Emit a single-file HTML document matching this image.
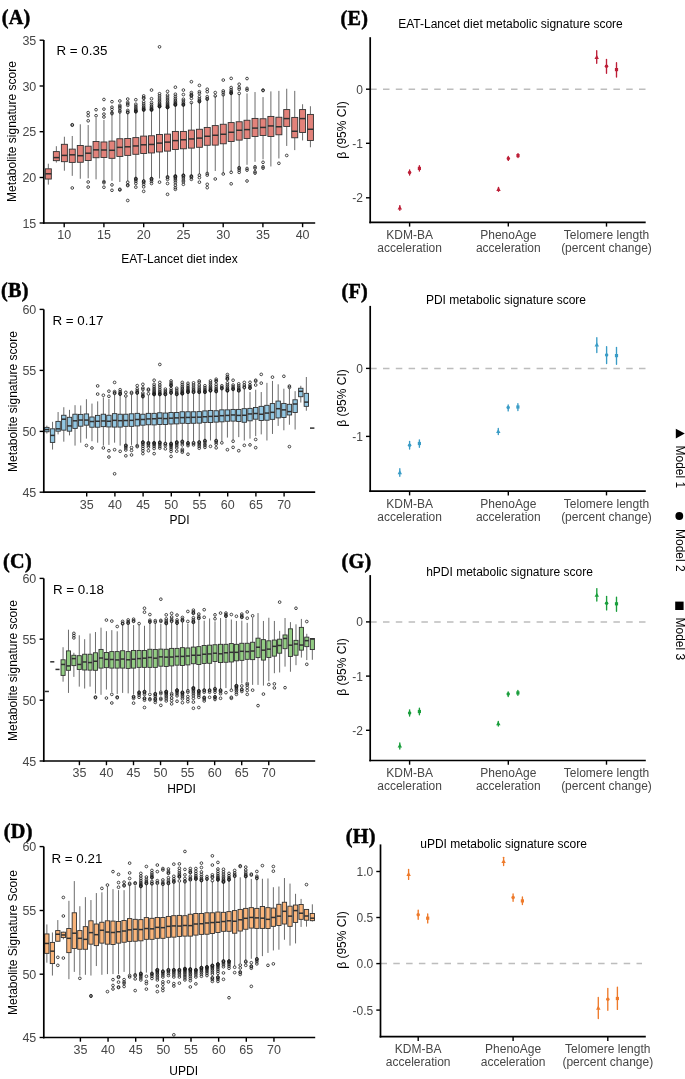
<!DOCTYPE html>
<html><head><meta charset="utf-8"><title>Figure</title>
<style>html,body{margin:0;padding:0;background:#fff}svg{display:block}</style></head>
<body>
<svg width="685" height="1079" viewBox="0 0 685 1079">
<rect width="685" height="1079" fill="#fff"/>
<text x="1.70" y="24.10" font-size="20.2" text-anchor="start" fill="#000" font-family="Liberation Serif, Times New Roman, serif" font-weight="bold" stroke="#000" stroke-width="0.5" stroke-linejoin="round" letter-spacing="0.3">(A)</text>
<g fill="none" stroke="#2b2b2b" stroke-width="0.55">
</g>
<g fill="none" stroke="#1c1c1c" stroke-width="0.8">
<line x1="48.32" y1="163.72" x2="48.32" y2="168.83" stroke="#6c6c6c" stroke-width="1.0" />
<line x1="48.32" y1="179.05" x2="48.32" y2="184.60" stroke="#6c6c6c" stroke-width="1.0" />
<line x1="56.35" y1="146.20" x2="56.35" y2="151.61" stroke="#6c6c6c" stroke-width="1.0" />
<line x1="56.35" y1="160.66" x2="56.35" y2="162.55" stroke="#6c6c6c" stroke-width="1.0" />
<line x1="64.38" y1="136.72" x2="64.38" y2="144.31" stroke="#6c6c6c" stroke-width="1.0" />
<line x1="64.38" y1="161.68" x2="64.38" y2="170.73" stroke="#6c6c6c" stroke-width="1.0" />
<line x1="72.26" y1="135.99" x2="72.26" y2="149.12" stroke="#6c6c6c" stroke-width="1.0" />
<line x1="72.26" y1="162.41" x2="72.26" y2="175.84" stroke="#6c6c6c" stroke-width="1.0" />
<line x1="80.29" y1="124.31" x2="80.29" y2="145.47" stroke="#6c6c6c" stroke-width="1.0" />
<line x1="80.29" y1="162.26" x2="80.29" y2="178.76" stroke="#6c6c6c" stroke-width="1.0" />
<line x1="88.18" y1="125.04" x2="88.18" y2="146.20" stroke="#6c6c6c" stroke-width="1.0" />
<line x1="88.18" y1="160.51" x2="88.18" y2="178.32" stroke="#6c6c6c" stroke-width="1.0" />
<line x1="96.06" y1="117.74" x2="96.06" y2="141.53" stroke="#6c6c6c" stroke-width="1.0" />
<line x1="96.06" y1="157.74" x2="96.06" y2="179.34" stroke="#6c6c6c" stroke-width="1.0" />
<line x1="103.94" y1="119.93" x2="103.94" y2="141.97" stroke="#6c6c6c" stroke-width="1.0" />
<line x1="103.94" y1="157.45" x2="103.94" y2="179.78" stroke="#6c6c6c" stroke-width="1.0" />
<line x1="111.97" y1="114.09" x2="111.97" y2="141.09" stroke="#6c6c6c" stroke-width="1.0" />
<line x1="111.97" y1="158.32" x2="111.97" y2="180.80" stroke="#6c6c6c" stroke-width="1.0" />
<line x1="119.85" y1="111.90" x2="119.85" y2="138.76" stroke="#6c6c6c" stroke-width="1.0" />
<line x1="119.85" y1="156.42" x2="119.85" y2="181.97" stroke="#6c6c6c" stroke-width="1.0" />
<line x1="127.74" y1="113.36" x2="127.74" y2="138.47" stroke="#6c6c6c" stroke-width="1.0" />
<line x1="127.74" y1="155.40" x2="127.74" y2="181.24" stroke="#6c6c6c" stroke-width="1.0" />
<line x1="135.84" y1="110.08" x2="135.84" y2="137.61" stroke="#6c6c6c" stroke-width="1.0" />
<line x1="135.84" y1="154.29" x2="135.84" y2="178.48" stroke="#6c6c6c" stroke-width="1.0" />
<line x1="143.68" y1="108.41" x2="143.68" y2="136.11" stroke="#6c6c6c" stroke-width="1.0" />
<line x1="143.68" y1="153.46" x2="143.68" y2="180.15" stroke="#6c6c6c" stroke-width="1.0" />
<line x1="151.52" y1="108.41" x2="151.52" y2="135.77" stroke="#6c6c6c" stroke-width="1.0" />
<line x1="151.52" y1="152.96" x2="151.52" y2="178.48" stroke="#6c6c6c" stroke-width="1.0" />
<line x1="159.53" y1="105.91" x2="159.53" y2="134.44" stroke="#6c6c6c" stroke-width="1.0" />
<line x1="159.53" y1="151.96" x2="159.53" y2="178.48" stroke="#6c6c6c" stroke-width="1.0" />
<line x1="167.54" y1="106.74" x2="167.54" y2="134.10" stroke="#6c6c6c" stroke-width="1.0" />
<line x1="167.54" y1="151.12" x2="167.54" y2="176.81" stroke="#6c6c6c" stroke-width="1.0" />
<line x1="175.38" y1="104.24" x2="175.38" y2="131.43" stroke="#6c6c6c" stroke-width="1.0" />
<line x1="175.38" y1="149.45" x2="175.38" y2="175.98" stroke="#6c6c6c" stroke-width="1.0" />
<line x1="183.39" y1="103.41" x2="183.39" y2="131.43" stroke="#6c6c6c" stroke-width="1.0" />
<line x1="183.39" y1="148.79" x2="183.39" y2="175.15" stroke="#6c6c6c" stroke-width="1.0" />
<line x1="191.39" y1="102.57" x2="191.39" y2="130.10" stroke="#6c6c6c" stroke-width="1.0" />
<line x1="191.39" y1="148.12" x2="191.39" y2="175.98" stroke="#6c6c6c" stroke-width="1.0" />
<line x1="199.40" y1="100.90" x2="199.40" y2="129.27" stroke="#6c6c6c" stroke-width="1.0" />
<line x1="199.40" y1="147.28" x2="199.40" y2="174.31" stroke="#6c6c6c" stroke-width="1.0" />
<line x1="207.24" y1="99.24" x2="207.24" y2="127.43" stroke="#6c6c6c" stroke-width="1.0" />
<line x1="207.24" y1="145.28" x2="207.24" y2="173.48" stroke="#6c6c6c" stroke-width="1.0" />
<line x1="215.25" y1="95.90" x2="215.25" y2="125.60" stroke="#6c6c6c" stroke-width="1.0" />
<line x1="215.25" y1="145.12" x2="215.25" y2="170.97" stroke="#6c6c6c" stroke-width="1.0" />
<line x1="223.26" y1="94.23" x2="223.26" y2="124.26" stroke="#6c6c6c" stroke-width="1.0" />
<line x1="223.26" y1="143.78" x2="223.26" y2="173.48" stroke="#6c6c6c" stroke-width="1.0" />
<line x1="231.17" y1="91.73" x2="231.17" y2="122.59" stroke="#6c6c6c" stroke-width="1.0" />
<line x1="231.17" y1="141.44" x2="231.17" y2="171.81" stroke="#6c6c6c" stroke-width="1.0" />
<line x1="239.18" y1="94.23" x2="239.18" y2="121.76" stroke="#6c6c6c" stroke-width="1.0" />
<line x1="239.18" y1="140.11" x2="239.18" y2="167.64" stroke="#6c6c6c" stroke-width="1.0" />
<line x1="247.02" y1="93.40" x2="247.02" y2="120.26" stroke="#6c6c6c" stroke-width="1.0" />
<line x1="247.02" y1="138.44" x2="247.02" y2="164.80" stroke="#6c6c6c" stroke-width="1.0" />
<line x1="255.03" y1="92.06" x2="255.03" y2="118.42" stroke="#6c6c6c" stroke-width="1.0" />
<line x1="255.03" y1="136.44" x2="255.03" y2="161.80" stroke="#6c6c6c" stroke-width="1.0" />
<line x1="263.04" y1="97.07" x2="263.04" y2="118.76" stroke="#6c6c6c" stroke-width="1.0" />
<line x1="263.04" y1="135.44" x2="263.04" y2="159.30" stroke="#6c6c6c" stroke-width="1.0" />
<line x1="270.88" y1="91.39" x2="270.88" y2="116.42" stroke="#6c6c6c" stroke-width="1.0" />
<line x1="270.88" y1="136.44" x2="270.88" y2="166.47" stroke="#6c6c6c" stroke-width="1.0" />
<line x1="278.89" y1="90.89" x2="278.89" y2="117.25" stroke="#6c6c6c" stroke-width="1.0" />
<line x1="278.89" y1="134.77" x2="278.89" y2="158.46" stroke="#6c6c6c" stroke-width="1.0" />
<line x1="286.73" y1="88.73" x2="286.73" y2="109.58" stroke="#6c6c6c" stroke-width="1.0" />
<line x1="286.73" y1="126.43" x2="286.73" y2="145.95" stroke="#6c6c6c" stroke-width="1.0" />
<line x1="294.74" y1="90.89" x2="294.74" y2="117.42" stroke="#6c6c6c" stroke-width="1.0" />
<line x1="294.74" y1="137.77" x2="294.74" y2="150.12" stroke="#6c6c6c" stroke-width="1.0" />
<line x1="302.58" y1="104.24" x2="302.58" y2="109.58" stroke="#6c6c6c" stroke-width="1.0" />
<line x1="302.58" y1="132.44" x2="302.58" y2="140.44" stroke="#6c6c6c" stroke-width="1.0" />
<line x1="310.42" y1="106.24" x2="310.42" y2="114.42" stroke="#6c6c6c" stroke-width="1.0" />
<line x1="310.42" y1="140.44" x2="310.42" y2="147.28" stroke="#6c6c6c" stroke-width="1.0" />
<circle cx="72.26" cy="124.74" r="1.35"/>
<circle cx="72.26" cy="125.18" r="1.35"/>
<circle cx="72.26" cy="187.96" r="1.35"/>
<circle cx="88.18" cy="112.63" r="1.35"/>
<circle cx="88.18" cy="115.69" r="1.35"/>
<circle cx="88.18" cy="120.80" r="1.35"/>
<circle cx="88.18" cy="181.97" r="1.35"/>
<circle cx="88.18" cy="187.08" r="1.35"/>
<circle cx="96.06" cy="109.71" r="1.35"/>
<circle cx="96.06" cy="115.69" r="1.35"/>
<circle cx="103.94" cy="99.49" r="1.35"/>
<circle cx="103.94" cy="109.12" r="1.35"/>
<circle cx="103.94" cy="114.09" r="1.35"/>
<circle cx="103.94" cy="117.01" r="1.35"/>
<circle cx="103.94" cy="181.53" r="1.35"/>
<circle cx="103.94" cy="182.70" r="1.35"/>
<circle cx="103.94" cy="187.23" r="1.35"/>
<circle cx="111.97" cy="101.68" r="1.35"/>
<circle cx="111.97" cy="107.23" r="1.35"/>
<circle cx="111.97" cy="109.42" r="1.35"/>
<circle cx="111.97" cy="113.65" r="1.35"/>
<circle cx="111.97" cy="112.63" r="1.35"/>
<circle cx="111.97" cy="184.89" r="1.35"/>
<circle cx="111.97" cy="190.29" r="1.35"/>
<circle cx="119.85" cy="100.95" r="1.35"/>
<circle cx="119.85" cy="105.33" r="1.35"/>
<circle cx="119.85" cy="108.25" r="1.35"/>
<circle cx="119.85" cy="106.79" r="1.35"/>
<circle cx="119.85" cy="111.90" r="1.35"/>
<circle cx="119.85" cy="110.44" r="1.35"/>
<circle cx="119.85" cy="189.27" r="1.35"/>
<circle cx="119.85" cy="190.00" r="1.35"/>
<circle cx="127.74" cy="99.05" r="1.35"/>
<circle cx="127.74" cy="102.41" r="1.35"/>
<circle cx="127.74" cy="105.33" r="1.35"/>
<circle cx="127.74" cy="103.87" r="1.35"/>
<circle cx="127.74" cy="112.63" r="1.35"/>
<circle cx="127.74" cy="112.04" r="1.35"/>
<circle cx="127.74" cy="110.44" r="1.35"/>
<circle cx="127.74" cy="182.26" r="1.35"/>
<circle cx="127.74" cy="184.89" r="1.35"/>
<circle cx="127.74" cy="185.62" r="1.35"/>
<circle cx="127.74" cy="200.51" r="1.35"/>
<circle cx="135.84" cy="99.74" r="1.35"/>
<circle cx="135.84" cy="111.75" r="1.35"/>
<circle cx="135.84" cy="111.56" r="1.35"/>
<circle cx="135.84" cy="111.05" r="1.35"/>
<circle cx="135.84" cy="110.25" r="1.35"/>
<circle cx="135.84" cy="109.16" r="1.35"/>
<circle cx="135.84" cy="107.79" r="1.35"/>
<circle cx="135.84" cy="106.15" r="1.35"/>
<circle cx="135.84" cy="104.24" r="1.35"/>
<circle cx="135.84" cy="178.48" r="1.35"/>
<circle cx="135.84" cy="178.84" r="1.35"/>
<circle cx="135.84" cy="179.82" r="1.35"/>
<circle cx="135.84" cy="181.38" r="1.35"/>
<circle cx="135.84" cy="183.49" r="1.35"/>
<circle cx="135.84" cy="187.16" r="1.35"/>
<circle cx="143.68" cy="98.40" r="1.35"/>
<circle cx="143.68" cy="97.73" r="1.35"/>
<circle cx="143.68" cy="95.90" r="1.35"/>
<circle cx="143.68" cy="110.08" r="1.35"/>
<circle cx="143.68" cy="109.87" r="1.35"/>
<circle cx="143.68" cy="109.31" r="1.35"/>
<circle cx="143.68" cy="108.41" r="1.35"/>
<circle cx="143.68" cy="107.20" r="1.35"/>
<circle cx="143.68" cy="105.68" r="1.35"/>
<circle cx="143.68" cy="103.86" r="1.35"/>
<circle cx="143.68" cy="101.74" r="1.35"/>
<circle cx="143.68" cy="180.98" r="1.35"/>
<circle cx="143.68" cy="181.40" r="1.35"/>
<circle cx="143.68" cy="182.53" r="1.35"/>
<circle cx="143.68" cy="184.32" r="1.35"/>
<circle cx="143.68" cy="186.82" r="1.35"/>
<circle cx="143.68" cy="191.33" r="1.35"/>
<circle cx="151.52" cy="90.06" r="1.35"/>
<circle cx="151.52" cy="98.74" r="1.35"/>
<circle cx="151.52" cy="110.08" r="1.35"/>
<circle cx="151.52" cy="109.89" r="1.35"/>
<circle cx="151.52" cy="109.39" r="1.35"/>
<circle cx="151.52" cy="108.58" r="1.35"/>
<circle cx="151.52" cy="107.49" r="1.35"/>
<circle cx="151.52" cy="106.12" r="1.35"/>
<circle cx="151.52" cy="104.48" r="1.35"/>
<circle cx="151.52" cy="102.57" r="1.35"/>
<circle cx="151.52" cy="178.48" r="1.35"/>
<circle cx="151.52" cy="178.84" r="1.35"/>
<circle cx="151.52" cy="179.82" r="1.35"/>
<circle cx="151.52" cy="181.38" r="1.35"/>
<circle cx="151.52" cy="183.49" r="1.35"/>
<circle cx="159.53" cy="46.85" r="1.35"/>
<circle cx="159.53" cy="93.73" r="1.35"/>
<circle cx="159.53" cy="106.74" r="1.35"/>
<circle cx="159.53" cy="106.58" r="1.35"/>
<circle cx="159.53" cy="106.12" r="1.35"/>
<circle cx="159.53" cy="105.40" r="1.35"/>
<circle cx="159.53" cy="104.42" r="1.35"/>
<circle cx="159.53" cy="103.19" r="1.35"/>
<circle cx="159.53" cy="101.72" r="1.35"/>
<circle cx="159.53" cy="100.02" r="1.35"/>
<circle cx="159.53" cy="98.07" r="1.35"/>
<circle cx="159.53" cy="95.90" r="1.35"/>
<circle cx="159.53" cy="182.15" r="1.35"/>
<circle cx="167.54" cy="91.39" r="1.35"/>
<circle cx="167.54" cy="107.58" r="1.35"/>
<circle cx="167.54" cy="107.45" r="1.35"/>
<circle cx="167.54" cy="107.09" r="1.35"/>
<circle cx="167.54" cy="106.52" r="1.35"/>
<circle cx="167.54" cy="105.75" r="1.35"/>
<circle cx="167.54" cy="104.78" r="1.35"/>
<circle cx="167.54" cy="103.62" r="1.35"/>
<circle cx="167.54" cy="102.28" r="1.35"/>
<circle cx="167.54" cy="100.75" r="1.35"/>
<circle cx="167.54" cy="99.03" r="1.35"/>
<circle cx="167.54" cy="97.14" r="1.35"/>
<circle cx="167.54" cy="95.07" r="1.35"/>
<circle cx="167.54" cy="176.81" r="1.35"/>
<circle cx="167.54" cy="177.48" r="1.35"/>
<circle cx="167.54" cy="179.32" r="1.35"/>
<circle cx="167.54" cy="183.49" r="1.35"/>
<circle cx="167.54" cy="194.33" r="1.35"/>
<circle cx="175.38" cy="87.22" r="1.35"/>
<circle cx="175.38" cy="105.08" r="1.35"/>
<circle cx="175.38" cy="104.91" r="1.35"/>
<circle cx="175.38" cy="104.45" r="1.35"/>
<circle cx="175.38" cy="103.73" r="1.35"/>
<circle cx="175.38" cy="102.75" r="1.35"/>
<circle cx="175.38" cy="101.53" r="1.35"/>
<circle cx="175.38" cy="100.06" r="1.35"/>
<circle cx="175.38" cy="98.35" r="1.35"/>
<circle cx="175.38" cy="96.41" r="1.35"/>
<circle cx="175.38" cy="94.23" r="1.35"/>
<circle cx="175.38" cy="175.98" r="1.35"/>
<circle cx="175.38" cy="176.20" r="1.35"/>
<circle cx="175.38" cy="176.81" r="1.35"/>
<circle cx="175.38" cy="177.77" r="1.35"/>
<circle cx="175.38" cy="179.07" r="1.35"/>
<circle cx="175.38" cy="180.70" r="1.35"/>
<circle cx="175.38" cy="182.65" r="1.35"/>
<circle cx="175.38" cy="185.16" r="1.35"/>
<circle cx="175.38" cy="187.66" r="1.35"/>
<circle cx="175.38" cy="189.33" r="1.35"/>
<circle cx="183.39" cy="90.06" r="1.35"/>
<circle cx="183.39" cy="94.56" r="1.35"/>
<circle cx="183.39" cy="99.24" r="1.35"/>
<circle cx="183.39" cy="105.08" r="1.35"/>
<circle cx="183.39" cy="104.78" r="1.35"/>
<circle cx="183.39" cy="103.96" r="1.35"/>
<circle cx="183.39" cy="102.66" r="1.35"/>
<circle cx="183.39" cy="100.90" r="1.35"/>
<circle cx="183.39" cy="175.15" r="1.35"/>
<circle cx="183.39" cy="175.50" r="1.35"/>
<circle cx="183.39" cy="176.49" r="1.35"/>
<circle cx="183.39" cy="178.04" r="1.35"/>
<circle cx="183.39" cy="180.15" r="1.35"/>
<circle cx="183.39" cy="181.82" r="1.35"/>
<circle cx="183.39" cy="184.32" r="1.35"/>
<circle cx="191.39" cy="81.72" r="1.35"/>
<circle cx="191.39" cy="95.90" r="1.35"/>
<circle cx="191.39" cy="95.49" r="1.35"/>
<circle cx="191.39" cy="94.35" r="1.35"/>
<circle cx="191.39" cy="92.56" r="1.35"/>
<circle cx="191.39" cy="98.40" r="1.35"/>
<circle cx="191.39" cy="102.57" r="1.35"/>
<circle cx="191.39" cy="175.98" r="1.35"/>
<circle cx="191.39" cy="176.39" r="1.35"/>
<circle cx="191.39" cy="177.52" r="1.35"/>
<circle cx="191.39" cy="179.32" r="1.35"/>
<circle cx="199.40" cy="85.39" r="1.35"/>
<circle cx="199.40" cy="93.40" r="1.35"/>
<circle cx="199.40" cy="91.73" r="1.35"/>
<circle cx="199.40" cy="101.74" r="1.35"/>
<circle cx="199.40" cy="101.38" r="1.35"/>
<circle cx="199.40" cy="100.40" r="1.35"/>
<circle cx="199.40" cy="98.84" r="1.35"/>
<circle cx="199.40" cy="96.73" r="1.35"/>
<circle cx="199.40" cy="175.15" r="1.35"/>
<circle cx="199.40" cy="177.65" r="1.35"/>
<circle cx="199.40" cy="182.15" r="1.35"/>
<circle cx="207.24" cy="89.23" r="1.35"/>
<circle cx="207.24" cy="91.73" r="1.35"/>
<circle cx="207.24" cy="99.24" r="1.35"/>
<circle cx="207.24" cy="98.57" r="1.35"/>
<circle cx="207.24" cy="96.73" r="1.35"/>
<circle cx="207.24" cy="173.48" r="1.35"/>
<circle cx="207.24" cy="175.15" r="1.35"/>
<circle cx="207.24" cy="184.32" r="1.35"/>
<circle cx="207.24" cy="187.66" r="1.35"/>
<circle cx="215.25" cy="92.56" r="1.35"/>
<circle cx="215.25" cy="95.90" r="1.35"/>
<circle cx="215.25" cy="178.98" r="1.35"/>
<circle cx="223.26" cy="80.05" r="1.35"/>
<circle cx="223.26" cy="92.56" r="1.35"/>
<circle cx="223.26" cy="90.89" r="1.35"/>
<circle cx="223.26" cy="94.73" r="1.35"/>
<circle cx="223.26" cy="173.98" r="1.35"/>
<circle cx="231.17" cy="78.38" r="1.35"/>
<circle cx="231.17" cy="93.40" r="1.35"/>
<circle cx="231.17" cy="93.12" r="1.35"/>
<circle cx="231.17" cy="92.37" r="1.35"/>
<circle cx="231.17" cy="91.18" r="1.35"/>
<circle cx="231.17" cy="89.58" r="1.35"/>
<circle cx="231.17" cy="87.56" r="1.35"/>
<circle cx="231.17" cy="172.31" r="1.35"/>
<circle cx="231.17" cy="183.82" r="1.35"/>
<circle cx="239.18" cy="84.22" r="1.35"/>
<circle cx="239.18" cy="89.23" r="1.35"/>
<circle cx="239.18" cy="87.56" r="1.35"/>
<circle cx="239.18" cy="93.40" r="1.35"/>
<circle cx="239.18" cy="167.64" r="1.35"/>
<circle cx="239.18" cy="168.31" r="1.35"/>
<circle cx="239.18" cy="170.14" r="1.35"/>
<circle cx="239.18" cy="172.31" r="1.35"/>
<circle cx="247.02" cy="78.55" r="1.35"/>
<circle cx="247.02" cy="90.06" r="1.35"/>
<circle cx="247.02" cy="88.39" r="1.35"/>
<circle cx="247.02" cy="168.47" r="1.35"/>
<circle cx="247.02" cy="170.14" r="1.35"/>
<circle cx="247.02" cy="180.98" r="1.35"/>
<circle cx="255.03" cy="166.80" r="1.35"/>
<circle cx="255.03" cy="168.14" r="1.35"/>
<circle cx="255.03" cy="171.81" r="1.35"/>
<circle cx="255.03" cy="173.14" r="1.35"/>
<circle cx="263.04" cy="90.56" r="1.35"/>
<circle cx="263.04" cy="90.06" r="1.35"/>
<circle cx="263.04" cy="162.30" r="1.35"/>
<circle cx="263.04" cy="166.80" r="1.35"/>
<circle cx="263.04" cy="168.14" r="1.35"/>
<circle cx="278.89" cy="163.30" r="1.35"/>
<circle cx="286.73" cy="155.46" r="1.35"/>
<rect x="45.32" y="168.83" width="6.00" height="10.22" fill="#e2827a" stroke="#303030" stroke-width="0.9"/>
<line x1="45.32" y1="173.80" x2="51.32" y2="173.80" stroke="#303030" stroke-width="1.5" />
<rect x="53.35" y="151.61" width="6.00" height="9.05" fill="#e2827a" stroke="#303030" stroke-width="0.9"/>
<line x1="53.35" y1="157.59" x2="59.35" y2="157.59" stroke="#303030" stroke-width="1.5" />
<rect x="61.38" y="144.31" width="6.00" height="17.37" fill="#e2827a" stroke="#303030" stroke-width="0.9"/>
<line x1="61.38" y1="155.40" x2="67.38" y2="155.40" stroke="#303030" stroke-width="1.5" />
<rect x="69.26" y="149.12" width="6.00" height="13.28" fill="#e2827a" stroke="#303030" stroke-width="0.9"/>
<line x1="69.26" y1="154.82" x2="75.26" y2="154.82" stroke="#303030" stroke-width="1.5" />
<rect x="77.29" y="145.47" width="6.00" height="16.79" fill="#e2827a" stroke="#303030" stroke-width="0.9"/>
<line x1="77.29" y1="155.69" x2="83.29" y2="155.69" stroke="#303030" stroke-width="1.5" />
<rect x="85.18" y="146.20" width="6.00" height="14.31" fill="#e2827a" stroke="#303030" stroke-width="0.9"/>
<line x1="85.18" y1="153.21" x2="91.18" y2="153.21" stroke="#303030" stroke-width="1.5" />
<rect x="93.06" y="141.53" width="6.00" height="16.20" fill="#e2827a" stroke="#303030" stroke-width="0.9"/>
<line x1="93.06" y1="149.85" x2="99.06" y2="149.85" stroke="#303030" stroke-width="1.5" />
<rect x="100.94" y="141.97" width="6.00" height="15.47" fill="#e2827a" stroke="#303030" stroke-width="0.9"/>
<line x1="100.94" y1="150.00" x2="106.94" y2="150.00" stroke="#303030" stroke-width="1.5" />
<rect x="108.97" y="141.09" width="6.00" height="17.23" fill="#e2827a" stroke="#303030" stroke-width="0.9"/>
<line x1="108.97" y1="150.29" x2="114.97" y2="150.29" stroke="#303030" stroke-width="1.5" />
<rect x="116.85" y="138.76" width="6.00" height="17.66" fill="#e2827a" stroke="#303030" stroke-width="0.9"/>
<line x1="116.85" y1="147.37" x2="122.85" y2="147.37" stroke="#303030" stroke-width="1.5" />
<rect x="124.74" y="138.47" width="6.00" height="16.93" fill="#e2827a" stroke="#303030" stroke-width="0.9"/>
<line x1="124.74" y1="146.79" x2="130.74" y2="146.79" stroke="#303030" stroke-width="1.5" />
<rect x="132.84" y="137.61" width="6.00" height="16.68" fill="#e2827a" stroke="#303030" stroke-width="0.9"/>
<line x1="132.84" y1="145.95" x2="138.84" y2="145.95" stroke="#303030" stroke-width="1.5" />
<rect x="140.68" y="136.11" width="6.00" height="17.35" fill="#e2827a" stroke="#303030" stroke-width="0.9"/>
<line x1="140.68" y1="144.78" x2="146.68" y2="144.78" stroke="#303030" stroke-width="1.5" />
<rect x="148.52" y="135.77" width="6.00" height="17.18" fill="#e2827a" stroke="#303030" stroke-width="0.9"/>
<line x1="148.52" y1="144.45" x2="154.52" y2="144.45" stroke="#303030" stroke-width="1.5" />
<rect x="156.53" y="134.44" width="6.00" height="17.52" fill="#e2827a" stroke="#303030" stroke-width="0.9"/>
<line x1="156.53" y1="143.11" x2="162.53" y2="143.11" stroke="#303030" stroke-width="1.5" />
<rect x="164.54" y="134.10" width="6.00" height="17.02" fill="#e2827a" stroke="#303030" stroke-width="0.9"/>
<line x1="164.54" y1="142.11" x2="170.54" y2="142.11" stroke="#303030" stroke-width="1.5" />
<rect x="172.38" y="131.43" width="6.00" height="18.02" fill="#e2827a" stroke="#303030" stroke-width="0.9"/>
<line x1="172.38" y1="140.61" x2="178.38" y2="140.61" stroke="#303030" stroke-width="1.5" />
<rect x="180.39" y="131.43" width="6.00" height="17.35" fill="#e2827a" stroke="#303030" stroke-width="0.9"/>
<line x1="180.39" y1="139.78" x2="186.39" y2="139.78" stroke="#303030" stroke-width="1.5" />
<rect x="188.39" y="130.10" width="6.00" height="18.02" fill="#e2827a" stroke="#303030" stroke-width="0.9"/>
<line x1="188.39" y1="138.94" x2="194.39" y2="138.94" stroke="#303030" stroke-width="1.5" />
<rect x="196.40" y="129.27" width="6.00" height="18.02" fill="#e2827a" stroke="#303030" stroke-width="0.9"/>
<line x1="196.40" y1="138.11" x2="202.40" y2="138.11" stroke="#303030" stroke-width="1.5" />
<rect x="204.24" y="127.43" width="6.00" height="17.85" fill="#e2827a" stroke="#303030" stroke-width="0.9"/>
<line x1="204.24" y1="136.27" x2="210.24" y2="136.27" stroke="#303030" stroke-width="1.5" />
<rect x="212.25" y="125.60" width="6.00" height="19.52" fill="#e2827a" stroke="#303030" stroke-width="0.9"/>
<line x1="212.25" y1="135.27" x2="218.25" y2="135.27" stroke="#303030" stroke-width="1.5" />
<rect x="220.26" y="124.26" width="6.00" height="19.52" fill="#e2827a" stroke="#303030" stroke-width="0.9"/>
<line x1="220.26" y1="134.27" x2="226.26" y2="134.27" stroke="#303030" stroke-width="1.5" />
<rect x="228.17" y="122.59" width="6.00" height="18.85" fill="#e2827a" stroke="#303030" stroke-width="0.9"/>
<line x1="228.17" y1="132.27" x2="234.17" y2="132.27" stroke="#303030" stroke-width="1.5" />
<rect x="236.18" y="121.76" width="6.00" height="18.35" fill="#e2827a" stroke="#303030" stroke-width="0.9"/>
<line x1="236.18" y1="130.27" x2="242.18" y2="130.27" stroke="#303030" stroke-width="1.5" />
<rect x="244.02" y="120.26" width="6.00" height="18.18" fill="#e2827a" stroke="#303030" stroke-width="0.9"/>
<line x1="244.02" y1="129.60" x2="250.02" y2="129.60" stroke="#303030" stroke-width="1.5" />
<rect x="252.03" y="118.42" width="6.00" height="18.02" fill="#e2827a" stroke="#303030" stroke-width="0.9"/>
<line x1="252.03" y1="128.10" x2="258.03" y2="128.10" stroke="#303030" stroke-width="1.5" />
<rect x="260.04" y="118.76" width="6.00" height="16.68" fill="#e2827a" stroke="#303030" stroke-width="0.9"/>
<line x1="260.04" y1="127.43" x2="266.04" y2="127.43" stroke="#303030" stroke-width="1.5" />
<rect x="267.88" y="116.42" width="6.00" height="20.02" fill="#e2827a" stroke="#303030" stroke-width="0.9"/>
<line x1="267.88" y1="125.93" x2="273.88" y2="125.93" stroke="#303030" stroke-width="1.5" />
<rect x="275.89" y="117.25" width="6.00" height="17.52" fill="#e2827a" stroke="#303030" stroke-width="0.9"/>
<line x1="275.89" y1="126.76" x2="281.89" y2="126.76" stroke="#303030" stroke-width="1.5" />
<rect x="283.73" y="109.58" width="6.00" height="16.85" fill="#e2827a" stroke="#303030" stroke-width="0.9"/>
<line x1="283.73" y1="118.59" x2="289.73" y2="118.59" stroke="#303030" stroke-width="1.5" />
<rect x="291.74" y="117.42" width="6.00" height="20.35" fill="#e2827a" stroke="#303030" stroke-width="0.9"/>
<line x1="291.74" y1="131.27" x2="297.74" y2="131.27" stroke="#303030" stroke-width="1.5" />
<rect x="299.58" y="109.58" width="6.00" height="22.86" fill="#e2827a" stroke="#303030" stroke-width="0.9"/>
<line x1="299.58" y1="118.59" x2="305.58" y2="118.59" stroke="#303030" stroke-width="1.5" />
<rect x="307.42" y="114.42" width="6.00" height="26.03" fill="#e2827a" stroke="#303030" stroke-width="0.9"/>
<line x1="307.42" y1="129.27" x2="313.42" y2="129.27" stroke="#303030" stroke-width="1.5" />
</g>
<line x1="43.80" y1="40.00" x2="43.80" y2="223.85" stroke="#000" stroke-width="1.7" />
<line x1="42.95" y1="223.00" x2="315.20" y2="223.00" stroke="#000" stroke-width="1.7" />
<line x1="39.60" y1="40.20" x2="43.80" y2="40.20" stroke="#000" stroke-width="1.4" />
<text x="36.30" y="44.70" font-size="12.5" text-anchor="end" fill="#474747" font-family="Liberation Sans, Arial, sans-serif" >35</text>
<line x1="39.60" y1="86.00" x2="43.80" y2="86.00" stroke="#000" stroke-width="1.4" />
<text x="36.30" y="90.50" font-size="12.5" text-anchor="end" fill="#474747" font-family="Liberation Sans, Arial, sans-serif" >30</text>
<line x1="39.60" y1="131.70" x2="43.80" y2="131.70" stroke="#000" stroke-width="1.4" />
<text x="36.30" y="136.20" font-size="12.5" text-anchor="end" fill="#474747" font-family="Liberation Sans, Arial, sans-serif" >25</text>
<line x1="39.60" y1="177.50" x2="43.80" y2="177.50" stroke="#000" stroke-width="1.4" />
<text x="36.30" y="182.00" font-size="12.5" text-anchor="end" fill="#474747" font-family="Liberation Sans, Arial, sans-serif" >20</text>
<line x1="39.60" y1="223.00" x2="43.80" y2="223.00" stroke="#000" stroke-width="1.4" />
<text x="36.30" y="227.50" font-size="12.5" text-anchor="end" fill="#474747" font-family="Liberation Sans, Arial, sans-serif" >15</text>
<line x1="64.20" y1="223.00" x2="64.20" y2="227.20" stroke="#000" stroke-width="1.4" />
<text x="64.20" y="239.40" font-size="12.5" text-anchor="middle" fill="#474747" font-family="Liberation Sans, Arial, sans-serif" >10</text>
<line x1="103.90" y1="223.00" x2="103.90" y2="227.20" stroke="#000" stroke-width="1.4" />
<text x="103.90" y="239.40" font-size="12.5" text-anchor="middle" fill="#474747" font-family="Liberation Sans, Arial, sans-serif" >15</text>
<line x1="143.70" y1="223.00" x2="143.70" y2="227.20" stroke="#000" stroke-width="1.4" />
<text x="143.70" y="239.40" font-size="12.5" text-anchor="middle" fill="#474747" font-family="Liberation Sans, Arial, sans-serif" >20</text>
<line x1="183.40" y1="223.00" x2="183.40" y2="227.20" stroke="#000" stroke-width="1.4" />
<text x="183.40" y="239.40" font-size="12.5" text-anchor="middle" fill="#474747" font-family="Liberation Sans, Arial, sans-serif" >25</text>
<line x1="223.20" y1="223.00" x2="223.20" y2="227.20" stroke="#000" stroke-width="1.4" />
<text x="223.20" y="239.40" font-size="12.5" text-anchor="middle" fill="#474747" font-family="Liberation Sans, Arial, sans-serif" >30</text>
<line x1="262.90" y1="223.00" x2="262.90" y2="227.20" stroke="#000" stroke-width="1.4" />
<text x="262.90" y="239.40" font-size="12.5" text-anchor="middle" fill="#474747" font-family="Liberation Sans, Arial, sans-serif" >35</text>
<line x1="302.60" y1="223.00" x2="302.60" y2="227.20" stroke="#000" stroke-width="1.4" />
<text x="302.60" y="239.40" font-size="12.5" text-anchor="middle" fill="#474747" font-family="Liberation Sans, Arial, sans-serif" >40</text>
<text transform="translate(16.40,131.50) rotate(-90)" font-size="12" text-anchor="middle" fill="#000" font-family="Liberation Sans, Arial, sans-serif">Metabolite signature score</text>
<text x="179.50" y="263.00" font-size="12" text-anchor="middle" fill="#000" font-family="Liberation Sans, Arial, sans-serif" >EAT-Lancet diet index</text>
<text x="56.50" y="54.80" font-size="13.35" text-anchor="start" fill="#000" font-family="Liberation Sans, Arial, sans-serif" >R = 0.35</text>
<text x="340.40" y="25.30" font-size="20.2" text-anchor="start" fill="#000" font-family="Liberation Serif, Times New Roman, serif" font-weight="bold" stroke="#000" stroke-width="0.5" stroke-linejoin="round" letter-spacing="0.3">(E)</text>
<text x="510.50" y="28.30" font-size="12" text-anchor="middle" fill="#000" font-family="Liberation Sans, Arial, sans-serif" >EAT-Lancet diet metabolic signature score</text>
<line x1="370.20" y1="89.20" x2="645.70" y2="89.20" stroke="#bdbdbd" stroke-width="1.5" stroke-dasharray="6.5 6.3"/>
<line x1="399.80" y1="205.60" x2="399.80" y2="210.20" stroke="#bd1f38" stroke-width="1.35" stroke-linecap="round"/>
<path d="M399.80,205.38 L402.00,209.47 L397.60,209.47 Z" fill="#bd1f38"/>
<line x1="409.60" y1="169.90" x2="409.60" y2="175.10" stroke="#bd1f38" stroke-width="1.35" stroke-linecap="round"/>
<circle cx="409.60" cy="172.40" r="1.75" fill="#bd1f38"/>
<line x1="419.40" y1="165.70" x2="419.40" y2="171.10" stroke="#bd1f38" stroke-width="1.35" stroke-linecap="round"/>
<rect x="417.80" y="166.80" width="3.20" height="3.20" fill="#bd1f38"/>
<line x1="498.50" y1="187.40" x2="498.50" y2="191.20" stroke="#bd1f38" stroke-width="1.35" stroke-linecap="round"/>
<path d="M498.50,186.78 L500.70,190.88 L496.30,190.88 Z" fill="#bd1f38"/>
<line x1="508.30" y1="156.40" x2="508.30" y2="160.40" stroke="#bd1f38" stroke-width="1.35" stroke-linecap="round"/>
<circle cx="508.30" cy="158.40" r="1.75" fill="#bd1f38"/>
<line x1="518.00" y1="153.60" x2="518.00" y2="157.60" stroke="#bd1f38" stroke-width="1.35" stroke-linecap="round"/>
<rect x="516.40" y="154.00" width="3.20" height="3.20" fill="#bd1f38"/>
<line x1="596.70" y1="50.70" x2="596.70" y2="63.20" stroke="#bd1f38" stroke-width="1.35" stroke-linecap="round"/>
<path d="M596.70,54.78 L598.91,58.88 L594.50,58.88 Z" fill="#bd1f38"/>
<line x1="606.50" y1="59.40" x2="606.50" y2="73.20" stroke="#bd1f38" stroke-width="1.35" stroke-linecap="round"/>
<circle cx="606.50" cy="66.30" r="1.75" fill="#bd1f38"/>
<line x1="616.50" y1="62.70" x2="616.50" y2="77.00" stroke="#bd1f38" stroke-width="1.35" stroke-linecap="round"/>
<rect x="614.90" y="68.00" width="3.20" height="3.20" fill="#bd1f38"/>
<line x1="370.20" y1="37.20" x2="370.20" y2="223.25" stroke="#000" stroke-width="1.7" />
<line x1="369.35" y1="222.40" x2="645.70" y2="222.40" stroke="#000" stroke-width="1.7" />
<line x1="366.00" y1="89.20" x2="370.20" y2="89.20" stroke="#000" stroke-width="1.4" />
<text x="362.90" y="93.70" font-size="12" text-anchor="end" fill="#474747" font-family="Liberation Sans, Arial, sans-serif" >0</text>
<line x1="366.00" y1="143.30" x2="370.20" y2="143.30" stroke="#000" stroke-width="1.4" />
<text x="362.90" y="147.80" font-size="12" text-anchor="end" fill="#474747" font-family="Liberation Sans, Arial, sans-serif" >-1</text>
<line x1="366.00" y1="197.80" x2="370.20" y2="197.80" stroke="#000" stroke-width="1.4" />
<text x="362.90" y="202.30" font-size="12" text-anchor="end" fill="#474747" font-family="Liberation Sans, Arial, sans-serif" >-2</text>
<line x1="409.60" y1="222.40" x2="409.60" y2="226.60" stroke="#000" stroke-width="1.4" />
<text x="409.60" y="238.90" font-size="12" text-anchor="middle" fill="#474747" font-family="Liberation Sans, Arial, sans-serif" >KDM-BA</text>
<text x="409.60" y="251.90" font-size="12" text-anchor="middle" fill="#474747" font-family="Liberation Sans, Arial, sans-serif" >acceleration</text>
<line x1="508.30" y1="222.40" x2="508.30" y2="226.60" stroke="#000" stroke-width="1.4" />
<text x="508.30" y="238.90" font-size="12" text-anchor="middle" fill="#474747" font-family="Liberation Sans, Arial, sans-serif" >PhenoAge</text>
<text x="508.30" y="251.90" font-size="12" text-anchor="middle" fill="#474747" font-family="Liberation Sans, Arial, sans-serif" >acceleration</text>
<line x1="606.50" y1="222.40" x2="606.50" y2="226.60" stroke="#000" stroke-width="1.4" />
<text x="606.50" y="238.90" font-size="12" text-anchor="middle" fill="#474747" font-family="Liberation Sans, Arial, sans-serif" >Telomere length</text>
<text x="606.50" y="251.90" font-size="12" text-anchor="middle" fill="#474747" font-family="Liberation Sans, Arial, sans-serif" >(percent change)</text>
<text transform="translate(346.40,130.00) rotate(-90)" font-size="12" text-anchor="middle" fill="#000" font-family="Liberation Sans, Arial, sans-serif">β (95% CI)</text>
<text x="0.90" y="297.20" font-size="20.2" text-anchor="start" fill="#000" font-family="Liberation Serif, Times New Roman, serif" font-weight="bold" stroke="#000" stroke-width="0.5" stroke-linejoin="round" letter-spacing="0.3">(B)</text>
<g fill="none" stroke="#2b2b2b" stroke-width="0.55">
</g>
<g fill="none" stroke="#1c1c1c" stroke-width="0.8">
<line x1="46.86" y1="425.62" x2="46.86" y2="427.37" stroke="#6c6c6c" stroke-width="1.0" />
<line x1="46.86" y1="431.75" x2="46.86" y2="433.50" stroke="#6c6c6c" stroke-width="1.0" />
<line x1="52.55" y1="421.82" x2="52.55" y2="428.83" stroke="#6c6c6c" stroke-width="1.0" />
<line x1="52.55" y1="442.41" x2="52.55" y2="449.56" stroke="#6c6c6c" stroke-width="1.0" />
<line x1="58.10" y1="412.04" x2="58.10" y2="421.39" stroke="#6c6c6c" stroke-width="1.0" />
<line x1="58.10" y1="431.17" x2="58.10" y2="434.38" stroke="#6c6c6c" stroke-width="1.0" />
<line x1="63.80" y1="407.23" x2="63.80" y2="415.26" stroke="#6c6c6c" stroke-width="1.0" />
<line x1="63.80" y1="430.15" x2="63.80" y2="441.68" stroke="#6c6c6c" stroke-width="1.0" />
<line x1="69.49" y1="409.85" x2="69.49" y2="417.30" stroke="#6c6c6c" stroke-width="1.0" />
<line x1="69.49" y1="431.17" x2="69.49" y2="435.40" stroke="#6c6c6c" stroke-width="1.0" />
<line x1="75.04" y1="405.18" x2="75.04" y2="414.23" stroke="#6c6c6c" stroke-width="1.0" />
<line x1="75.04" y1="428.39" x2="75.04" y2="445.62" stroke="#6c6c6c" stroke-width="1.0" />
<line x1="80.73" y1="405.47" x2="80.73" y2="414.38" stroke="#6c6c6c" stroke-width="1.0" />
<line x1="80.73" y1="426.20" x2="80.73" y2="442.70" stroke="#6c6c6c" stroke-width="1.0" />
<line x1="86.42" y1="399.20" x2="86.42" y2="413.94" stroke="#6c6c6c" stroke-width="1.0" />
<line x1="86.42" y1="425.18" x2="86.42" y2="438.61" stroke="#6c6c6c" stroke-width="1.0" />
<line x1="91.97" y1="403.58" x2="91.97" y2="417.01" stroke="#6c6c6c" stroke-width="1.0" />
<line x1="91.97" y1="427.23" x2="91.97" y2="441.24" stroke="#6c6c6c" stroke-width="1.0" />
<line x1="97.66" y1="401.39" x2="97.66" y2="415.40" stroke="#6c6c6c" stroke-width="1.0" />
<line x1="97.66" y1="427.23" x2="97.66" y2="442.70" stroke="#6c6c6c" stroke-width="1.0" />
<line x1="103.36" y1="397.45" x2="103.36" y2="414.23" stroke="#6c6c6c" stroke-width="1.0" />
<line x1="103.36" y1="426.64" x2="103.36" y2="445.62" stroke="#6c6c6c" stroke-width="1.0" />
<line x1="108.91" y1="398.91" x2="108.91" y2="415.26" stroke="#6c6c6c" stroke-width="1.0" />
<line x1="108.91" y1="426.93" x2="108.91" y2="444.89" stroke="#6c6c6c" stroke-width="1.0" />
<line x1="114.60" y1="394.53" x2="114.60" y2="413.65" stroke="#6c6c6c" stroke-width="1.0" />
<line x1="114.60" y1="427.08" x2="114.60" y2="442.70" stroke="#6c6c6c" stroke-width="1.0" />
<line x1="120.15" y1="394.53" x2="120.15" y2="414.23" stroke="#6c6c6c" stroke-width="1.0" />
<line x1="120.15" y1="427.08" x2="120.15" y2="445.62" stroke="#6c6c6c" stroke-width="1.0" />
<line x1="125.84" y1="397.45" x2="125.84" y2="414.23" stroke="#6c6c6c" stroke-width="1.0" />
<line x1="125.84" y1="426.35" x2="125.84" y2="443.43" stroke="#6c6c6c" stroke-width="1.0" />
<line x1="131.53" y1="394.53" x2="131.53" y2="413.80" stroke="#6c6c6c" stroke-width="1.0" />
<line x1="131.53" y1="426.35" x2="131.53" y2="444.89" stroke="#6c6c6c" stroke-width="1.0" />
<line x1="137.23" y1="393.80" x2="137.23" y2="413.36" stroke="#6c6c6c" stroke-width="1.0" />
<line x1="137.23" y1="425.91" x2="137.23" y2="444.16" stroke="#6c6c6c" stroke-width="1.0" />
<line x1="142.88" y1="393.80" x2="142.88" y2="414.23" stroke="#6c6c6c" stroke-width="1.0" />
<line x1="142.88" y1="425.18" x2="142.88" y2="441.97" stroke="#6c6c6c" stroke-width="1.0" />
<line x1="148.43" y1="395.26" x2="148.43" y2="413.36" stroke="#6c6c6c" stroke-width="1.0" />
<line x1="148.43" y1="424.74" x2="148.43" y2="442.70" stroke="#6c6c6c" stroke-width="1.0" />
<line x1="154.12" y1="393.80" x2="154.12" y2="413.36" stroke="#6c6c6c" stroke-width="1.0" />
<line x1="154.12" y1="424.89" x2="154.12" y2="442.70" stroke="#6c6c6c" stroke-width="1.0" />
<line x1="159.82" y1="393.07" x2="159.82" y2="412.77" stroke="#6c6c6c" stroke-width="1.0" />
<line x1="159.82" y1="424.45" x2="159.82" y2="442.26" stroke="#6c6c6c" stroke-width="1.0" />
<line x1="165.36" y1="394.53" x2="165.36" y2="413.07" stroke="#6c6c6c" stroke-width="1.0" />
<line x1="165.36" y1="424.45" x2="165.36" y2="442.70" stroke="#6c6c6c" stroke-width="1.0" />
<line x1="171.06" y1="393.80" x2="171.06" y2="412.48" stroke="#6c6c6c" stroke-width="1.0" />
<line x1="171.06" y1="424.01" x2="171.06" y2="442.70" stroke="#6c6c6c" stroke-width="1.0" />
<line x1="176.75" y1="394.53" x2="176.75" y2="412.48" stroke="#6c6c6c" stroke-width="1.0" />
<line x1="176.75" y1="423.87" x2="176.75" y2="441.97" stroke="#6c6c6c" stroke-width="1.0" />
<line x1="182.30" y1="393.07" x2="182.30" y2="411.75" stroke="#6c6c6c" stroke-width="1.0" />
<line x1="182.30" y1="423.28" x2="182.30" y2="441.24" stroke="#6c6c6c" stroke-width="1.0" />
<line x1="187.99" y1="392.34" x2="187.99" y2="411.75" stroke="#6c6c6c" stroke-width="1.0" />
<line x1="187.99" y1="423.43" x2="187.99" y2="441.97" stroke="#6c6c6c" stroke-width="1.0" />
<line x1="193.54" y1="393.07" x2="193.54" y2="411.75" stroke="#6c6c6c" stroke-width="1.0" />
<line x1="193.54" y1="423.28" x2="193.54" y2="441.97" stroke="#6c6c6c" stroke-width="1.0" />
<line x1="199.23" y1="392.34" x2="199.23" y2="411.61" stroke="#6c6c6c" stroke-width="1.0" />
<line x1="199.23" y1="423.14" x2="199.23" y2="441.24" stroke="#6c6c6c" stroke-width="1.0" />
<line x1="204.93" y1="392.34" x2="204.93" y2="410.88" stroke="#6c6c6c" stroke-width="1.0" />
<line x1="204.93" y1="422.41" x2="204.93" y2="440.51" stroke="#6c6c6c" stroke-width="1.0" />
<line x1="210.47" y1="391.61" x2="210.47" y2="410.44" stroke="#6c6c6c" stroke-width="1.0" />
<line x1="210.47" y1="422.55" x2="210.47" y2="440.51" stroke="#6c6c6c" stroke-width="1.0" />
<line x1="216.17" y1="391.61" x2="216.17" y2="410.73" stroke="#6c6c6c" stroke-width="1.0" />
<line x1="216.17" y1="422.12" x2="216.17" y2="439.78" stroke="#6c6c6c" stroke-width="1.0" />
<line x1="221.86" y1="389.42" x2="221.86" y2="409.85" stroke="#6c6c6c" stroke-width="1.0" />
<line x1="221.86" y1="421.82" x2="221.86" y2="441.24" stroke="#6c6c6c" stroke-width="1.0" />
<line x1="227.41" y1="390.88" x2="227.41" y2="409.85" stroke="#6c6c6c" stroke-width="1.0" />
<line x1="227.41" y1="421.24" x2="227.41" y2="437.59" stroke="#6c6c6c" stroke-width="1.0" />
<line x1="233.10" y1="390.15" x2="233.10" y2="409.42" stroke="#6c6c6c" stroke-width="1.0" />
<line x1="233.10" y1="421.09" x2="233.10" y2="439.78" stroke="#6c6c6c" stroke-width="1.0" />
<line x1="238.76" y1="392.34" x2="238.76" y2="409.42" stroke="#6c6c6c" stroke-width="1.0" />
<line x1="238.76" y1="421.53" x2="238.76" y2="437.15" stroke="#6c6c6c" stroke-width="1.0" />
<line x1="244.31" y1="388.69" x2="244.31" y2="408.69" stroke="#6c6c6c" stroke-width="1.0" />
<line x1="244.31" y1="422.26" x2="244.31" y2="440.51" stroke="#6c6c6c" stroke-width="1.0" />
<line x1="250.00" y1="392.04" x2="250.00" y2="408.39" stroke="#6c6c6c" stroke-width="1.0" />
<line x1="250.00" y1="420.80" x2="250.00" y2="438.61" stroke="#6c6c6c" stroke-width="1.0" />
<line x1="255.69" y1="389.71" x2="255.69" y2="407.52" stroke="#6c6c6c" stroke-width="1.0" />
<line x1="255.69" y1="419.20" x2="255.69" y2="436.13" stroke="#6c6c6c" stroke-width="1.0" />
<line x1="261.24" y1="392.04" x2="261.24" y2="406.35" stroke="#6c6c6c" stroke-width="1.0" />
<line x1="261.24" y1="420.51" x2="261.24" y2="434.38" stroke="#6c6c6c" stroke-width="1.0" />
<line x1="266.93" y1="382.85" x2="266.93" y2="405.33" stroke="#6c6c6c" stroke-width="1.0" />
<line x1="266.93" y1="420.22" x2="266.93" y2="440.51" stroke="#6c6c6c" stroke-width="1.0" />
<line x1="272.48" y1="380.95" x2="272.48" y2="403.58" stroke="#6c6c6c" stroke-width="1.0" />
<line x1="272.48" y1="419.34" x2="272.48" y2="433.94" stroke="#6c6c6c" stroke-width="1.0" />
<line x1="278.18" y1="384.31" x2="278.18" y2="401.09" stroke="#6c6c6c" stroke-width="1.0" />
<line x1="278.18" y1="417.88" x2="278.18" y2="425.91" stroke="#6c6c6c" stroke-width="1.0" />
<line x1="283.87" y1="388.69" x2="283.87" y2="403.43" stroke="#6c6c6c" stroke-width="1.0" />
<line x1="283.87" y1="417.45" x2="283.87" y2="430.29" stroke="#6c6c6c" stroke-width="1.0" />
<line x1="289.42" y1="388.69" x2="289.42" y2="404.31" stroke="#6c6c6c" stroke-width="1.0" />
<line x1="289.42" y1="414.96" x2="289.42" y2="424.74" stroke="#6c6c6c" stroke-width="1.0" />
<line x1="295.11" y1="391.17" x2="295.11" y2="399.78" stroke="#6c6c6c" stroke-width="1.0" />
<line x1="295.11" y1="412.48" x2="295.11" y2="429.56" stroke="#6c6c6c" stroke-width="1.0" />
<line x1="300.80" y1="385.77" x2="300.80" y2="388.25" stroke="#6c6c6c" stroke-width="1.0" />
<line x1="300.80" y1="396.72" x2="300.80" y2="402.55" stroke="#6c6c6c" stroke-width="1.0" />
<line x1="306.35" y1="377.01" x2="306.35" y2="393.36" stroke="#6c6c6c" stroke-width="1.0" />
<line x1="306.35" y1="406.35" x2="306.35" y2="410.73" stroke="#6c6c6c" stroke-width="1.0" />
<circle cx="86.42" cy="445.47" r="1.35"/>
<circle cx="91.97" cy="447.96" r="1.35"/>
<circle cx="97.66" cy="385.91" r="1.35"/>
<circle cx="97.66" cy="394.09" r="1.35"/>
<circle cx="103.36" cy="395.26" r="1.35"/>
<circle cx="103.36" cy="447.96" r="1.35"/>
<circle cx="108.91" cy="391.17" r="1.35"/>
<circle cx="108.91" cy="396.28" r="1.35"/>
<circle cx="108.91" cy="450.73" r="1.35"/>
<circle cx="108.91" cy="457.01" r="1.35"/>
<circle cx="114.60" cy="382.41" r="1.35"/>
<circle cx="114.60" cy="393.36" r="1.35"/>
<circle cx="114.60" cy="392.89" r="1.35"/>
<circle cx="114.60" cy="391.61" r="1.35"/>
<circle cx="114.60" cy="449.71" r="1.35"/>
<circle cx="114.60" cy="473.80" r="1.35"/>
<circle cx="120.15" cy="394.23" r="1.35"/>
<circle cx="120.15" cy="393.91" r="1.35"/>
<circle cx="120.15" cy="393.02" r="1.35"/>
<circle cx="120.15" cy="391.61" r="1.35"/>
<circle cx="120.15" cy="389.71" r="1.35"/>
<circle cx="120.15" cy="451.31" r="1.35"/>
<circle cx="125.84" cy="392.34" r="1.35"/>
<circle cx="125.84" cy="395.99" r="1.35"/>
<circle cx="125.84" cy="445.18" r="1.35"/>
<circle cx="125.84" cy="445.53" r="1.35"/>
<circle cx="125.84" cy="446.47" r="1.35"/>
<circle cx="125.84" cy="447.97" r="1.35"/>
<circle cx="125.84" cy="450.00" r="1.35"/>
<circle cx="125.84" cy="455.84" r="1.35"/>
<circle cx="131.53" cy="393.36" r="1.35"/>
<circle cx="131.53" cy="392.34" r="1.35"/>
<circle cx="131.53" cy="447.52" r="1.35"/>
<circle cx="131.53" cy="450.44" r="1.35"/>
<circle cx="131.53" cy="454.96" r="1.35"/>
<circle cx="137.23" cy="385.62" r="1.35"/>
<circle cx="137.23" cy="393.07" r="1.35"/>
<circle cx="137.23" cy="392.75" r="1.35"/>
<circle cx="137.23" cy="391.89" r="1.35"/>
<circle cx="137.23" cy="390.53" r="1.35"/>
<circle cx="137.23" cy="388.69" r="1.35"/>
<circle cx="137.23" cy="445.62" r="1.35"/>
<circle cx="137.23" cy="446.64" r="1.35"/>
<circle cx="142.88" cy="384.31" r="1.35"/>
<circle cx="142.88" cy="389.42" r="1.35"/>
<circle cx="142.88" cy="387.96" r="1.35"/>
<circle cx="142.88" cy="396.72" r="1.35"/>
<circle cx="142.88" cy="396.26" r="1.35"/>
<circle cx="142.88" cy="395.03" r="1.35"/>
<circle cx="142.88" cy="393.07" r="1.35"/>
<circle cx="142.88" cy="441.97" r="1.35"/>
<circle cx="142.88" cy="442.29" r="1.35"/>
<circle cx="142.88" cy="443.14" r="1.35"/>
<circle cx="142.88" cy="444.51" r="1.35"/>
<circle cx="142.88" cy="446.35" r="1.35"/>
<circle cx="142.88" cy="448.54" r="1.35"/>
<circle cx="142.88" cy="450.73" r="1.35"/>
<circle cx="142.88" cy="453.65" r="1.35"/>
<circle cx="148.43" cy="390.15" r="1.35"/>
<circle cx="148.43" cy="389.12" r="1.35"/>
<circle cx="148.43" cy="393.80" r="1.35"/>
<circle cx="148.43" cy="442.70" r="1.35"/>
<circle cx="148.43" cy="443.02" r="1.35"/>
<circle cx="148.43" cy="443.87" r="1.35"/>
<circle cx="148.43" cy="445.24" r="1.35"/>
<circle cx="148.43" cy="447.08" r="1.35"/>
<circle cx="148.43" cy="450.73" r="1.35"/>
<circle cx="154.12" cy="380.22" r="1.35"/>
<circle cx="154.12" cy="394.53" r="1.35"/>
<circle cx="154.12" cy="394.37" r="1.35"/>
<circle cx="154.12" cy="393.94" r="1.35"/>
<circle cx="154.12" cy="393.26" r="1.35"/>
<circle cx="154.12" cy="392.34" r="1.35"/>
<circle cx="154.12" cy="391.18" r="1.35"/>
<circle cx="154.12" cy="389.80" r="1.35"/>
<circle cx="154.12" cy="388.19" r="1.35"/>
<circle cx="154.12" cy="386.36" r="1.35"/>
<circle cx="154.12" cy="384.31" r="1.35"/>
<circle cx="154.12" cy="442.70" r="1.35"/>
<circle cx="154.12" cy="442.98" r="1.35"/>
<circle cx="154.12" cy="443.72" r="1.35"/>
<circle cx="154.12" cy="444.91" r="1.35"/>
<circle cx="154.12" cy="446.52" r="1.35"/>
<circle cx="154.12" cy="448.54" r="1.35"/>
<circle cx="154.12" cy="453.65" r="1.35"/>
<circle cx="159.82" cy="364.45" r="1.35"/>
<circle cx="159.82" cy="382.41" r="1.35"/>
<circle cx="159.82" cy="385.04" r="1.35"/>
<circle cx="159.82" cy="394.53" r="1.35"/>
<circle cx="159.82" cy="394.28" r="1.35"/>
<circle cx="159.82" cy="393.62" r="1.35"/>
<circle cx="159.82" cy="392.57" r="1.35"/>
<circle cx="159.82" cy="391.15" r="1.35"/>
<circle cx="159.82" cy="389.36" r="1.35"/>
<circle cx="159.82" cy="387.23" r="1.35"/>
<circle cx="159.82" cy="442.26" r="1.35"/>
<circle cx="159.82" cy="442.56" r="1.35"/>
<circle cx="159.82" cy="443.36" r="1.35"/>
<circle cx="159.82" cy="444.63" r="1.35"/>
<circle cx="159.82" cy="446.35" r="1.35"/>
<circle cx="159.82" cy="448.10" r="1.35"/>
<circle cx="165.36" cy="394.53" r="1.35"/>
<circle cx="165.36" cy="394.27" r="1.35"/>
<circle cx="165.36" cy="393.58" r="1.35"/>
<circle cx="165.36" cy="392.48" r="1.35"/>
<circle cx="165.36" cy="390.99" r="1.35"/>
<circle cx="165.36" cy="389.12" r="1.35"/>
<circle cx="165.36" cy="443.43" r="1.35"/>
<circle cx="165.36" cy="444.02" r="1.35"/>
<circle cx="165.36" cy="445.62" r="1.35"/>
<circle cx="165.36" cy="448.83" r="1.35"/>
<circle cx="171.06" cy="385.77" r="1.35"/>
<circle cx="171.06" cy="385.42" r="1.35"/>
<circle cx="171.06" cy="384.48" r="1.35"/>
<circle cx="171.06" cy="382.98" r="1.35"/>
<circle cx="171.06" cy="380.95" r="1.35"/>
<circle cx="171.06" cy="393.07" r="1.35"/>
<circle cx="171.06" cy="392.75" r="1.35"/>
<circle cx="171.06" cy="391.89" r="1.35"/>
<circle cx="171.06" cy="390.53" r="1.35"/>
<circle cx="171.06" cy="388.69" r="1.35"/>
<circle cx="171.06" cy="443.43" r="1.35"/>
<circle cx="171.06" cy="443.63" r="1.35"/>
<circle cx="171.06" cy="444.17" r="1.35"/>
<circle cx="171.06" cy="445.04" r="1.35"/>
<circle cx="171.06" cy="446.20" r="1.35"/>
<circle cx="171.06" cy="447.67" r="1.35"/>
<circle cx="171.06" cy="449.42" r="1.35"/>
<circle cx="171.06" cy="451.46" r="1.35"/>
<circle cx="171.06" cy="456.42" r="1.35"/>
<circle cx="176.75" cy="388.25" r="1.35"/>
<circle cx="176.75" cy="394.53" r="1.35"/>
<circle cx="176.75" cy="394.21" r="1.35"/>
<circle cx="176.75" cy="393.35" r="1.35"/>
<circle cx="176.75" cy="391.99" r="1.35"/>
<circle cx="176.75" cy="390.15" r="1.35"/>
<circle cx="176.75" cy="441.97" r="1.35"/>
<circle cx="176.75" cy="442.25" r="1.35"/>
<circle cx="176.75" cy="442.99" r="1.35"/>
<circle cx="176.75" cy="444.18" r="1.35"/>
<circle cx="176.75" cy="445.79" r="1.35"/>
<circle cx="176.75" cy="447.81" r="1.35"/>
<circle cx="176.75" cy="451.17" r="1.35"/>
<circle cx="182.30" cy="393.80" r="1.35"/>
<circle cx="182.30" cy="393.65" r="1.35"/>
<circle cx="182.30" cy="393.26" r="1.35"/>
<circle cx="182.30" cy="392.64" r="1.35"/>
<circle cx="182.30" cy="391.80" r="1.35"/>
<circle cx="182.30" cy="390.74" r="1.35"/>
<circle cx="182.30" cy="389.48" r="1.35"/>
<circle cx="182.30" cy="388.01" r="1.35"/>
<circle cx="182.30" cy="386.34" r="1.35"/>
<circle cx="182.30" cy="384.47" r="1.35"/>
<circle cx="182.30" cy="382.41" r="1.35"/>
<circle cx="182.30" cy="441.24" r="1.35"/>
<circle cx="182.30" cy="441.69" r="1.35"/>
<circle cx="182.30" cy="442.93" r="1.35"/>
<circle cx="182.30" cy="444.89" r="1.35"/>
<circle cx="182.30" cy="449.27" r="1.35"/>
<circle cx="182.30" cy="450.73" r="1.35"/>
<circle cx="182.30" cy="452.19" r="1.35"/>
<circle cx="187.99" cy="392.34" r="1.35"/>
<circle cx="187.99" cy="392.16" r="1.35"/>
<circle cx="187.99" cy="391.69" r="1.35"/>
<circle cx="187.99" cy="390.93" r="1.35"/>
<circle cx="187.99" cy="389.91" r="1.35"/>
<circle cx="187.99" cy="388.63" r="1.35"/>
<circle cx="187.99" cy="387.10" r="1.35"/>
<circle cx="187.99" cy="385.31" r="1.35"/>
<circle cx="187.99" cy="383.28" r="1.35"/>
<circle cx="187.99" cy="442.70" r="1.35"/>
<circle cx="187.99" cy="443.06" r="1.35"/>
<circle cx="187.99" cy="444.05" r="1.35"/>
<circle cx="187.99" cy="445.62" r="1.35"/>
<circle cx="187.99" cy="454.23" r="1.35"/>
<circle cx="193.54" cy="382.85" r="1.35"/>
<circle cx="193.54" cy="392.34" r="1.35"/>
<circle cx="193.54" cy="392.09" r="1.35"/>
<circle cx="193.54" cy="391.43" r="1.35"/>
<circle cx="193.54" cy="390.38" r="1.35"/>
<circle cx="193.54" cy="388.96" r="1.35"/>
<circle cx="193.54" cy="387.17" r="1.35"/>
<circle cx="193.54" cy="385.04" r="1.35"/>
<circle cx="193.54" cy="442.70" r="1.35"/>
<circle cx="193.54" cy="443.29" r="1.35"/>
<circle cx="193.54" cy="444.89" r="1.35"/>
<circle cx="199.23" cy="382.41" r="1.35"/>
<circle cx="199.23" cy="380.95" r="1.35"/>
<circle cx="199.23" cy="392.34" r="1.35"/>
<circle cx="199.23" cy="392.09" r="1.35"/>
<circle cx="199.23" cy="391.43" r="1.35"/>
<circle cx="199.23" cy="390.38" r="1.35"/>
<circle cx="199.23" cy="388.96" r="1.35"/>
<circle cx="199.23" cy="387.17" r="1.35"/>
<circle cx="199.23" cy="385.04" r="1.35"/>
<circle cx="199.23" cy="441.97" r="1.35"/>
<circle cx="199.23" cy="442.33" r="1.35"/>
<circle cx="199.23" cy="443.32" r="1.35"/>
<circle cx="199.23" cy="444.89" r="1.35"/>
<circle cx="199.23" cy="446.35" r="1.35"/>
<circle cx="199.23" cy="448.25" r="1.35"/>
<circle cx="204.93" cy="392.34" r="1.35"/>
<circle cx="204.93" cy="392.12" r="1.35"/>
<circle cx="204.93" cy="391.52" r="1.35"/>
<circle cx="204.93" cy="390.58" r="1.35"/>
<circle cx="204.93" cy="389.30" r="1.35"/>
<circle cx="204.93" cy="387.69" r="1.35"/>
<circle cx="204.93" cy="385.77" r="1.35"/>
<circle cx="204.93" cy="440.51" r="1.35"/>
<circle cx="204.93" cy="440.96" r="1.35"/>
<circle cx="204.93" cy="442.20" r="1.35"/>
<circle cx="204.93" cy="444.16" r="1.35"/>
<circle cx="204.93" cy="445.62" r="1.35"/>
<circle cx="204.93" cy="447.37" r="1.35"/>
<circle cx="210.47" cy="390.88" r="1.35"/>
<circle cx="210.47" cy="390.72" r="1.35"/>
<circle cx="210.47" cy="390.31" r="1.35"/>
<circle cx="210.47" cy="389.64" r="1.35"/>
<circle cx="210.47" cy="388.75" r="1.35"/>
<circle cx="210.47" cy="387.63" r="1.35"/>
<circle cx="210.47" cy="386.28" r="1.35"/>
<circle cx="210.47" cy="384.72" r="1.35"/>
<circle cx="210.47" cy="382.94" r="1.35"/>
<circle cx="210.47" cy="380.95" r="1.35"/>
<circle cx="210.47" cy="446.35" r="1.35"/>
<circle cx="216.17" cy="381.39" r="1.35"/>
<circle cx="216.17" cy="380.80" r="1.35"/>
<circle cx="216.17" cy="379.20" r="1.35"/>
<circle cx="216.17" cy="391.61" r="1.35"/>
<circle cx="216.17" cy="391.36" r="1.35"/>
<circle cx="216.17" cy="390.70" r="1.35"/>
<circle cx="216.17" cy="389.65" r="1.35"/>
<circle cx="216.17" cy="388.23" r="1.35"/>
<circle cx="216.17" cy="386.44" r="1.35"/>
<circle cx="216.17" cy="384.31" r="1.35"/>
<circle cx="216.17" cy="440.51" r="1.35"/>
<circle cx="216.17" cy="440.96" r="1.35"/>
<circle cx="216.17" cy="442.20" r="1.35"/>
<circle cx="216.17" cy="444.16" r="1.35"/>
<circle cx="216.17" cy="447.81" r="1.35"/>
<circle cx="221.86" cy="388.69" r="1.35"/>
<circle cx="221.86" cy="388.32" r="1.35"/>
<circle cx="221.86" cy="387.33" r="1.35"/>
<circle cx="221.86" cy="385.77" r="1.35"/>
<circle cx="221.86" cy="442.85" r="1.35"/>
<circle cx="227.41" cy="379.20" r="1.35"/>
<circle cx="227.41" cy="378.86" r="1.35"/>
<circle cx="227.41" cy="377.95" r="1.35"/>
<circle cx="227.41" cy="376.49" r="1.35"/>
<circle cx="227.41" cy="374.53" r="1.35"/>
<circle cx="227.41" cy="390.88" r="1.35"/>
<circle cx="227.41" cy="390.68" r="1.35"/>
<circle cx="227.41" cy="390.13" r="1.35"/>
<circle cx="227.41" cy="389.27" r="1.35"/>
<circle cx="227.41" cy="388.10" r="1.35"/>
<circle cx="227.41" cy="386.64" r="1.35"/>
<circle cx="227.41" cy="384.89" r="1.35"/>
<circle cx="227.41" cy="382.85" r="1.35"/>
<circle cx="227.41" cy="449.71" r="1.35"/>
<circle cx="233.10" cy="380.22" r="1.35"/>
<circle cx="233.10" cy="389.42" r="1.35"/>
<circle cx="233.10" cy="389.10" r="1.35"/>
<circle cx="233.10" cy="388.24" r="1.35"/>
<circle cx="233.10" cy="386.88" r="1.35"/>
<circle cx="233.10" cy="385.04" r="1.35"/>
<circle cx="233.10" cy="441.24" r="1.35"/>
<circle cx="233.10" cy="447.37" r="1.35"/>
<circle cx="238.76" cy="390.88" r="1.35"/>
<circle cx="238.76" cy="390.64" r="1.35"/>
<circle cx="238.76" cy="390.01" r="1.35"/>
<circle cx="238.76" cy="389.00" r="1.35"/>
<circle cx="238.76" cy="387.63" r="1.35"/>
<circle cx="238.76" cy="385.92" r="1.35"/>
<circle cx="238.76" cy="383.87" r="1.35"/>
<circle cx="238.76" cy="450.73" r="1.35"/>
<circle cx="244.31" cy="382.41" r="1.35"/>
<circle cx="244.31" cy="387.66" r="1.35"/>
<circle cx="244.31" cy="386.96" r="1.35"/>
<circle cx="244.31" cy="385.04" r="1.35"/>
<circle cx="244.31" cy="445.33" r="1.35"/>
<circle cx="250.00" cy="382.26" r="1.35"/>
<circle cx="250.00" cy="388.25" r="1.35"/>
<circle cx="250.00" cy="387.85" r="1.35"/>
<circle cx="250.00" cy="386.76" r="1.35"/>
<circle cx="250.00" cy="385.04" r="1.35"/>
<circle cx="250.00" cy="444.89" r="1.35"/>
<circle cx="255.69" cy="381.24" r="1.35"/>
<circle cx="255.69" cy="380.22" r="1.35"/>
<circle cx="255.69" cy="385.04" r="1.35"/>
<circle cx="255.69" cy="439.49" r="1.35"/>
<circle cx="255.69" cy="447.66" r="1.35"/>
<circle cx="261.24" cy="374.38" r="1.35"/>
<circle cx="261.24" cy="383.14" r="1.35"/>
<circle cx="272.48" cy="377.15" r="1.35"/>
<circle cx="283.87" cy="376.28" r="1.35"/>
<circle cx="289.42" cy="387.37" r="1.35"/>
<circle cx="289.42" cy="386.06" r="1.35"/>
<circle cx="289.42" cy="446.64" r="1.35"/>
<rect x="44.66" y="427.37" width="4.40" height="4.38" fill="#93c7e2" stroke="#303030" stroke-width="0.9"/>
<line x1="44.66" y1="429.56" x2="49.06" y2="429.56" stroke="#303030" stroke-width="1.5" />
<rect x="50.35" y="428.83" width="4.40" height="13.58" fill="#93c7e2" stroke="#303030" stroke-width="0.9"/>
<line x1="50.35" y1="435.40" x2="54.75" y2="435.40" stroke="#303030" stroke-width="1.5" />
<rect x="55.90" y="421.39" width="4.40" height="9.78" fill="#93c7e2" stroke="#303030" stroke-width="0.9"/>
<line x1="55.90" y1="428.83" x2="60.30" y2="428.83" stroke="#303030" stroke-width="1.5" />
<rect x="61.60" y="415.26" width="4.40" height="14.89" fill="#93c7e2" stroke="#303030" stroke-width="0.9"/>
<line x1="61.60" y1="419.20" x2="66.00" y2="419.20" stroke="#303030" stroke-width="1.5" />
<rect x="67.29" y="417.30" width="4.40" height="13.87" fill="#93c7e2" stroke="#303030" stroke-width="0.9"/>
<line x1="67.29" y1="425.91" x2="71.69" y2="425.91" stroke="#303030" stroke-width="1.5" />
<rect x="72.84" y="414.23" width="4.40" height="14.16" fill="#93c7e2" stroke="#303030" stroke-width="0.9"/>
<line x1="72.84" y1="420.80" x2="77.24" y2="420.80" stroke="#303030" stroke-width="1.5" />
<rect x="78.53" y="414.38" width="4.40" height="11.82" fill="#93c7e2" stroke="#303030" stroke-width="0.9"/>
<line x1="78.53" y1="420.07" x2="82.93" y2="420.07" stroke="#303030" stroke-width="1.5" />
<rect x="84.22" y="413.94" width="4.40" height="11.24" fill="#93c7e2" stroke="#303030" stroke-width="0.9"/>
<line x1="84.22" y1="420.07" x2="88.62" y2="420.07" stroke="#303030" stroke-width="1.5" />
<rect x="89.77" y="417.01" width="4.40" height="10.22" fill="#93c7e2" stroke="#303030" stroke-width="0.9"/>
<line x1="89.77" y1="421.53" x2="94.17" y2="421.53" stroke="#303030" stroke-width="1.5" />
<rect x="95.46" y="415.40" width="4.40" height="11.82" fill="#93c7e2" stroke="#303030" stroke-width="0.9"/>
<line x1="95.46" y1="421.24" x2="99.86" y2="421.24" stroke="#303030" stroke-width="1.5" />
<rect x="101.16" y="414.23" width="4.40" height="12.41" fill="#93c7e2" stroke="#303030" stroke-width="0.9"/>
<line x1="101.16" y1="420.95" x2="105.56" y2="420.95" stroke="#303030" stroke-width="1.5" />
<rect x="106.71" y="415.26" width="4.40" height="11.68" fill="#93c7e2" stroke="#303030" stroke-width="0.9"/>
<line x1="106.71" y1="421.24" x2="111.11" y2="421.24" stroke="#303030" stroke-width="1.5" />
<rect x="112.40" y="413.65" width="4.40" height="13.43" fill="#93c7e2" stroke="#303030" stroke-width="0.9"/>
<line x1="112.40" y1="420.36" x2="116.80" y2="420.36" stroke="#303030" stroke-width="1.5" />
<rect x="117.95" y="414.23" width="4.40" height="12.85" fill="#93c7e2" stroke="#303030" stroke-width="0.9"/>
<line x1="117.95" y1="420.66" x2="122.35" y2="420.66" stroke="#303030" stroke-width="1.5" />
<rect x="123.64" y="414.23" width="4.40" height="12.12" fill="#93c7e2" stroke="#303030" stroke-width="0.9"/>
<line x1="123.64" y1="420.51" x2="128.04" y2="420.51" stroke="#303030" stroke-width="1.5" />
<rect x="129.33" y="413.80" width="4.40" height="12.55" fill="#93c7e2" stroke="#303030" stroke-width="0.9"/>
<line x1="129.33" y1="420.36" x2="133.73" y2="420.36" stroke="#303030" stroke-width="1.5" />
<rect x="135.03" y="413.36" width="4.40" height="12.55" fill="#93c7e2" stroke="#303030" stroke-width="0.9"/>
<line x1="135.03" y1="419.49" x2="139.43" y2="419.49" stroke="#303030" stroke-width="1.5" />
<rect x="140.68" y="414.23" width="4.40" height="10.95" fill="#93c7e2" stroke="#303030" stroke-width="0.9"/>
<line x1="140.68" y1="419.49" x2="145.08" y2="419.49" stroke="#303030" stroke-width="1.5" />
<rect x="146.23" y="413.36" width="4.40" height="11.39" fill="#93c7e2" stroke="#303030" stroke-width="0.9"/>
<line x1="146.23" y1="418.91" x2="150.63" y2="418.91" stroke="#303030" stroke-width="1.5" />
<rect x="151.92" y="413.36" width="4.40" height="11.53" fill="#93c7e2" stroke="#303030" stroke-width="0.9"/>
<line x1="151.92" y1="418.76" x2="156.32" y2="418.76" stroke="#303030" stroke-width="1.5" />
<rect x="157.62" y="412.77" width="4.40" height="11.68" fill="#93c7e2" stroke="#303030" stroke-width="0.9"/>
<line x1="157.62" y1="418.32" x2="162.02" y2="418.32" stroke="#303030" stroke-width="1.5" />
<rect x="163.16" y="413.07" width="4.40" height="11.39" fill="#93c7e2" stroke="#303030" stroke-width="0.9"/>
<line x1="163.16" y1="418.61" x2="167.56" y2="418.61" stroke="#303030" stroke-width="1.5" />
<rect x="168.86" y="412.48" width="4.40" height="11.53" fill="#93c7e2" stroke="#303030" stroke-width="0.9"/>
<line x1="168.86" y1="418.18" x2="173.26" y2="418.18" stroke="#303030" stroke-width="1.5" />
<rect x="174.55" y="412.48" width="4.40" height="11.39" fill="#93c7e2" stroke="#303030" stroke-width="0.9"/>
<line x1="174.55" y1="417.88" x2="178.95" y2="417.88" stroke="#303030" stroke-width="1.5" />
<rect x="180.10" y="411.75" width="4.40" height="11.53" fill="#93c7e2" stroke="#303030" stroke-width="0.9"/>
<line x1="180.10" y1="417.59" x2="184.50" y2="417.59" stroke="#303030" stroke-width="1.5" />
<rect x="185.79" y="411.75" width="4.40" height="11.68" fill="#93c7e2" stroke="#303030" stroke-width="0.9"/>
<line x1="185.79" y1="417.45" x2="190.19" y2="417.45" stroke="#303030" stroke-width="1.5" />
<rect x="191.34" y="411.75" width="4.40" height="11.53" fill="#93c7e2" stroke="#303030" stroke-width="0.9"/>
<line x1="191.34" y1="417.30" x2="195.74" y2="417.30" stroke="#303030" stroke-width="1.5" />
<rect x="197.03" y="411.61" width="4.40" height="11.53" fill="#93c7e2" stroke="#303030" stroke-width="0.9"/>
<line x1="197.03" y1="417.15" x2="201.43" y2="417.15" stroke="#303030" stroke-width="1.5" />
<rect x="202.73" y="410.88" width="4.40" height="11.53" fill="#93c7e2" stroke="#303030" stroke-width="0.9"/>
<line x1="202.73" y1="416.72" x2="207.13" y2="416.72" stroke="#303030" stroke-width="1.5" />
<rect x="208.27" y="410.44" width="4.40" height="12.12" fill="#93c7e2" stroke="#303030" stroke-width="0.9"/>
<line x1="208.27" y1="416.42" x2="212.67" y2="416.42" stroke="#303030" stroke-width="1.5" />
<rect x="213.97" y="410.73" width="4.40" height="11.39" fill="#93c7e2" stroke="#303030" stroke-width="0.9"/>
<line x1="213.97" y1="416.28" x2="218.37" y2="416.28" stroke="#303030" stroke-width="1.5" />
<rect x="219.66" y="409.85" width="4.40" height="11.97" fill="#93c7e2" stroke="#303030" stroke-width="0.9"/>
<line x1="219.66" y1="415.69" x2="224.06" y2="415.69" stroke="#303030" stroke-width="1.5" />
<rect x="225.21" y="409.85" width="4.40" height="11.39" fill="#93c7e2" stroke="#303030" stroke-width="0.9"/>
<line x1="225.21" y1="415.40" x2="229.61" y2="415.40" stroke="#303030" stroke-width="1.5" />
<rect x="230.90" y="409.42" width="4.40" height="11.68" fill="#93c7e2" stroke="#303030" stroke-width="0.9"/>
<line x1="230.90" y1="414.96" x2="235.30" y2="414.96" stroke="#303030" stroke-width="1.5" />
<rect x="236.56" y="409.42" width="4.40" height="12.12" fill="#93c7e2" stroke="#303030" stroke-width="0.9"/>
<line x1="236.56" y1="415.40" x2="240.96" y2="415.40" stroke="#303030" stroke-width="1.5" />
<rect x="242.11" y="408.69" width="4.40" height="13.58" fill="#93c7e2" stroke="#303030" stroke-width="0.9"/>
<line x1="242.11" y1="415.26" x2="246.51" y2="415.26" stroke="#303030" stroke-width="1.5" />
<rect x="247.80" y="408.39" width="4.40" height="12.41" fill="#93c7e2" stroke="#303030" stroke-width="0.9"/>
<line x1="247.80" y1="413.94" x2="252.20" y2="413.94" stroke="#303030" stroke-width="1.5" />
<rect x="253.49" y="407.52" width="4.40" height="11.68" fill="#93c7e2" stroke="#303030" stroke-width="0.9"/>
<line x1="253.49" y1="413.50" x2="257.89" y2="413.50" stroke="#303030" stroke-width="1.5" />
<rect x="259.04" y="406.35" width="4.40" height="14.16" fill="#93c7e2" stroke="#303030" stroke-width="0.9"/>
<line x1="259.04" y1="414.23" x2="263.44" y2="414.23" stroke="#303030" stroke-width="1.5" />
<rect x="264.73" y="405.33" width="4.40" height="14.89" fill="#93c7e2" stroke="#303030" stroke-width="0.9"/>
<line x1="264.73" y1="413.07" x2="269.13" y2="413.07" stroke="#303030" stroke-width="1.5" />
<rect x="270.28" y="403.58" width="4.40" height="15.77" fill="#93c7e2" stroke="#303030" stroke-width="0.9"/>
<line x1="270.28" y1="412.34" x2="274.68" y2="412.34" stroke="#303030" stroke-width="1.5" />
<rect x="275.98" y="401.09" width="4.40" height="16.79" fill="#93c7e2" stroke="#303030" stroke-width="0.9"/>
<line x1="275.98" y1="408.69" x2="280.38" y2="408.69" stroke="#303030" stroke-width="1.5" />
<rect x="281.67" y="403.43" width="4.40" height="14.01" fill="#93c7e2" stroke="#303030" stroke-width="0.9"/>
<line x1="281.67" y1="409.85" x2="286.07" y2="409.85" stroke="#303030" stroke-width="1.5" />
<rect x="287.22" y="404.31" width="4.40" height="10.66" fill="#93c7e2" stroke="#303030" stroke-width="0.9"/>
<line x1="287.22" y1="411.61" x2="291.62" y2="411.61" stroke="#303030" stroke-width="1.5" />
<rect x="292.91" y="399.78" width="4.40" height="12.70" fill="#93c7e2" stroke="#303030" stroke-width="0.9"/>
<line x1="292.91" y1="404.01" x2="297.31" y2="404.01" stroke="#303030" stroke-width="1.5" />
<rect x="298.60" y="388.25" width="4.40" height="8.47" fill="#93c7e2" stroke="#303030" stroke-width="0.9"/>
<line x1="298.60" y1="391.31" x2="303.00" y2="391.31" stroke="#303030" stroke-width="1.5" />
<rect x="304.15" y="393.36" width="4.40" height="12.99" fill="#93c7e2" stroke="#303030" stroke-width="0.9"/>
<line x1="304.15" y1="402.12" x2="308.55" y2="402.12" stroke="#303030" stroke-width="1.5" />
<line x1="309.99" y1="428.10" x2="314.39" y2="428.10" stroke="#303030" stroke-width="1.5" />
</g>
<line x1="43.80" y1="309.40" x2="43.80" y2="493.05" stroke="#000" stroke-width="1.7" />
<line x1="42.95" y1="492.20" x2="315.20" y2="492.20" stroke="#000" stroke-width="1.7" />
<line x1="39.60" y1="309.40" x2="43.80" y2="309.40" stroke="#000" stroke-width="1.4" />
<text x="36.30" y="313.90" font-size="12.5" text-anchor="end" fill="#474747" font-family="Liberation Sans, Arial, sans-serif" >60</text>
<line x1="39.60" y1="370.40" x2="43.80" y2="370.40" stroke="#000" stroke-width="1.4" />
<text x="36.30" y="374.90" font-size="12.5" text-anchor="end" fill="#474747" font-family="Liberation Sans, Arial, sans-serif" >55</text>
<line x1="39.60" y1="431.40" x2="43.80" y2="431.40" stroke="#000" stroke-width="1.4" />
<text x="36.30" y="435.90" font-size="12.5" text-anchor="end" fill="#474747" font-family="Liberation Sans, Arial, sans-serif" >50</text>
<line x1="39.60" y1="492.20" x2="43.80" y2="492.20" stroke="#000" stroke-width="1.4" />
<text x="36.30" y="496.70" font-size="12.5" text-anchor="end" fill="#474747" font-family="Liberation Sans, Arial, sans-serif" >45</text>
<line x1="86.70" y1="492.20" x2="86.70" y2="496.40" stroke="#000" stroke-width="1.4" />
<text x="86.70" y="508.60" font-size="12.5" text-anchor="middle" fill="#474747" font-family="Liberation Sans, Arial, sans-serif" >35</text>
<line x1="114.90" y1="492.20" x2="114.90" y2="496.40" stroke="#000" stroke-width="1.4" />
<text x="114.90" y="508.60" font-size="12.5" text-anchor="middle" fill="#474747" font-family="Liberation Sans, Arial, sans-serif" >40</text>
<line x1="143.10" y1="492.20" x2="143.10" y2="496.40" stroke="#000" stroke-width="1.4" />
<text x="143.10" y="508.60" font-size="12.5" text-anchor="middle" fill="#474747" font-family="Liberation Sans, Arial, sans-serif" >45</text>
<line x1="171.30" y1="492.20" x2="171.30" y2="496.40" stroke="#000" stroke-width="1.4" />
<text x="171.30" y="508.60" font-size="12.5" text-anchor="middle" fill="#474747" font-family="Liberation Sans, Arial, sans-serif" >50</text>
<line x1="199.50" y1="492.20" x2="199.50" y2="496.40" stroke="#000" stroke-width="1.4" />
<text x="199.50" y="508.60" font-size="12.5" text-anchor="middle" fill="#474747" font-family="Liberation Sans, Arial, sans-serif" >55</text>
<line x1="227.70" y1="492.20" x2="227.70" y2="496.40" stroke="#000" stroke-width="1.4" />
<text x="227.70" y="508.60" font-size="12.5" text-anchor="middle" fill="#474747" font-family="Liberation Sans, Arial, sans-serif" >60</text>
<line x1="255.90" y1="492.20" x2="255.90" y2="496.40" stroke="#000" stroke-width="1.4" />
<text x="255.90" y="508.60" font-size="12.5" text-anchor="middle" fill="#474747" font-family="Liberation Sans, Arial, sans-serif" >65</text>
<line x1="284.10" y1="492.20" x2="284.10" y2="496.40" stroke="#000" stroke-width="1.4" />
<text x="284.10" y="508.60" font-size="12.5" text-anchor="middle" fill="#474747" font-family="Liberation Sans, Arial, sans-serif" >70</text>
<text transform="translate(17.00,401.50) rotate(-90)" font-size="12" text-anchor="middle" fill="#000" font-family="Liberation Sans, Arial, sans-serif">Metabolite signature score</text>
<text x="179.50" y="524.00" font-size="12" text-anchor="middle" fill="#000" font-family="Liberation Sans, Arial, sans-serif" >PDI</text>
<text x="52.50" y="325.30" font-size="13.35" text-anchor="start" fill="#000" font-family="Liberation Sans, Arial, sans-serif" >R = 0.17</text>
<text x="3.10" y="567.70" font-size="20.2" text-anchor="start" fill="#000" font-family="Liberation Serif, Times New Roman, serif" font-weight="bold" stroke="#000" stroke-width="0.5" stroke-linejoin="round" letter-spacing="0.3">(C)</text>
<g fill="none" stroke="#2b2b2b" stroke-width="0.55">
</g>
<g fill="none" stroke="#1c1c1c" stroke-width="0.8">
<line x1="63.07" y1="647.23" x2="63.07" y2="659.78" stroke="#6c6c6c" stroke-width="1.0" />
<line x1="63.07" y1="675.40" x2="63.07" y2="681.68" stroke="#6c6c6c" stroke-width="1.0" />
<line x1="68.47" y1="629.71" x2="68.47" y2="650.88" stroke="#6c6c6c" stroke-width="1.0" />
<line x1="68.47" y1="670.29" x2="68.47" y2="692.92" stroke="#6c6c6c" stroke-width="1.0" />
<line x1="73.87" y1="652.77" x2="73.87" y2="655.26" stroke="#6c6c6c" stroke-width="1.0" />
<line x1="73.87" y1="665.62" x2="73.87" y2="676.86" stroke="#6c6c6c" stroke-width="1.0" />
<line x1="79.27" y1="635.26" x2="79.27" y2="655.69" stroke="#6c6c6c" stroke-width="1.0" />
<line x1="79.27" y1="669.42" x2="79.27" y2="686.64" stroke="#6c6c6c" stroke-width="1.0" />
<line x1="84.67" y1="639.20" x2="84.67" y2="654.23" stroke="#6c6c6c" stroke-width="1.0" />
<line x1="84.67" y1="670.00" x2="84.67" y2="688.54" stroke="#6c6c6c" stroke-width="1.0" />
<line x1="90.07" y1="633.50" x2="90.07" y2="654.23" stroke="#6c6c6c" stroke-width="1.0" />
<line x1="90.07" y1="670.15" x2="90.07" y2="686.64" stroke="#6c6c6c" stroke-width="1.0" />
<line x1="95.47" y1="632.04" x2="95.47" y2="652.77" stroke="#6c6c6c" stroke-width="1.0" />
<line x1="95.47" y1="670.29" x2="95.47" y2="693.65" stroke="#6c6c6c" stroke-width="1.0" />
<line x1="101.02" y1="627.66" x2="101.02" y2="649.42" stroke="#6c6c6c" stroke-width="1.0" />
<line x1="101.02" y1="668.10" x2="101.02" y2="694.82" stroke="#6c6c6c" stroke-width="1.0" />
<line x1="106.42" y1="631.17" x2="106.42" y2="652.48" stroke="#6c6c6c" stroke-width="1.0" />
<line x1="106.42" y1="667.66" x2="106.42" y2="689.56" stroke="#6c6c6c" stroke-width="1.0" />
<line x1="111.82" y1="630.15" x2="111.82" y2="651.61" stroke="#6c6c6c" stroke-width="1.0" />
<line x1="111.82" y1="668.10" x2="111.82" y2="692.19" stroke="#6c6c6c" stroke-width="1.0" />
<line x1="117.23" y1="631.31" x2="117.23" y2="651.61" stroke="#6c6c6c" stroke-width="1.0" />
<line x1="117.23" y1="668.10" x2="117.23" y2="693.94" stroke="#6c6c6c" stroke-width="1.0" />
<line x1="122.63" y1="624.31" x2="122.63" y2="650.73" stroke="#6c6c6c" stroke-width="1.0" />
<line x1="122.63" y1="668.10" x2="122.63" y2="692.92" stroke="#6c6c6c" stroke-width="1.0" />
<line x1="128.18" y1="625.04" x2="128.18" y2="651.61" stroke="#6c6c6c" stroke-width="1.0" />
<line x1="128.18" y1="668.39" x2="128.18" y2="693.36" stroke="#6c6c6c" stroke-width="1.0" />
<line x1="133.58" y1="625.04" x2="133.58" y2="650.44" stroke="#6c6c6c" stroke-width="1.0" />
<line x1="133.58" y1="668.10" x2="133.58" y2="694.38" stroke="#6c6c6c" stroke-width="1.0" />
<line x1="139.09" y1="625.04" x2="139.09" y2="650.44" stroke="#6c6c6c" stroke-width="1.0" />
<line x1="139.09" y1="667.37" x2="139.09" y2="691.46" stroke="#6c6c6c" stroke-width="1.0" />
<line x1="144.49" y1="625.77" x2="144.49" y2="650.44" stroke="#6c6c6c" stroke-width="1.0" />
<line x1="144.49" y1="667.37" x2="144.49" y2="690.73" stroke="#6c6c6c" stroke-width="1.0" />
<line x1="149.89" y1="622.85" x2="149.89" y2="649.27" stroke="#6c6c6c" stroke-width="1.0" />
<line x1="149.89" y1="667.37" x2="149.89" y2="692.19" stroke="#6c6c6c" stroke-width="1.0" />
<line x1="155.29" y1="622.85" x2="155.29" y2="649.42" stroke="#6c6c6c" stroke-width="1.0" />
<line x1="155.29" y1="667.37" x2="155.29" y2="692.92" stroke="#6c6c6c" stroke-width="1.0" />
<line x1="160.84" y1="623.87" x2="160.84" y2="649.12" stroke="#6c6c6c" stroke-width="1.0" />
<line x1="160.84" y1="666.20" x2="160.84" y2="690.73" stroke="#6c6c6c" stroke-width="1.0" />
<line x1="166.24" y1="625.04" x2="166.24" y2="649.27" stroke="#6c6c6c" stroke-width="1.0" />
<line x1="166.24" y1="666.50" x2="166.24" y2="690.73" stroke="#6c6c6c" stroke-width="1.0" />
<line x1="171.64" y1="622.85" x2="171.64" y2="648.39" stroke="#6c6c6c" stroke-width="1.0" />
<line x1="171.64" y1="665.91" x2="171.64" y2="692.19" stroke="#6c6c6c" stroke-width="1.0" />
<line x1="177.04" y1="624.31" x2="177.04" y2="648.39" stroke="#6c6c6c" stroke-width="1.0" />
<line x1="177.04" y1="665.18" x2="177.04" y2="689.27" stroke="#6c6c6c" stroke-width="1.0" />
<line x1="182.45" y1="622.41" x2="182.45" y2="647.66" stroke="#6c6c6c" stroke-width="1.0" />
<line x1="182.45" y1="665.47" x2="182.45" y2="690.73" stroke="#6c6c6c" stroke-width="1.0" />
<line x1="187.85" y1="623.58" x2="187.85" y2="647.96" stroke="#6c6c6c" stroke-width="1.0" />
<line x1="187.85" y1="664.89" x2="187.85" y2="690.00" stroke="#6c6c6c" stroke-width="1.0" />
<line x1="193.39" y1="623.58" x2="193.39" y2="647.08" stroke="#6c6c6c" stroke-width="1.0" />
<line x1="193.39" y1="663.72" x2="193.39" y2="687.81" stroke="#6c6c6c" stroke-width="1.0" />
<line x1="198.80" y1="620.36" x2="198.80" y2="646.64" stroke="#6c6c6c" stroke-width="1.0" />
<line x1="198.80" y1="664.45" x2="198.80" y2="690.00" stroke="#6c6c6c" stroke-width="1.0" />
<line x1="204.20" y1="620.66" x2="204.20" y2="645.47" stroke="#6c6c6c" stroke-width="1.0" />
<line x1="204.20" y1="663.43" x2="204.20" y2="689.27" stroke="#6c6c6c" stroke-width="1.0" />
<line x1="209.60" y1="618.47" x2="209.60" y2="645.18" stroke="#6c6c6c" stroke-width="1.0" />
<line x1="209.60" y1="663.28" x2="209.60" y2="689.27" stroke="#6c6c6c" stroke-width="1.0" />
<line x1="215.00" y1="621.39" x2="215.00" y2="644.74" stroke="#6c6c6c" stroke-width="1.0" />
<line x1="215.00" y1="661.53" x2="215.00" y2="687.08" stroke="#6c6c6c" stroke-width="1.0" />
<line x1="220.55" y1="618.03" x2="220.55" y2="644.31" stroke="#6c6c6c" stroke-width="1.0" />
<line x1="220.55" y1="662.55" x2="220.55" y2="689.27" stroke="#6c6c6c" stroke-width="1.0" />
<line x1="225.95" y1="618.47" x2="225.95" y2="644.31" stroke="#6c6c6c" stroke-width="1.0" />
<line x1="225.95" y1="662.26" x2="225.95" y2="688.10" stroke="#6c6c6c" stroke-width="1.0" />
<line x1="231.35" y1="619.49" x2="231.35" y2="643.58" stroke="#6c6c6c" stroke-width="1.0" />
<line x1="231.35" y1="661.97" x2="231.35" y2="689.27" stroke="#6c6c6c" stroke-width="1.0" />
<line x1="236.42" y1="620.95" x2="236.42" y2="644.31" stroke="#6c6c6c" stroke-width="1.0" />
<line x1="236.42" y1="660.80" x2="236.42" y2="684.16" stroke="#6c6c6c" stroke-width="1.0" />
<line x1="241.82" y1="620.66" x2="241.82" y2="643.28" stroke="#6c6c6c" stroke-width="1.0" />
<line x1="241.82" y1="660.36" x2="241.82" y2="683.43" stroke="#6c6c6c" stroke-width="1.0" />
<line x1="247.23" y1="622.85" x2="247.23" y2="643.28" stroke="#6c6c6c" stroke-width="1.0" />
<line x1="247.23" y1="659.34" x2="247.23" y2="681.24" stroke="#6c6c6c" stroke-width="1.0" />
<line x1="252.63" y1="617.74" x2="252.63" y2="642.26" stroke="#6c6c6c" stroke-width="1.0" />
<line x1="252.63" y1="659.64" x2="252.63" y2="684.89" stroke="#6c6c6c" stroke-width="1.0" />
<line x1="258.03" y1="613.07" x2="258.03" y2="638.18" stroke="#6c6c6c" stroke-width="1.0" />
<line x1="258.03" y1="657.59" x2="258.03" y2="684.89" stroke="#6c6c6c" stroke-width="1.0" />
<line x1="263.43" y1="620.95" x2="263.43" y2="639.64" stroke="#6c6c6c" stroke-width="1.0" />
<line x1="263.43" y1="660.07" x2="263.43" y2="685.62" stroke="#6c6c6c" stroke-width="1.0" />
<line x1="268.83" y1="617.74" x2="268.83" y2="640.80" stroke="#6c6c6c" stroke-width="1.0" />
<line x1="268.83" y1="657.45" x2="268.83" y2="681.24" stroke="#6c6c6c" stroke-width="1.0" />
<line x1="274.38" y1="620.95" x2="274.38" y2="640.07" stroke="#6c6c6c" stroke-width="1.0" />
<line x1="274.38" y1="656.13" x2="274.38" y2="673.21" stroke="#6c6c6c" stroke-width="1.0" />
<line x1="279.64" y1="630.88" x2="279.64" y2="639.20" stroke="#6c6c6c" stroke-width="1.0" />
<line x1="279.64" y1="653.21" x2="279.64" y2="672.48" stroke="#6c6c6c" stroke-width="1.0" />
<line x1="285.04" y1="618.03" x2="285.04" y2="634.96" stroke="#6c6c6c" stroke-width="1.0" />
<line x1="285.04" y1="648.69" x2="285.04" y2="666.64" stroke="#6c6c6c" stroke-width="1.0" />
<line x1="290.44" y1="622.12" x2="290.44" y2="628.83" stroke="#6c6c6c" stroke-width="1.0" />
<line x1="290.44" y1="656.42" x2="290.44" y2="671.75" stroke="#6c6c6c" stroke-width="1.0" />
<line x1="295.99" y1="624.31" x2="295.99" y2="640.36" stroke="#6c6c6c" stroke-width="1.0" />
<line x1="295.99" y1="655.26" x2="295.99" y2="665.18" stroke="#6c6c6c" stroke-width="1.0" />
<line x1="301.39" y1="618.91" x2="301.39" y2="627.37" stroke="#6c6c6c" stroke-width="1.0" />
<line x1="301.39" y1="650.15" x2="301.39" y2="657.59" stroke="#6c6c6c" stroke-width="1.0" />
<line x1="306.79" y1="633.80" x2="306.79" y2="637.15" stroke="#6c6c6c" stroke-width="1.0" />
<line x1="306.79" y1="646.64" x2="306.79" y2="660.07" stroke="#6c6c6c" stroke-width="1.0" />
<line x1="312.34" y1="638.18" x2="312.34" y2="638.47" stroke="#6c6c6c" stroke-width="1.0" />
<line x1="312.34" y1="649.56" x2="312.34" y2="659.78" stroke="#6c6c6c" stroke-width="1.0" />
<circle cx="73.87" cy="633.36" r="1.35"/>
<circle cx="73.87" cy="635.55" r="1.35"/>
<circle cx="73.87" cy="637.88" r="1.35"/>
<circle cx="95.47" cy="697.01" r="1.35"/>
<circle cx="95.47" cy="697.74" r="1.35"/>
<circle cx="106.42" cy="620.07" r="1.35"/>
<circle cx="106.42" cy="698.03" r="1.35"/>
<circle cx="111.82" cy="621.09" r="1.35"/>
<circle cx="111.82" cy="694.38" r="1.35"/>
<circle cx="111.82" cy="702.99" r="1.35"/>
<circle cx="117.23" cy="626.50" r="1.35"/>
<circle cx="117.23" cy="697.01" r="1.35"/>
<circle cx="117.23" cy="697.74" r="1.35"/>
<circle cx="122.63" cy="623.87" r="1.35"/>
<circle cx="122.63" cy="623.20" r="1.35"/>
<circle cx="122.63" cy="621.39" r="1.35"/>
<circle cx="128.18" cy="623.28" r="1.35"/>
<circle cx="128.18" cy="622.87" r="1.35"/>
<circle cx="128.18" cy="621.73" r="1.35"/>
<circle cx="128.18" cy="619.93" r="1.35"/>
<circle cx="133.58" cy="621.39" r="1.35"/>
<circle cx="133.58" cy="620.80" r="1.35"/>
<circle cx="133.58" cy="619.20" r="1.35"/>
<circle cx="133.58" cy="696.57" r="1.35"/>
<circle cx="133.58" cy="697.04" r="1.35"/>
<circle cx="133.58" cy="698.32" r="1.35"/>
<circle cx="133.58" cy="703.14" r="1.35"/>
<circle cx="139.09" cy="623.58" r="1.35"/>
<circle cx="139.09" cy="692.19" r="1.35"/>
<circle cx="139.09" cy="692.56" r="1.35"/>
<circle cx="139.09" cy="693.56" r="1.35"/>
<circle cx="139.09" cy="695.15" r="1.35"/>
<circle cx="139.09" cy="697.30" r="1.35"/>
<circle cx="144.49" cy="608.25" r="1.35"/>
<circle cx="144.49" cy="612.19" r="1.35"/>
<circle cx="144.49" cy="691.46" r="1.35"/>
<circle cx="144.49" cy="691.82" r="1.35"/>
<circle cx="144.49" cy="692.81" r="1.35"/>
<circle cx="144.49" cy="694.38" r="1.35"/>
<circle cx="144.49" cy="698.03" r="1.35"/>
<circle cx="144.49" cy="698.62" r="1.35"/>
<circle cx="144.49" cy="700.22" r="1.35"/>
<circle cx="144.49" cy="707.52" r="1.35"/>
<circle cx="149.89" cy="614.53" r="1.35"/>
<circle cx="149.89" cy="622.12" r="1.35"/>
<circle cx="149.89" cy="621.61" r="1.35"/>
<circle cx="149.89" cy="620.22" r="1.35"/>
<circle cx="149.89" cy="694.38" r="1.35"/>
<circle cx="149.89" cy="698.76" r="1.35"/>
<circle cx="149.89" cy="699.78" r="1.35"/>
<circle cx="155.29" cy="622.12" r="1.35"/>
<circle cx="155.29" cy="620.66" r="1.35"/>
<circle cx="155.29" cy="693.65" r="1.35"/>
<circle cx="155.29" cy="694.01" r="1.35"/>
<circle cx="155.29" cy="695.00" r="1.35"/>
<circle cx="155.29" cy="696.57" r="1.35"/>
<circle cx="155.29" cy="698.76" r="1.35"/>
<circle cx="155.29" cy="699.21" r="1.35"/>
<circle cx="155.29" cy="700.45" r="1.35"/>
<circle cx="155.29" cy="702.41" r="1.35"/>
<circle cx="160.84" cy="599.20" r="1.35"/>
<circle cx="160.84" cy="621.39" r="1.35"/>
<circle cx="160.84" cy="620.36" r="1.35"/>
<circle cx="160.84" cy="692.19" r="1.35"/>
<circle cx="160.84" cy="693.65" r="1.35"/>
<circle cx="160.84" cy="698.32" r="1.35"/>
<circle cx="160.84" cy="699.49" r="1.35"/>
<circle cx="160.84" cy="705.33" r="1.35"/>
<circle cx="166.24" cy="614.82" r="1.35"/>
<circle cx="166.24" cy="623.58" r="1.35"/>
<circle cx="166.24" cy="623.24" r="1.35"/>
<circle cx="166.24" cy="622.32" r="1.35"/>
<circle cx="166.24" cy="620.87" r="1.35"/>
<circle cx="166.24" cy="618.91" r="1.35"/>
<circle cx="166.24" cy="691.46" r="1.35"/>
<circle cx="166.24" cy="691.64" r="1.35"/>
<circle cx="166.24" cy="692.14" r="1.35"/>
<circle cx="166.24" cy="692.93" r="1.35"/>
<circle cx="166.24" cy="694.00" r="1.35"/>
<circle cx="166.24" cy="695.34" r="1.35"/>
<circle cx="166.24" cy="696.95" r="1.35"/>
<circle cx="166.24" cy="698.82" r="1.35"/>
<circle cx="166.24" cy="700.95" r="1.35"/>
<circle cx="171.64" cy="613.36" r="1.35"/>
<circle cx="171.64" cy="621.39" r="1.35"/>
<circle cx="171.64" cy="620.84" r="1.35"/>
<circle cx="171.64" cy="619.36" r="1.35"/>
<circle cx="171.64" cy="617.01" r="1.35"/>
<circle cx="171.64" cy="693.65" r="1.35"/>
<circle cx="171.64" cy="695.11" r="1.35"/>
<circle cx="171.64" cy="698.03" r="1.35"/>
<circle cx="171.64" cy="700.66" r="1.35"/>
<circle cx="171.64" cy="703.87" r="1.35"/>
<circle cx="177.04" cy="615.11" r="1.35"/>
<circle cx="177.04" cy="623.28" r="1.35"/>
<circle cx="177.04" cy="622.87" r="1.35"/>
<circle cx="177.04" cy="621.73" r="1.35"/>
<circle cx="177.04" cy="619.93" r="1.35"/>
<circle cx="177.04" cy="690.00" r="1.35"/>
<circle cx="177.04" cy="690.27" r="1.35"/>
<circle cx="177.04" cy="691.02" r="1.35"/>
<circle cx="177.04" cy="692.21" r="1.35"/>
<circle cx="177.04" cy="693.82" r="1.35"/>
<circle cx="177.04" cy="695.84" r="1.35"/>
<circle cx="177.04" cy="701.24" r="1.35"/>
<circle cx="182.45" cy="620.95" r="1.35"/>
<circle cx="182.45" cy="620.51" r="1.35"/>
<circle cx="182.45" cy="619.33" r="1.35"/>
<circle cx="182.45" cy="617.45" r="1.35"/>
<circle cx="182.45" cy="692.19" r="1.35"/>
<circle cx="182.45" cy="692.41" r="1.35"/>
<circle cx="182.45" cy="693.00" r="1.35"/>
<circle cx="182.45" cy="693.95" r="1.35"/>
<circle cx="182.45" cy="695.23" r="1.35"/>
<circle cx="182.45" cy="696.84" r="1.35"/>
<circle cx="182.45" cy="698.76" r="1.35"/>
<circle cx="182.45" cy="702.70" r="1.35"/>
<circle cx="187.85" cy="611.46" r="1.35"/>
<circle cx="187.85" cy="621.39" r="1.35"/>
<circle cx="187.85" cy="690.73" r="1.35"/>
<circle cx="187.85" cy="692.19" r="1.35"/>
<circle cx="187.85" cy="696.57" r="1.35"/>
<circle cx="187.85" cy="699.20" r="1.35"/>
<circle cx="187.85" cy="701.68" r="1.35"/>
<circle cx="193.39" cy="613.36" r="1.35"/>
<circle cx="193.39" cy="612.96" r="1.35"/>
<circle cx="193.39" cy="611.87" r="1.35"/>
<circle cx="193.39" cy="610.15" r="1.35"/>
<circle cx="193.39" cy="622.41" r="1.35"/>
<circle cx="193.39" cy="622.07" r="1.35"/>
<circle cx="193.39" cy="621.16" r="1.35"/>
<circle cx="193.39" cy="619.70" r="1.35"/>
<circle cx="193.39" cy="617.74" r="1.35"/>
<circle cx="193.39" cy="687.81" r="1.35"/>
<circle cx="193.39" cy="688.01" r="1.35"/>
<circle cx="193.39" cy="688.55" r="1.35"/>
<circle cx="193.39" cy="689.42" r="1.35"/>
<circle cx="193.39" cy="690.58" r="1.35"/>
<circle cx="193.39" cy="692.05" r="1.35"/>
<circle cx="193.39" cy="693.80" r="1.35"/>
<circle cx="193.39" cy="695.84" r="1.35"/>
<circle cx="193.39" cy="698.32" r="1.35"/>
<circle cx="193.39" cy="702.12" r="1.35"/>
<circle cx="193.39" cy="708.25" r="1.35"/>
<circle cx="198.80" cy="618.47" r="1.35"/>
<circle cx="198.80" cy="617.92" r="1.35"/>
<circle cx="198.80" cy="616.44" r="1.35"/>
<circle cx="198.80" cy="614.09" r="1.35"/>
<circle cx="198.80" cy="690.73" r="1.35"/>
<circle cx="198.80" cy="690.95" r="1.35"/>
<circle cx="198.80" cy="691.54" r="1.35"/>
<circle cx="198.80" cy="692.49" r="1.35"/>
<circle cx="198.80" cy="693.77" r="1.35"/>
<circle cx="198.80" cy="695.38" r="1.35"/>
<circle cx="198.80" cy="697.30" r="1.35"/>
<circle cx="198.80" cy="707.52" r="1.35"/>
<circle cx="204.20" cy="609.71" r="1.35"/>
<circle cx="204.20" cy="617.30" r="1.35"/>
<circle cx="204.20" cy="690.00" r="1.35"/>
<circle cx="204.20" cy="690.59" r="1.35"/>
<circle cx="204.20" cy="692.19" r="1.35"/>
<circle cx="204.20" cy="697.30" r="1.35"/>
<circle cx="204.20" cy="697.75" r="1.35"/>
<circle cx="204.20" cy="698.99" r="1.35"/>
<circle cx="204.20" cy="700.95" r="1.35"/>
<circle cx="209.60" cy="690.00" r="1.35"/>
<circle cx="209.60" cy="690.59" r="1.35"/>
<circle cx="209.60" cy="692.19" r="1.35"/>
<circle cx="209.60" cy="697.30" r="1.35"/>
<circle cx="215.00" cy="614.82" r="1.35"/>
<circle cx="215.00" cy="618.76" r="1.35"/>
<circle cx="215.00" cy="688.54" r="1.35"/>
<circle cx="215.00" cy="688.99" r="1.35"/>
<circle cx="215.00" cy="690.23" r="1.35"/>
<circle cx="215.00" cy="692.19" r="1.35"/>
<circle cx="215.00" cy="696.57" r="1.35"/>
<circle cx="215.00" cy="696.93" r="1.35"/>
<circle cx="215.00" cy="697.92" r="1.35"/>
<circle cx="215.00" cy="699.49" r="1.35"/>
<circle cx="220.55" cy="613.07" r="1.35"/>
<circle cx="220.55" cy="690.00" r="1.35"/>
<circle cx="220.55" cy="690.45" r="1.35"/>
<circle cx="220.55" cy="691.69" r="1.35"/>
<circle cx="220.55" cy="693.65" r="1.35"/>
<circle cx="220.55" cy="698.32" r="1.35"/>
<circle cx="225.95" cy="616.28" r="1.35"/>
<circle cx="225.95" cy="615.88" r="1.35"/>
<circle cx="225.95" cy="614.79" r="1.35"/>
<circle cx="225.95" cy="613.07" r="1.35"/>
<circle cx="225.95" cy="692.63" r="1.35"/>
<circle cx="231.35" cy="614.53" r="1.35"/>
<circle cx="231.35" cy="690.29" r="1.35"/>
<circle cx="231.35" cy="697.30" r="1.35"/>
<circle cx="231.35" cy="698.32" r="1.35"/>
<circle cx="236.42" cy="616.28" r="1.35"/>
<circle cx="236.42" cy="685.62" r="1.35"/>
<circle cx="236.42" cy="685.79" r="1.35"/>
<circle cx="236.42" cy="686.25" r="1.35"/>
<circle cx="236.42" cy="686.98" r="1.35"/>
<circle cx="236.42" cy="687.97" r="1.35"/>
<circle cx="236.42" cy="689.21" r="1.35"/>
<circle cx="236.42" cy="690.69" r="1.35"/>
<circle cx="236.42" cy="692.42" r="1.35"/>
<circle cx="236.42" cy="694.38" r="1.35"/>
<circle cx="241.82" cy="617.45" r="1.35"/>
<circle cx="241.82" cy="617.03" r="1.35"/>
<circle cx="241.82" cy="615.89" r="1.35"/>
<circle cx="241.82" cy="614.09" r="1.35"/>
<circle cx="241.82" cy="685.91" r="1.35"/>
<circle cx="241.82" cy="689.27" r="1.35"/>
<circle cx="241.82" cy="689.86" r="1.35"/>
<circle cx="241.82" cy="691.46" r="1.35"/>
<circle cx="247.23" cy="611.90" r="1.35"/>
<circle cx="247.23" cy="618.18" r="1.35"/>
<circle cx="247.23" cy="683.43" r="1.35"/>
<circle cx="247.23" cy="684.89" r="1.35"/>
<circle cx="247.23" cy="687.52" r="1.35"/>
<circle cx="247.23" cy="690.44" r="1.35"/>
<circle cx="247.23" cy="694.38" r="1.35"/>
<circle cx="252.63" cy="615.84" r="1.35"/>
<circle cx="252.63" cy="690.15" r="1.35"/>
<circle cx="258.03" cy="705.62" r="1.35"/>
<circle cx="263.43" cy="694.09" r="1.35"/>
<circle cx="268.83" cy="684.45" r="1.35"/>
<circle cx="274.38" cy="683.87" r="1.35"/>
<circle cx="274.38" cy="687.96" r="1.35"/>
<circle cx="279.64" cy="602.12" r="1.35"/>
<circle cx="285.04" cy="687.66" r="1.35"/>
<circle cx="295.99" cy="608.25" r="1.35"/>
<circle cx="306.79" cy="621.53" r="1.35"/>
<circle cx="306.79" cy="664.31" r="1.35"/>
<rect x="61.02" y="659.78" width="4.10" height="15.62" fill="#92cc83" stroke="#303030" stroke-width="0.9"/>
<line x1="61.02" y1="664.45" x2="65.12" y2="664.45" stroke="#303030" stroke-width="1.5" />
<rect x="66.42" y="650.88" width="4.10" height="19.42" fill="#92cc83" stroke="#303030" stroke-width="0.9"/>
<line x1="66.42" y1="665.91" x2="70.52" y2="665.91" stroke="#303030" stroke-width="1.5" />
<rect x="71.82" y="655.26" width="4.10" height="10.36" fill="#92cc83" stroke="#303030" stroke-width="0.9"/>
<line x1="71.82" y1="658.61" x2="75.92" y2="658.61" stroke="#303030" stroke-width="1.5" />
<rect x="77.22" y="655.69" width="4.10" height="13.72" fill="#92cc83" stroke="#303030" stroke-width="0.9"/>
<line x1="77.22" y1="664.45" x2="81.32" y2="664.45" stroke="#303030" stroke-width="1.5" />
<rect x="82.62" y="654.23" width="4.10" height="15.77" fill="#92cc83" stroke="#303030" stroke-width="0.9"/>
<line x1="82.62" y1="661.97" x2="86.72" y2="661.97" stroke="#303030" stroke-width="1.5" />
<rect x="88.02" y="654.23" width="4.10" height="15.91" fill="#92cc83" stroke="#303030" stroke-width="0.9"/>
<line x1="88.02" y1="662.55" x2="92.12" y2="662.55" stroke="#303030" stroke-width="1.5" />
<rect x="93.42" y="652.77" width="4.10" height="17.52" fill="#92cc83" stroke="#303030" stroke-width="0.9"/>
<line x1="93.42" y1="661.24" x2="97.52" y2="661.24" stroke="#303030" stroke-width="1.5" />
<rect x="98.97" y="649.42" width="4.10" height="18.69" fill="#92cc83" stroke="#303030" stroke-width="0.9"/>
<line x1="98.97" y1="658.03" x2="103.07" y2="658.03" stroke="#303030" stroke-width="1.5" />
<rect x="104.37" y="652.48" width="4.10" height="15.18" fill="#92cc83" stroke="#303030" stroke-width="0.9"/>
<line x1="104.37" y1="659.34" x2="108.47" y2="659.34" stroke="#303030" stroke-width="1.5" />
<rect x="109.77" y="651.61" width="4.10" height="16.50" fill="#92cc83" stroke="#303030" stroke-width="0.9"/>
<line x1="109.77" y1="659.49" x2="113.87" y2="659.49" stroke="#303030" stroke-width="1.5" />
<rect x="115.18" y="651.61" width="4.10" height="16.50" fill="#92cc83" stroke="#303030" stroke-width="0.9"/>
<line x1="115.18" y1="659.93" x2="119.28" y2="659.93" stroke="#303030" stroke-width="1.5" />
<rect x="120.58" y="650.73" width="4.10" height="17.37" fill="#92cc83" stroke="#303030" stroke-width="0.9"/>
<line x1="120.58" y1="659.05" x2="124.68" y2="659.05" stroke="#303030" stroke-width="1.5" />
<rect x="126.13" y="651.61" width="4.10" height="16.79" fill="#92cc83" stroke="#303030" stroke-width="0.9"/>
<line x1="126.13" y1="659.78" x2="130.23" y2="659.78" stroke="#303030" stroke-width="1.5" />
<rect x="131.53" y="650.44" width="4.10" height="17.66" fill="#92cc83" stroke="#303030" stroke-width="0.9"/>
<line x1="131.53" y1="659.20" x2="135.63" y2="659.20" stroke="#303030" stroke-width="1.5" />
<rect x="137.04" y="650.44" width="4.10" height="16.93" fill="#92cc83" stroke="#303030" stroke-width="0.9"/>
<line x1="137.04" y1="658.61" x2="141.14" y2="658.61" stroke="#303030" stroke-width="1.5" />
<rect x="142.44" y="650.44" width="4.10" height="16.93" fill="#92cc83" stroke="#303030" stroke-width="0.9"/>
<line x1="142.44" y1="658.18" x2="146.54" y2="658.18" stroke="#303030" stroke-width="1.5" />
<rect x="147.84" y="649.27" width="4.10" height="18.10" fill="#92cc83" stroke="#303030" stroke-width="0.9"/>
<line x1="147.84" y1="657.45" x2="151.94" y2="657.45" stroke="#303030" stroke-width="1.5" />
<rect x="153.24" y="649.42" width="4.10" height="17.96" fill="#92cc83" stroke="#303030" stroke-width="0.9"/>
<line x1="153.24" y1="658.18" x2="157.34" y2="658.18" stroke="#303030" stroke-width="1.5" />
<rect x="158.79" y="649.12" width="4.10" height="17.08" fill="#92cc83" stroke="#303030" stroke-width="0.9"/>
<line x1="158.79" y1="656.86" x2="162.89" y2="656.86" stroke="#303030" stroke-width="1.5" />
<rect x="164.19" y="649.27" width="4.10" height="17.23" fill="#92cc83" stroke="#303030" stroke-width="0.9"/>
<line x1="164.19" y1="657.15" x2="168.29" y2="657.15" stroke="#303030" stroke-width="1.5" />
<rect x="169.59" y="648.39" width="4.10" height="17.52" fill="#92cc83" stroke="#303030" stroke-width="0.9"/>
<line x1="169.59" y1="657.01" x2="173.69" y2="657.01" stroke="#303030" stroke-width="1.5" />
<rect x="174.99" y="648.39" width="4.10" height="16.79" fill="#92cc83" stroke="#303030" stroke-width="0.9"/>
<line x1="174.99" y1="656.42" x2="179.09" y2="656.42" stroke="#303030" stroke-width="1.5" />
<rect x="180.40" y="647.66" width="4.10" height="17.81" fill="#92cc83" stroke="#303030" stroke-width="0.9"/>
<line x1="180.40" y1="656.42" x2="184.50" y2="656.42" stroke="#303030" stroke-width="1.5" />
<rect x="185.80" y="647.96" width="4.10" height="16.93" fill="#92cc83" stroke="#303030" stroke-width="0.9"/>
<line x1="185.80" y1="655.99" x2="189.90" y2="655.99" stroke="#303030" stroke-width="1.5" />
<rect x="191.34" y="647.08" width="4.10" height="16.64" fill="#92cc83" stroke="#303030" stroke-width="0.9"/>
<line x1="191.34" y1="655.26" x2="195.44" y2="655.26" stroke="#303030" stroke-width="1.5" />
<rect x="196.75" y="646.64" width="4.10" height="17.81" fill="#92cc83" stroke="#303030" stroke-width="0.9"/>
<line x1="196.75" y1="655.26" x2="200.85" y2="655.26" stroke="#303030" stroke-width="1.5" />
<rect x="202.15" y="645.47" width="4.10" height="17.96" fill="#92cc83" stroke="#303030" stroke-width="0.9"/>
<line x1="202.15" y1="654.23" x2="206.25" y2="654.23" stroke="#303030" stroke-width="1.5" />
<rect x="207.55" y="645.18" width="4.10" height="18.10" fill="#92cc83" stroke="#303030" stroke-width="0.9"/>
<line x1="207.55" y1="653.94" x2="211.65" y2="653.94" stroke="#303030" stroke-width="1.5" />
<rect x="212.95" y="644.74" width="4.10" height="16.79" fill="#92cc83" stroke="#303030" stroke-width="0.9"/>
<line x1="212.95" y1="653.21" x2="217.05" y2="653.21" stroke="#303030" stroke-width="1.5" />
<rect x="218.50" y="644.31" width="4.10" height="18.25" fill="#92cc83" stroke="#303030" stroke-width="0.9"/>
<line x1="218.50" y1="653.80" x2="222.60" y2="653.80" stroke="#303030" stroke-width="1.5" />
<rect x="223.90" y="644.31" width="4.10" height="17.96" fill="#92cc83" stroke="#303030" stroke-width="0.9"/>
<line x1="223.90" y1="652.77" x2="228.00" y2="652.77" stroke="#303030" stroke-width="1.5" />
<rect x="229.30" y="643.58" width="4.10" height="18.39" fill="#92cc83" stroke="#303030" stroke-width="0.9"/>
<line x1="229.30" y1="652.34" x2="233.40" y2="652.34" stroke="#303030" stroke-width="1.5" />
<rect x="234.37" y="644.31" width="4.10" height="16.50" fill="#92cc83" stroke="#303030" stroke-width="0.9"/>
<line x1="234.37" y1="652.34" x2="238.47" y2="652.34" stroke="#303030" stroke-width="1.5" />
<rect x="239.77" y="643.28" width="4.10" height="17.08" fill="#92cc83" stroke="#303030" stroke-width="0.9"/>
<line x1="239.77" y1="651.31" x2="243.87" y2="651.31" stroke="#303030" stroke-width="1.5" />
<rect x="245.18" y="643.28" width="4.10" height="16.06" fill="#92cc83" stroke="#303030" stroke-width="0.9"/>
<line x1="245.18" y1="651.61" x2="249.28" y2="651.61" stroke="#303030" stroke-width="1.5" />
<rect x="250.58" y="642.26" width="4.10" height="17.37" fill="#92cc83" stroke="#303030" stroke-width="0.9"/>
<line x1="250.58" y1="651.02" x2="254.68" y2="651.02" stroke="#303030" stroke-width="1.5" />
<rect x="255.98" y="638.18" width="4.10" height="19.42" fill="#92cc83" stroke="#303030" stroke-width="0.9"/>
<line x1="255.98" y1="647.23" x2="260.08" y2="647.23" stroke="#303030" stroke-width="1.5" />
<rect x="261.38" y="639.64" width="4.10" height="20.44" fill="#92cc83" stroke="#303030" stroke-width="0.9"/>
<line x1="261.38" y1="650.15" x2="265.48" y2="650.15" stroke="#303030" stroke-width="1.5" />
<rect x="266.78" y="640.80" width="4.10" height="16.64" fill="#92cc83" stroke="#303030" stroke-width="0.9"/>
<line x1="266.78" y1="649.12" x2="270.88" y2="649.12" stroke="#303030" stroke-width="1.5" />
<rect x="272.33" y="640.07" width="4.10" height="16.06" fill="#92cc83" stroke="#303030" stroke-width="0.9"/>
<line x1="272.33" y1="646.35" x2="276.43" y2="646.35" stroke="#303030" stroke-width="1.5" />
<rect x="277.59" y="639.20" width="4.10" height="14.01" fill="#92cc83" stroke="#303030" stroke-width="0.9"/>
<line x1="277.59" y1="645.47" x2="281.69" y2="645.47" stroke="#303030" stroke-width="1.5" />
<rect x="282.99" y="634.96" width="4.10" height="13.72" fill="#92cc83" stroke="#303030" stroke-width="0.9"/>
<line x1="282.99" y1="638.47" x2="287.09" y2="638.47" stroke="#303030" stroke-width="1.5" />
<rect x="288.39" y="628.83" width="4.10" height="27.59" fill="#92cc83" stroke="#303030" stroke-width="0.9"/>
<line x1="288.39" y1="645.18" x2="292.49" y2="645.18" stroke="#303030" stroke-width="1.5" />
<rect x="293.94" y="640.36" width="4.10" height="14.89" fill="#92cc83" stroke="#303030" stroke-width="0.9"/>
<line x1="293.94" y1="644.01" x2="298.04" y2="644.01" stroke="#303030" stroke-width="1.5" />
<rect x="299.34" y="627.37" width="4.10" height="22.77" fill="#92cc83" stroke="#303030" stroke-width="0.9"/>
<line x1="299.34" y1="645.04" x2="303.44" y2="645.04" stroke="#303030" stroke-width="1.5" />
<rect x="304.74" y="637.15" width="4.10" height="9.49" fill="#92cc83" stroke="#303030" stroke-width="0.9"/>
<line x1="304.74" y1="640.66" x2="308.84" y2="640.66" stroke="#303030" stroke-width="1.5" />
<rect x="310.29" y="638.47" width="4.10" height="11.09" fill="#92cc83" stroke="#303030" stroke-width="0.9"/>
<line x1="310.29" y1="639.05" x2="314.39" y2="639.05" stroke="#303030" stroke-width="1.5" />
<line x1="50.21" y1="661.82" x2="54.31" y2="661.82" stroke="#303030" stroke-width="1.5" />
<line x1="55.47" y1="669.42" x2="59.57" y2="669.42" stroke="#303030" stroke-width="1.5" />
<line x1="44.81" y1="691.46" x2="48.91" y2="691.46" stroke="#303030" stroke-width="1.5" />
</g>
<line x1="43.80" y1="578.40" x2="43.80" y2="761.85" stroke="#000" stroke-width="1.7" />
<line x1="42.95" y1="761.00" x2="315.20" y2="761.00" stroke="#000" stroke-width="1.7" />
<line x1="39.60" y1="578.40" x2="43.80" y2="578.40" stroke="#000" stroke-width="1.4" />
<text x="36.30" y="582.90" font-size="12.5" text-anchor="end" fill="#474747" font-family="Liberation Sans, Arial, sans-serif" >60</text>
<line x1="39.60" y1="639.20" x2="43.80" y2="639.20" stroke="#000" stroke-width="1.4" />
<text x="36.30" y="643.70" font-size="12.5" text-anchor="end" fill="#474747" font-family="Liberation Sans, Arial, sans-serif" >55</text>
<line x1="39.60" y1="700.20" x2="43.80" y2="700.20" stroke="#000" stroke-width="1.4" />
<text x="36.30" y="704.70" font-size="12.5" text-anchor="end" fill="#474747" font-family="Liberation Sans, Arial, sans-serif" >50</text>
<line x1="39.60" y1="761.00" x2="43.80" y2="761.00" stroke="#000" stroke-width="1.4" />
<text x="36.30" y="765.50" font-size="12.5" text-anchor="end" fill="#474747" font-family="Liberation Sans, Arial, sans-serif" >45</text>
<line x1="79.40" y1="761.00" x2="79.40" y2="765.20" stroke="#000" stroke-width="1.4" />
<text x="79.40" y="777.40" font-size="12.5" text-anchor="middle" fill="#474747" font-family="Liberation Sans, Arial, sans-serif" >35</text>
<line x1="106.45" y1="761.00" x2="106.45" y2="765.20" stroke="#000" stroke-width="1.4" />
<text x="106.45" y="777.40" font-size="12.5" text-anchor="middle" fill="#474747" font-family="Liberation Sans, Arial, sans-serif" >40</text>
<line x1="133.50" y1="761.00" x2="133.50" y2="765.20" stroke="#000" stroke-width="1.4" />
<text x="133.50" y="777.40" font-size="12.5" text-anchor="middle" fill="#474747" font-family="Liberation Sans, Arial, sans-serif" >45</text>
<line x1="160.55" y1="761.00" x2="160.55" y2="765.20" stroke="#000" stroke-width="1.4" />
<text x="160.55" y="777.40" font-size="12.5" text-anchor="middle" fill="#474747" font-family="Liberation Sans, Arial, sans-serif" >50</text>
<line x1="187.60" y1="761.00" x2="187.60" y2="765.20" stroke="#000" stroke-width="1.4" />
<text x="187.60" y="777.40" font-size="12.5" text-anchor="middle" fill="#474747" font-family="Liberation Sans, Arial, sans-serif" >55</text>
<line x1="214.65" y1="761.00" x2="214.65" y2="765.20" stroke="#000" stroke-width="1.4" />
<text x="214.65" y="777.40" font-size="12.5" text-anchor="middle" fill="#474747" font-family="Liberation Sans, Arial, sans-serif" >60</text>
<line x1="241.70" y1="761.00" x2="241.70" y2="765.20" stroke="#000" stroke-width="1.4" />
<text x="241.70" y="777.40" font-size="12.5" text-anchor="middle" fill="#474747" font-family="Liberation Sans, Arial, sans-serif" >65</text>
<line x1="268.75" y1="761.00" x2="268.75" y2="765.20" stroke="#000" stroke-width="1.4" />
<text x="268.75" y="777.40" font-size="12.5" text-anchor="middle" fill="#474747" font-family="Liberation Sans, Arial, sans-serif" >70</text>
<text transform="translate(17.00,670.50) rotate(-90)" font-size="12" text-anchor="middle" fill="#000" font-family="Liberation Sans, Arial, sans-serif">Metabolite signature score</text>
<text x="181.50" y="793.00" font-size="12" text-anchor="middle" fill="#000" font-family="Liberation Sans, Arial, sans-serif" >HPDI</text>
<text x="53.00" y="594.30" font-size="13.35" text-anchor="start" fill="#000" font-family="Liberation Sans, Arial, sans-serif" >R = 0.18</text>
<text x="3.80" y="838.30" font-size="20.2" text-anchor="start" fill="#000" font-family="Liberation Serif, Times New Roman, serif" font-weight="bold" stroke="#000" stroke-width="0.5" stroke-linejoin="round" letter-spacing="0.3">(D)</text>
<g fill="none" stroke="#2b2b2b" stroke-width="0.55">
</g>
<g fill="none" stroke="#1c1c1c" stroke-width="0.8">
<line x1="46.86" y1="924.45" x2="46.86" y2="933.94" stroke="#6c6c6c" stroke-width="1.0" />
<line x1="46.86" y1="953.36" x2="46.86" y2="962.70" stroke="#6c6c6c" stroke-width="1.0" />
<line x1="52.41" y1="932.48" x2="52.41" y2="942.41" stroke="#6c6c6c" stroke-width="1.0" />
<line x1="52.41" y1="963.58" x2="52.41" y2="975.55" stroke="#6c6c6c" stroke-width="1.0" />
<line x1="57.81" y1="920.07" x2="57.81" y2="930.58" stroke="#6c6c6c" stroke-width="1.0" />
<line x1="57.81" y1="941.24" x2="57.81" y2="941.68" stroke="#6c6c6c" stroke-width="1.0" />
<line x1="63.36" y1="931.75" x2="63.36" y2="932.19" stroke="#6c6c6c" stroke-width="1.0" />
<line x1="63.36" y1="937.59" x2="63.36" y2="939.34" stroke="#6c6c6c" stroke-width="1.0" />
<line x1="68.91" y1="900.80" x2="68.91" y2="928.54" stroke="#6c6c6c" stroke-width="1.0" />
<line x1="68.91" y1="952.63" x2="68.91" y2="979.20" stroke="#6c6c6c" stroke-width="1.0" />
<line x1="74.31" y1="881.09" x2="74.31" y2="912.77" stroke="#6c6c6c" stroke-width="1.0" />
<line x1="74.31" y1="948.54" x2="74.31" y2="971.90" stroke="#6c6c6c" stroke-width="1.0" />
<line x1="79.85" y1="906.20" x2="79.85" y2="930.58" stroke="#6c6c6c" stroke-width="1.0" />
<line x1="79.85" y1="949.27" x2="79.85" y2="975.55" stroke="#6c6c6c" stroke-width="1.0" />
<line x1="85.40" y1="897.15" x2="85.40" y2="926.64" stroke="#6c6c6c" stroke-width="1.0" />
<line x1="85.40" y1="949.27" x2="85.40" y2="974.82" stroke="#6c6c6c" stroke-width="1.0" />
<line x1="90.95" y1="900.07" x2="90.95" y2="920.80" stroke="#6c6c6c" stroke-width="1.0" />
<line x1="90.95" y1="944.16" x2="90.95" y2="975.55" stroke="#6c6c6c" stroke-width="1.0" />
<line x1="96.35" y1="893.07" x2="96.35" y2="924.01" stroke="#6c6c6c" stroke-width="1.0" />
<line x1="96.35" y1="945.62" x2="96.35" y2="966.06" stroke="#6c6c6c" stroke-width="1.0" />
<line x1="101.90" y1="892.34" x2="101.90" y2="922.26" stroke="#6c6c6c" stroke-width="1.0" />
<line x1="101.90" y1="943.14" x2="101.90" y2="974.82" stroke="#6c6c6c" stroke-width="1.0" />
<line x1="107.45" y1="886.50" x2="107.45" y2="920.80" stroke="#6c6c6c" stroke-width="1.0" />
<line x1="107.45" y1="944.16" x2="107.45" y2="974.09" stroke="#6c6c6c" stroke-width="1.0" />
<line x1="112.99" y1="889.12" x2="112.99" y2="921.09" stroke="#6c6c6c" stroke-width="1.0" />
<line x1="112.99" y1="944.45" x2="112.99" y2="974.09" stroke="#6c6c6c" stroke-width="1.0" />
<line x1="118.54" y1="890.15" x2="118.54" y2="921.53" stroke="#6c6c6c" stroke-width="1.0" />
<line x1="118.54" y1="943.14" x2="118.54" y2="974.09" stroke="#6c6c6c" stroke-width="1.0" />
<line x1="124.09" y1="890.15" x2="124.09" y2="920.51" stroke="#6c6c6c" stroke-width="1.0" />
<line x1="124.09" y1="942.26" x2="124.09" y2="971.90" stroke="#6c6c6c" stroke-width="1.0" />
<line x1="129.64" y1="885.04" x2="129.64" y2="918.61" stroke="#6c6c6c" stroke-width="1.0" />
<line x1="129.64" y1="941.39" x2="129.64" y2="974.09" stroke="#6c6c6c" stroke-width="1.0" />
<line x1="135.18" y1="885.77" x2="135.18" y2="919.34" stroke="#6c6c6c" stroke-width="1.0" />
<line x1="135.18" y1="941.24" x2="135.18" y2="974.09" stroke="#6c6c6c" stroke-width="1.0" />
<line x1="140.84" y1="887.23" x2="140.84" y2="919.64" stroke="#6c6c6c" stroke-width="1.0" />
<line x1="140.84" y1="940.80" x2="140.84" y2="972.63" stroke="#6c6c6c" stroke-width="1.0" />
<line x1="146.39" y1="885.04" x2="146.39" y2="917.59" stroke="#6c6c6c" stroke-width="1.0" />
<line x1="146.39" y1="939.34" x2="146.39" y2="972.63" stroke="#6c6c6c" stroke-width="1.0" />
<line x1="151.93" y1="885.04" x2="151.93" y2="918.32" stroke="#6c6c6c" stroke-width="1.0" />
<line x1="151.93" y1="939.34" x2="151.93" y2="972.63" stroke="#6c6c6c" stroke-width="1.0" />
<line x1="157.34" y1="885.04" x2="157.34" y2="917.45" stroke="#6c6c6c" stroke-width="1.0" />
<line x1="157.34" y1="938.32" x2="157.34" y2="968.25" stroke="#6c6c6c" stroke-width="1.0" />
<line x1="162.88" y1="885.77" x2="162.88" y2="917.45" stroke="#6c6c6c" stroke-width="1.0" />
<line x1="162.88" y1="938.32" x2="162.88" y2="970.44" stroke="#6c6c6c" stroke-width="1.0" />
<line x1="168.43" y1="884.31" x2="168.43" y2="916.42" stroke="#6c6c6c" stroke-width="1.0" />
<line x1="168.43" y1="937.30" x2="168.43" y2="968.98" stroke="#6c6c6c" stroke-width="1.0" />
<line x1="173.83" y1="883.58" x2="173.83" y2="915.69" stroke="#6c6c6c" stroke-width="1.0" />
<line x1="173.83" y1="937.15" x2="173.83" y2="968.98" stroke="#6c6c6c" stroke-width="1.0" />
<line x1="179.38" y1="882.85" x2="179.38" y2="915.40" stroke="#6c6c6c" stroke-width="1.0" />
<line x1="179.38" y1="936.42" x2="179.38" y2="968.98" stroke="#6c6c6c" stroke-width="1.0" />
<line x1="184.93" y1="882.85" x2="184.93" y2="915.69" stroke="#6c6c6c" stroke-width="1.0" />
<line x1="184.93" y1="936.13" x2="184.93" y2="968.25" stroke="#6c6c6c" stroke-width="1.0" />
<line x1="190.33" y1="881.82" x2="190.33" y2="914.23" stroke="#6c6c6c" stroke-width="1.0" />
<line x1="190.33" y1="936.13" x2="190.33" y2="968.25" stroke="#6c6c6c" stroke-width="1.0" />
<line x1="195.88" y1="880.66" x2="195.88" y2="913.50" stroke="#6c6c6c" stroke-width="1.0" />
<line x1="195.88" y1="935.11" x2="195.88" y2="968.25" stroke="#6c6c6c" stroke-width="1.0" />
<line x1="201.42" y1="881.39" x2="201.42" y2="913.50" stroke="#6c6c6c" stroke-width="1.0" />
<line x1="201.42" y1="934.38" x2="201.42" y2="966.79" stroke="#6c6c6c" stroke-width="1.0" />
<line x1="206.97" y1="879.93" x2="206.97" y2="912.77" stroke="#6c6c6c" stroke-width="1.0" />
<line x1="206.97" y1="934.23" x2="206.97" y2="966.06" stroke="#6c6c6c" stroke-width="1.0" />
<line x1="212.37" y1="881.39" x2="212.37" y2="912.77" stroke="#6c6c6c" stroke-width="1.0" />
<line x1="212.37" y1="933.50" x2="212.37" y2="964.60" stroke="#6c6c6c" stroke-width="1.0" />
<line x1="217.92" y1="880.66" x2="217.92" y2="912.04" stroke="#6c6c6c" stroke-width="1.0" />
<line x1="217.92" y1="932.48" x2="217.92" y2="963.14" stroke="#6c6c6c" stroke-width="1.0" />
<line x1="223.47" y1="882.85" x2="223.47" y2="912.34" stroke="#6c6c6c" stroke-width="1.0" />
<line x1="223.47" y1="931.31" x2="223.47" y2="960.22" stroke="#6c6c6c" stroke-width="1.0" />
<line x1="229.01" y1="879.93" x2="229.01" y2="911.61" stroke="#6c6c6c" stroke-width="1.0" />
<line x1="229.01" y1="931.31" x2="229.01" y2="960.22" stroke="#6c6c6c" stroke-width="1.0" />
<line x1="234.67" y1="877.01" x2="234.67" y2="910.58" stroke="#6c6c6c" stroke-width="1.0" />
<line x1="234.67" y1="933.21" x2="234.67" y2="966.06" stroke="#6c6c6c" stroke-width="1.0" />
<line x1="240.22" y1="877.30" x2="240.22" y2="909.42" stroke="#6c6c6c" stroke-width="1.0" />
<line x1="240.22" y1="931.02" x2="240.22" y2="963.14" stroke="#6c6c6c" stroke-width="1.0" />
<line x1="245.77" y1="877.01" x2="245.77" y2="908.39" stroke="#6c6c6c" stroke-width="1.0" />
<line x1="245.77" y1="929.27" x2="245.77" y2="960.22" stroke="#6c6c6c" stroke-width="1.0" />
<line x1="251.31" y1="878.91" x2="251.31" y2="907.66" stroke="#6c6c6c" stroke-width="1.0" />
<line x1="251.31" y1="928.10" x2="251.31" y2="958.76" stroke="#6c6c6c" stroke-width="1.0" />
<line x1="256.86" y1="879.20" x2="256.86" y2="908.39" stroke="#6c6c6c" stroke-width="1.0" />
<line x1="256.86" y1="928.39" x2="256.86" y2="958.03" stroke="#6c6c6c" stroke-width="1.0" />
<line x1="262.41" y1="878.76" x2="262.41" y2="906.50" stroke="#6c6c6c" stroke-width="1.0" />
<line x1="262.41" y1="928.39" x2="262.41" y2="956.13" stroke="#6c6c6c" stroke-width="1.0" />
<line x1="267.96" y1="878.47" x2="267.96" y2="907.66" stroke="#6c6c6c" stroke-width="1.0" />
<line x1="267.96" y1="928.54" x2="267.96" y2="952.92" stroke="#6c6c6c" stroke-width="1.0" />
<line x1="273.36" y1="887.23" x2="273.36" y2="908.10" stroke="#6c6c6c" stroke-width="1.0" />
<line x1="273.36" y1="926.35" x2="273.36" y2="950.44" stroke="#6c6c6c" stroke-width="1.0" />
<line x1="278.91" y1="886.50" x2="278.91" y2="904.31" stroke="#6c6c6c" stroke-width="1.0" />
<line x1="278.91" y1="925.47" x2="278.91" y2="949.71" stroke="#6c6c6c" stroke-width="1.0" />
<line x1="284.45" y1="878.03" x2="284.45" y2="902.26" stroke="#6c6c6c" stroke-width="1.0" />
<line x1="284.45" y1="924.01" x2="284.45" y2="939.78" stroke="#6c6c6c" stroke-width="1.0" />
<line x1="290.00" y1="883.58" x2="290.00" y2="906.20" stroke="#6c6c6c" stroke-width="1.0" />
<line x1="290.00" y1="926.35" x2="290.00" y2="945.62" stroke="#6c6c6c" stroke-width="1.0" />
<line x1="295.55" y1="893.80" x2="295.55" y2="905.04" stroke="#6c6c6c" stroke-width="1.0" />
<line x1="295.55" y1="922.41" x2="295.55" y2="943.43" stroke="#6c6c6c" stroke-width="1.0" />
<line x1="301.09" y1="898.91" x2="301.09" y2="904.45" stroke="#6c6c6c" stroke-width="1.0" />
<line x1="301.09" y1="919.34" x2="301.09" y2="926.93" stroke="#6c6c6c" stroke-width="1.0" />
<line x1="306.50" y1="909.12" x2="306.50" y2="909.42" stroke="#6c6c6c" stroke-width="1.0" />
<line x1="306.50" y1="920.22" x2="306.50" y2="926.64" stroke="#6c6c6c" stroke-width="1.0" />
<line x1="312.34" y1="904.31" x2="312.34" y2="913.50" stroke="#6c6c6c" stroke-width="1.0" />
<line x1="312.34" y1="920.66" x2="312.34" y2="921.53" stroke="#6c6c6c" stroke-width="1.0" />
<circle cx="57.81" cy="957.30" r="1.35"/>
<circle cx="57.81" cy="965.33" r="1.35"/>
<circle cx="63.36" cy="897.45" r="1.35"/>
<circle cx="63.36" cy="915.99" r="1.35"/>
<circle cx="63.36" cy="958.03" r="1.35"/>
<circle cx="79.85" cy="978.32" r="1.35"/>
<circle cx="90.95" cy="995.69" r="1.35"/>
<circle cx="90.95" cy="996.28" r="1.35"/>
<circle cx="101.90" cy="888.39" r="1.35"/>
<circle cx="107.45" cy="885.04" r="1.35"/>
<circle cx="107.45" cy="991.61" r="1.35"/>
<circle cx="112.99" cy="871.61" r="1.35"/>
<circle cx="112.99" cy="979.64" r="1.35"/>
<circle cx="112.99" cy="985.47" r="1.35"/>
<circle cx="112.99" cy="988.98" r="1.35"/>
<circle cx="118.54" cy="874.38" r="1.35"/>
<circle cx="118.54" cy="882.55" r="1.35"/>
<circle cx="118.54" cy="887.23" r="1.35"/>
<circle cx="118.54" cy="976.72" r="1.35"/>
<circle cx="118.54" cy="977.30" r="1.35"/>
<circle cx="118.54" cy="982.12" r="1.35"/>
<circle cx="118.54" cy="986.93" r="1.35"/>
<circle cx="118.54" cy="987.52" r="1.35"/>
<circle cx="124.09" cy="882.12" r="1.35"/>
<circle cx="124.09" cy="885.91" r="1.35"/>
<circle cx="124.09" cy="885.04" r="1.35"/>
<circle cx="124.09" cy="979.64" r="1.35"/>
<circle cx="124.09" cy="982.12" r="1.35"/>
<circle cx="124.09" cy="983.58" r="1.35"/>
<circle cx="124.09" cy="986.50" r="1.35"/>
<circle cx="129.64" cy="863.14" r="1.35"/>
<circle cx="129.64" cy="872.92" r="1.35"/>
<circle cx="129.64" cy="878.47" r="1.35"/>
<circle cx="129.64" cy="884.31" r="1.35"/>
<circle cx="129.64" cy="883.28" r="1.35"/>
<circle cx="129.64" cy="975.55" r="1.35"/>
<circle cx="129.64" cy="977.01" r="1.35"/>
<circle cx="135.18" cy="883.58" r="1.35"/>
<circle cx="135.18" cy="882.85" r="1.35"/>
<circle cx="135.18" cy="974.82" r="1.35"/>
<circle cx="135.18" cy="975.84" r="1.35"/>
<circle cx="135.18" cy="978.91" r="1.35"/>
<circle cx="135.18" cy="990.58" r="1.35"/>
<circle cx="140.84" cy="886.50" r="1.35"/>
<circle cx="140.84" cy="886.29" r="1.35"/>
<circle cx="140.84" cy="885.74" r="1.35"/>
<circle cx="140.84" cy="884.87" r="1.35"/>
<circle cx="140.84" cy="883.68" r="1.35"/>
<circle cx="140.84" cy="882.20" r="1.35"/>
<circle cx="140.84" cy="880.42" r="1.35"/>
<circle cx="140.84" cy="878.35" r="1.35"/>
<circle cx="140.84" cy="875.99" r="1.35"/>
<circle cx="140.84" cy="873.36" r="1.35"/>
<circle cx="140.84" cy="973.36" r="1.35"/>
<circle cx="140.84" cy="973.58" r="1.35"/>
<circle cx="140.84" cy="974.17" r="1.35"/>
<circle cx="140.84" cy="975.12" r="1.35"/>
<circle cx="140.84" cy="976.40" r="1.35"/>
<circle cx="140.84" cy="978.00" r="1.35"/>
<circle cx="140.84" cy="979.93" r="1.35"/>
<circle cx="146.39" cy="866.50" r="1.35"/>
<circle cx="146.39" cy="883.58" r="1.35"/>
<circle cx="146.39" cy="883.27" r="1.35"/>
<circle cx="146.39" cy="882.42" r="1.35"/>
<circle cx="146.39" cy="881.09" r="1.35"/>
<circle cx="146.39" cy="879.28" r="1.35"/>
<circle cx="146.39" cy="877.01" r="1.35"/>
<circle cx="146.39" cy="976.28" r="1.35"/>
<circle cx="146.39" cy="981.39" r="1.35"/>
<circle cx="146.39" cy="983.58" r="1.35"/>
<circle cx="146.39" cy="989.12" r="1.35"/>
<circle cx="151.93" cy="877.74" r="1.35"/>
<circle cx="151.93" cy="877.39" r="1.35"/>
<circle cx="151.93" cy="876.46" r="1.35"/>
<circle cx="151.93" cy="874.97" r="1.35"/>
<circle cx="151.93" cy="872.96" r="1.35"/>
<circle cx="151.93" cy="870.44" r="1.35"/>
<circle cx="151.93" cy="883.87" r="1.35"/>
<circle cx="151.93" cy="883.20" r="1.35"/>
<circle cx="151.93" cy="881.39" r="1.35"/>
<circle cx="151.93" cy="973.36" r="1.35"/>
<circle cx="151.93" cy="973.72" r="1.35"/>
<circle cx="151.93" cy="974.73" r="1.35"/>
<circle cx="151.93" cy="976.32" r="1.35"/>
<circle cx="151.93" cy="978.47" r="1.35"/>
<circle cx="157.34" cy="865.04" r="1.35"/>
<circle cx="157.34" cy="871.61" r="1.35"/>
<circle cx="157.34" cy="883.28" r="1.35"/>
<circle cx="157.34" cy="882.58" r="1.35"/>
<circle cx="157.34" cy="880.66" r="1.35"/>
<circle cx="157.34" cy="969.71" r="1.35"/>
<circle cx="157.34" cy="969.87" r="1.35"/>
<circle cx="157.34" cy="970.29" r="1.35"/>
<circle cx="157.34" cy="970.98" r="1.35"/>
<circle cx="157.34" cy="971.90" r="1.35"/>
<circle cx="157.34" cy="973.05" r="1.35"/>
<circle cx="157.34" cy="974.44" r="1.35"/>
<circle cx="157.34" cy="976.05" r="1.35"/>
<circle cx="157.34" cy="977.88" r="1.35"/>
<circle cx="157.34" cy="979.93" r="1.35"/>
<circle cx="157.34" cy="986.06" r="1.35"/>
<circle cx="157.34" cy="991.61" r="1.35"/>
<circle cx="162.88" cy="870.00" r="1.35"/>
<circle cx="162.88" cy="868.54" r="1.35"/>
<circle cx="162.88" cy="884.31" r="1.35"/>
<circle cx="162.88" cy="883.76" r="1.35"/>
<circle cx="162.88" cy="882.28" r="1.35"/>
<circle cx="162.88" cy="879.93" r="1.35"/>
<circle cx="162.88" cy="971.17" r="1.35"/>
<circle cx="162.88" cy="971.44" r="1.35"/>
<circle cx="162.88" cy="972.19" r="1.35"/>
<circle cx="162.88" cy="973.38" r="1.35"/>
<circle cx="162.88" cy="974.99" r="1.35"/>
<circle cx="162.88" cy="977.01" r="1.35"/>
<circle cx="162.88" cy="981.82" r="1.35"/>
<circle cx="162.88" cy="984.31" r="1.35"/>
<circle cx="162.88" cy="987.96" r="1.35"/>
<circle cx="162.88" cy="990.58" r="1.35"/>
<circle cx="168.43" cy="873.36" r="1.35"/>
<circle cx="168.43" cy="872.81" r="1.35"/>
<circle cx="168.43" cy="871.33" r="1.35"/>
<circle cx="168.43" cy="868.98" r="1.35"/>
<circle cx="168.43" cy="883.58" r="1.35"/>
<circle cx="168.43" cy="883.16" r="1.35"/>
<circle cx="168.43" cy="882.01" r="1.35"/>
<circle cx="168.43" cy="880.20" r="1.35"/>
<circle cx="168.43" cy="877.74" r="1.35"/>
<circle cx="168.43" cy="969.71" r="1.35"/>
<circle cx="168.43" cy="969.98" r="1.35"/>
<circle cx="168.43" cy="970.73" r="1.35"/>
<circle cx="168.43" cy="971.92" r="1.35"/>
<circle cx="168.43" cy="973.53" r="1.35"/>
<circle cx="168.43" cy="975.55" r="1.35"/>
<circle cx="168.43" cy="981.82" r="1.35"/>
<circle cx="173.83" cy="864.16" r="1.35"/>
<circle cx="173.83" cy="882.12" r="1.35"/>
<circle cx="173.83" cy="881.70" r="1.35"/>
<circle cx="173.83" cy="880.55" r="1.35"/>
<circle cx="173.83" cy="878.74" r="1.35"/>
<circle cx="173.83" cy="876.28" r="1.35"/>
<circle cx="173.83" cy="969.71" r="1.35"/>
<circle cx="173.83" cy="969.95" r="1.35"/>
<circle cx="173.83" cy="970.61" r="1.35"/>
<circle cx="173.83" cy="971.66" r="1.35"/>
<circle cx="173.83" cy="973.09" r="1.35"/>
<circle cx="173.83" cy="974.87" r="1.35"/>
<circle cx="173.83" cy="977.01" r="1.35"/>
<circle cx="173.83" cy="983.58" r="1.35"/>
<circle cx="173.83" cy="986.06" r="1.35"/>
<circle cx="173.83" cy="1034.82" r="1.35"/>
<circle cx="179.38" cy="863.87" r="1.35"/>
<circle cx="179.38" cy="877.01" r="1.35"/>
<circle cx="179.38" cy="876.72" r="1.35"/>
<circle cx="179.38" cy="875.92" r="1.35"/>
<circle cx="179.38" cy="874.66" r="1.35"/>
<circle cx="179.38" cy="872.95" r="1.35"/>
<circle cx="179.38" cy="870.81" r="1.35"/>
<circle cx="179.38" cy="868.25" r="1.35"/>
<circle cx="179.38" cy="880.95" r="1.35"/>
<circle cx="179.38" cy="969.71" r="1.35"/>
<circle cx="179.38" cy="969.95" r="1.35"/>
<circle cx="179.38" cy="970.61" r="1.35"/>
<circle cx="179.38" cy="971.66" r="1.35"/>
<circle cx="179.38" cy="973.09" r="1.35"/>
<circle cx="179.38" cy="974.87" r="1.35"/>
<circle cx="179.38" cy="977.01" r="1.35"/>
<circle cx="179.38" cy="983.14" r="1.35"/>
<circle cx="184.93" cy="851.46" r="1.35"/>
<circle cx="184.93" cy="869.42" r="1.35"/>
<circle cx="184.93" cy="874.82" r="1.35"/>
<circle cx="184.93" cy="881.82" r="1.35"/>
<circle cx="184.93" cy="880.93" r="1.35"/>
<circle cx="184.93" cy="878.47" r="1.35"/>
<circle cx="184.93" cy="968.54" r="1.35"/>
<circle cx="184.93" cy="968.68" r="1.35"/>
<circle cx="184.93" cy="969.08" r="1.35"/>
<circle cx="184.93" cy="969.70" r="1.35"/>
<circle cx="184.93" cy="970.54" r="1.35"/>
<circle cx="184.93" cy="971.59" r="1.35"/>
<circle cx="184.93" cy="972.85" r="1.35"/>
<circle cx="184.93" cy="974.32" r="1.35"/>
<circle cx="184.93" cy="975.99" r="1.35"/>
<circle cx="184.93" cy="977.86" r="1.35"/>
<circle cx="184.93" cy="979.93" r="1.35"/>
<circle cx="190.33" cy="872.63" r="1.35"/>
<circle cx="190.33" cy="872.12" r="1.35"/>
<circle cx="190.33" cy="870.74" r="1.35"/>
<circle cx="190.33" cy="868.54" r="1.35"/>
<circle cx="190.33" cy="879.93" r="1.35"/>
<circle cx="190.33" cy="879.47" r="1.35"/>
<circle cx="190.33" cy="878.24" r="1.35"/>
<circle cx="190.33" cy="876.28" r="1.35"/>
<circle cx="190.33" cy="968.98" r="1.35"/>
<circle cx="190.33" cy="969.13" r="1.35"/>
<circle cx="190.33" cy="969.53" r="1.35"/>
<circle cx="190.33" cy="970.16" r="1.35"/>
<circle cx="190.33" cy="971.03" r="1.35"/>
<circle cx="190.33" cy="972.11" r="1.35"/>
<circle cx="190.33" cy="973.40" r="1.35"/>
<circle cx="190.33" cy="974.91" r="1.35"/>
<circle cx="190.33" cy="976.62" r="1.35"/>
<circle cx="190.33" cy="978.54" r="1.35"/>
<circle cx="190.33" cy="980.66" r="1.35"/>
<circle cx="190.33" cy="986.93" r="1.35"/>
<circle cx="195.88" cy="879.20" r="1.35"/>
<circle cx="195.88" cy="878.93" r="1.35"/>
<circle cx="195.88" cy="878.21" r="1.35"/>
<circle cx="195.88" cy="877.07" r="1.35"/>
<circle cx="195.88" cy="875.52" r="1.35"/>
<circle cx="195.88" cy="873.57" r="1.35"/>
<circle cx="195.88" cy="871.25" r="1.35"/>
<circle cx="195.88" cy="868.54" r="1.35"/>
<circle cx="195.88" cy="969.71" r="1.35"/>
<circle cx="195.88" cy="969.95" r="1.35"/>
<circle cx="195.88" cy="970.61" r="1.35"/>
<circle cx="195.88" cy="971.66" r="1.35"/>
<circle cx="195.88" cy="973.09" r="1.35"/>
<circle cx="195.88" cy="974.87" r="1.35"/>
<circle cx="195.88" cy="977.01" r="1.35"/>
<circle cx="195.88" cy="983.87" r="1.35"/>
<circle cx="201.42" cy="863.14" r="1.35"/>
<circle cx="201.42" cy="867.52" r="1.35"/>
<circle cx="201.42" cy="880.66" r="1.35"/>
<circle cx="201.42" cy="880.37" r="1.35"/>
<circle cx="201.42" cy="879.57" r="1.35"/>
<circle cx="201.42" cy="878.31" r="1.35"/>
<circle cx="201.42" cy="876.60" r="1.35"/>
<circle cx="201.42" cy="874.46" r="1.35"/>
<circle cx="201.42" cy="871.90" r="1.35"/>
<circle cx="201.42" cy="967.52" r="1.35"/>
<circle cx="201.42" cy="967.69" r="1.35"/>
<circle cx="201.42" cy="968.15" r="1.35"/>
<circle cx="201.42" cy="968.88" r="1.35"/>
<circle cx="201.42" cy="969.87" r="1.35"/>
<circle cx="201.42" cy="971.10" r="1.35"/>
<circle cx="201.42" cy="972.59" r="1.35"/>
<circle cx="201.42" cy="974.31" r="1.35"/>
<circle cx="201.42" cy="976.28" r="1.35"/>
<circle cx="206.97" cy="879.20" r="1.35"/>
<circle cx="206.97" cy="878.49" r="1.35"/>
<circle cx="206.97" cy="876.57" r="1.35"/>
<circle cx="206.97" cy="966.79" r="1.35"/>
<circle cx="206.97" cy="966.96" r="1.35"/>
<circle cx="206.97" cy="967.42" r="1.35"/>
<circle cx="206.97" cy="968.15" r="1.35"/>
<circle cx="206.97" cy="969.14" r="1.35"/>
<circle cx="206.97" cy="970.37" r="1.35"/>
<circle cx="206.97" cy="971.86" r="1.35"/>
<circle cx="206.97" cy="973.58" r="1.35"/>
<circle cx="206.97" cy="975.55" r="1.35"/>
<circle cx="212.37" cy="855.84" r="1.35"/>
<circle cx="212.37" cy="865.04" r="1.35"/>
<circle cx="212.37" cy="877.45" r="1.35"/>
<circle cx="212.37" cy="876.74" r="1.35"/>
<circle cx="212.37" cy="874.82" r="1.35"/>
<circle cx="212.37" cy="880.66" r="1.35"/>
<circle cx="212.37" cy="965.33" r="1.35"/>
<circle cx="212.37" cy="965.50" r="1.35"/>
<circle cx="212.37" cy="965.96" r="1.35"/>
<circle cx="212.37" cy="966.69" r="1.35"/>
<circle cx="212.37" cy="967.68" r="1.35"/>
<circle cx="212.37" cy="968.91" r="1.35"/>
<circle cx="212.37" cy="970.40" r="1.35"/>
<circle cx="212.37" cy="972.12" r="1.35"/>
<circle cx="212.37" cy="974.09" r="1.35"/>
<circle cx="212.37" cy="977.74" r="1.35"/>
<circle cx="212.37" cy="978.19" r="1.35"/>
<circle cx="212.37" cy="979.43" r="1.35"/>
<circle cx="212.37" cy="981.39" r="1.35"/>
<circle cx="217.92" cy="862.41" r="1.35"/>
<circle cx="217.92" cy="879.93" r="1.35"/>
<circle cx="217.92" cy="879.72" r="1.35"/>
<circle cx="217.92" cy="879.14" r="1.35"/>
<circle cx="217.92" cy="878.23" r="1.35"/>
<circle cx="217.92" cy="876.99" r="1.35"/>
<circle cx="217.92" cy="875.44" r="1.35"/>
<circle cx="217.92" cy="873.59" r="1.35"/>
<circle cx="217.92" cy="871.43" r="1.35"/>
<circle cx="217.92" cy="868.98" r="1.35"/>
<circle cx="217.92" cy="963.87" r="1.35"/>
<circle cx="217.92" cy="964.05" r="1.35"/>
<circle cx="217.92" cy="964.55" r="1.35"/>
<circle cx="217.92" cy="965.34" r="1.35"/>
<circle cx="217.92" cy="966.41" r="1.35"/>
<circle cx="217.92" cy="967.75" r="1.35"/>
<circle cx="217.92" cy="969.36" r="1.35"/>
<circle cx="217.92" cy="971.23" r="1.35"/>
<circle cx="217.92" cy="973.36" r="1.35"/>
<circle cx="217.92" cy="977.01" r="1.35"/>
<circle cx="217.92" cy="977.32" r="1.35"/>
<circle cx="217.92" cy="978.18" r="1.35"/>
<circle cx="217.92" cy="979.54" r="1.35"/>
<circle cx="217.92" cy="981.39" r="1.35"/>
<circle cx="223.47" cy="882.12" r="1.35"/>
<circle cx="223.47" cy="881.92" r="1.35"/>
<circle cx="223.47" cy="881.38" r="1.35"/>
<circle cx="223.47" cy="880.52" r="1.35"/>
<circle cx="223.47" cy="879.36" r="1.35"/>
<circle cx="223.47" cy="877.91" r="1.35"/>
<circle cx="223.47" cy="876.17" r="1.35"/>
<circle cx="223.47" cy="874.15" r="1.35"/>
<circle cx="223.47" cy="871.85" r="1.35"/>
<circle cx="223.47" cy="869.27" r="1.35"/>
<circle cx="223.47" cy="960.95" r="1.35"/>
<circle cx="223.47" cy="961.22" r="1.35"/>
<circle cx="223.47" cy="961.97" r="1.35"/>
<circle cx="223.47" cy="963.16" r="1.35"/>
<circle cx="223.47" cy="964.77" r="1.35"/>
<circle cx="223.47" cy="966.79" r="1.35"/>
<circle cx="223.47" cy="972.92" r="1.35"/>
<circle cx="223.47" cy="979.34" r="1.35"/>
<circle cx="229.01" cy="879.93" r="1.35"/>
<circle cx="229.01" cy="879.62" r="1.35"/>
<circle cx="229.01" cy="878.78" r="1.35"/>
<circle cx="229.01" cy="877.44" r="1.35"/>
<circle cx="229.01" cy="875.63" r="1.35"/>
<circle cx="229.01" cy="873.36" r="1.35"/>
<circle cx="229.01" cy="960.95" r="1.35"/>
<circle cx="229.01" cy="961.19" r="1.35"/>
<circle cx="229.01" cy="961.85" r="1.35"/>
<circle cx="229.01" cy="962.90" r="1.35"/>
<circle cx="229.01" cy="964.33" r="1.35"/>
<circle cx="229.01" cy="966.11" r="1.35"/>
<circle cx="229.01" cy="968.25" r="1.35"/>
<circle cx="229.01" cy="997.74" r="1.35"/>
<circle cx="234.67" cy="876.28" r="1.35"/>
<circle cx="234.67" cy="875.86" r="1.35"/>
<circle cx="234.67" cy="874.71" r="1.35"/>
<circle cx="234.67" cy="872.90" r="1.35"/>
<circle cx="234.67" cy="870.44" r="1.35"/>
<circle cx="234.67" cy="967.23" r="1.35"/>
<circle cx="234.67" cy="972.63" r="1.35"/>
<circle cx="240.22" cy="866.50" r="1.35"/>
<circle cx="240.22" cy="865.77" r="1.35"/>
<circle cx="240.22" cy="965.04" r="1.35"/>
<circle cx="240.22" cy="967.96" r="1.35"/>
<circle cx="240.22" cy="971.90" r="1.35"/>
<circle cx="240.22" cy="972.56" r="1.35"/>
<circle cx="240.22" cy="974.38" r="1.35"/>
<circle cx="245.77" cy="867.08" r="1.35"/>
<circle cx="245.77" cy="876.57" r="1.35"/>
<circle cx="245.77" cy="876.26" r="1.35"/>
<circle cx="245.77" cy="875.42" r="1.35"/>
<circle cx="245.77" cy="874.08" r="1.35"/>
<circle cx="245.77" cy="872.27" r="1.35"/>
<circle cx="245.77" cy="870.00" r="1.35"/>
<circle cx="245.77" cy="961.24" r="1.35"/>
<circle cx="245.77" cy="962.12" r="1.35"/>
<circle cx="245.77" cy="965.33" r="1.35"/>
<circle cx="251.31" cy="875.11" r="1.35"/>
<circle cx="251.31" cy="874.09" r="1.35"/>
<circle cx="251.31" cy="962.70" r="1.35"/>
<circle cx="251.31" cy="966.06" r="1.35"/>
<circle cx="251.31" cy="966.65" r="1.35"/>
<circle cx="251.31" cy="968.25" r="1.35"/>
<circle cx="251.31" cy="986.35" r="1.35"/>
<circle cx="256.86" cy="871.46" r="1.35"/>
<circle cx="256.86" cy="878.47" r="1.35"/>
<circle cx="256.86" cy="877.88" r="1.35"/>
<circle cx="256.86" cy="876.28" r="1.35"/>
<circle cx="256.86" cy="958.76" r="1.35"/>
<circle cx="256.86" cy="959.13" r="1.35"/>
<circle cx="256.86" cy="960.13" r="1.35"/>
<circle cx="256.86" cy="961.72" r="1.35"/>
<circle cx="256.86" cy="963.87" r="1.35"/>
<circle cx="262.41" cy="865.62" r="1.35"/>
<circle cx="267.96" cy="965.33" r="1.35"/>
<circle cx="273.36" cy="866.50" r="1.35"/>
<circle cx="273.36" cy="871.17" r="1.35"/>
<circle cx="273.36" cy="963.87" r="1.35"/>
<circle cx="306.50" cy="884.60" r="1.35"/>
<rect x="44.71" y="933.94" width="4.30" height="19.42" fill="#f9b47a" stroke="#303030" stroke-width="0.9"/>
<line x1="44.71" y1="943.43" x2="49.01" y2="943.43" stroke="#303030" stroke-width="1.5" />
<rect x="50.26" y="942.41" width="4.30" height="21.17" fill="#f9b47a" stroke="#303030" stroke-width="0.9"/>
<line x1="50.26" y1="951.17" x2="54.56" y2="951.17" stroke="#303030" stroke-width="1.5" />
<rect x="55.66" y="930.58" width="4.30" height="10.66" fill="#f9b47a" stroke="#303030" stroke-width="0.9"/>
<line x1="55.66" y1="934.23" x2="59.96" y2="934.23" stroke="#303030" stroke-width="1.5" />
<rect x="61.21" y="932.19" width="4.30" height="5.40" fill="#f9b47a" stroke="#303030" stroke-width="0.9"/>
<line x1="61.21" y1="934.96" x2="65.51" y2="934.96" stroke="#303030" stroke-width="1.5" />
<rect x="66.76" y="928.54" width="4.30" height="24.09" fill="#f9b47a" stroke="#303030" stroke-width="0.9"/>
<line x1="66.76" y1="938.32" x2="71.06" y2="938.32" stroke="#303030" stroke-width="1.5" />
<rect x="72.16" y="912.77" width="4.30" height="35.77" fill="#f9b47a" stroke="#303030" stroke-width="0.9"/>
<line x1="72.16" y1="933.21" x2="76.46" y2="933.21" stroke="#303030" stroke-width="1.5" />
<rect x="77.70" y="930.58" width="4.30" height="18.69" fill="#f9b47a" stroke="#303030" stroke-width="0.9"/>
<line x1="77.70" y1="938.32" x2="82.00" y2="938.32" stroke="#303030" stroke-width="1.5" />
<rect x="83.25" y="926.64" width="4.30" height="22.63" fill="#f9b47a" stroke="#303030" stroke-width="0.9"/>
<line x1="83.25" y1="939.34" x2="87.55" y2="939.34" stroke="#303030" stroke-width="1.5" />
<rect x="88.80" y="920.80" width="4.30" height="23.36" fill="#f9b47a" stroke="#303030" stroke-width="0.9"/>
<line x1="88.80" y1="932.63" x2="93.10" y2="932.63" stroke="#303030" stroke-width="1.5" />
<rect x="94.20" y="924.01" width="4.30" height="21.61" fill="#f9b47a" stroke="#303030" stroke-width="0.9"/>
<line x1="94.20" y1="934.67" x2="98.50" y2="934.67" stroke="#303030" stroke-width="1.5" />
<rect x="99.75" y="922.26" width="4.30" height="20.88" fill="#f9b47a" stroke="#303030" stroke-width="0.9"/>
<line x1="99.75" y1="930.29" x2="104.05" y2="930.29" stroke="#303030" stroke-width="1.5" />
<rect x="105.30" y="920.80" width="4.30" height="23.36" fill="#f9b47a" stroke="#303030" stroke-width="0.9"/>
<line x1="105.30" y1="932.04" x2="109.60" y2="932.04" stroke="#303030" stroke-width="1.5" />
<rect x="110.84" y="921.09" width="4.30" height="23.36" fill="#f9b47a" stroke="#303030" stroke-width="0.9"/>
<line x1="110.84" y1="932.48" x2="115.14" y2="932.48" stroke="#303030" stroke-width="1.5" />
<rect x="116.39" y="921.53" width="4.30" height="21.61" fill="#f9b47a" stroke="#303030" stroke-width="0.9"/>
<line x1="116.39" y1="931.75" x2="120.69" y2="931.75" stroke="#303030" stroke-width="1.5" />
<rect x="121.94" y="920.51" width="4.30" height="21.75" fill="#f9b47a" stroke="#303030" stroke-width="0.9"/>
<line x1="121.94" y1="931.02" x2="126.24" y2="931.02" stroke="#303030" stroke-width="1.5" />
<rect x="127.49" y="918.61" width="4.30" height="22.77" fill="#f9b47a" stroke="#303030" stroke-width="0.9"/>
<line x1="127.49" y1="929.85" x2="131.79" y2="929.85" stroke="#303030" stroke-width="1.5" />
<rect x="133.03" y="919.34" width="4.30" height="21.90" fill="#f9b47a" stroke="#303030" stroke-width="0.9"/>
<line x1="133.03" y1="929.27" x2="137.33" y2="929.27" stroke="#303030" stroke-width="1.5" />
<rect x="138.69" y="919.64" width="4.30" height="21.17" fill="#f9b47a" stroke="#303030" stroke-width="0.9"/>
<line x1="138.69" y1="929.56" x2="142.99" y2="929.56" stroke="#303030" stroke-width="1.5" />
<rect x="144.24" y="917.59" width="4.30" height="21.75" fill="#f9b47a" stroke="#303030" stroke-width="0.9"/>
<line x1="144.24" y1="928.54" x2="148.54" y2="928.54" stroke="#303030" stroke-width="1.5" />
<rect x="149.78" y="918.32" width="4.30" height="21.02" fill="#f9b47a" stroke="#303030" stroke-width="0.9"/>
<line x1="149.78" y1="928.83" x2="154.08" y2="928.83" stroke="#303030" stroke-width="1.5" />
<rect x="155.19" y="917.45" width="4.30" height="20.88" fill="#f9b47a" stroke="#303030" stroke-width="0.9"/>
<line x1="155.19" y1="927.37" x2="159.49" y2="927.37" stroke="#303030" stroke-width="1.5" />
<rect x="160.73" y="917.45" width="4.30" height="20.88" fill="#f9b47a" stroke="#303030" stroke-width="0.9"/>
<line x1="160.73" y1="927.66" x2="165.03" y2="927.66" stroke="#303030" stroke-width="1.5" />
<rect x="166.28" y="916.42" width="4.30" height="20.88" fill="#f9b47a" stroke="#303030" stroke-width="0.9"/>
<line x1="166.28" y1="926.35" x2="170.58" y2="926.35" stroke="#303030" stroke-width="1.5" />
<rect x="171.68" y="915.69" width="4.30" height="21.46" fill="#f9b47a" stroke="#303030" stroke-width="0.9"/>
<line x1="171.68" y1="925.91" x2="175.98" y2="925.91" stroke="#303030" stroke-width="1.5" />
<rect x="177.23" y="915.40" width="4.30" height="21.02" fill="#f9b47a" stroke="#303030" stroke-width="0.9"/>
<line x1="177.23" y1="926.06" x2="181.53" y2="926.06" stroke="#303030" stroke-width="1.5" />
<rect x="182.78" y="915.69" width="4.30" height="20.44" fill="#f9b47a" stroke="#303030" stroke-width="0.9"/>
<line x1="182.78" y1="925.47" x2="187.08" y2="925.47" stroke="#303030" stroke-width="1.5" />
<rect x="188.18" y="914.23" width="4.30" height="21.90" fill="#f9b47a" stroke="#303030" stroke-width="0.9"/>
<line x1="188.18" y1="925.62" x2="192.48" y2="925.62" stroke="#303030" stroke-width="1.5" />
<rect x="193.73" y="913.50" width="4.30" height="21.61" fill="#f9b47a" stroke="#303030" stroke-width="0.9"/>
<line x1="193.73" y1="924.01" x2="198.03" y2="924.01" stroke="#303030" stroke-width="1.5" />
<rect x="199.27" y="913.50" width="4.30" height="20.88" fill="#f9b47a" stroke="#303030" stroke-width="0.9"/>
<line x1="199.27" y1="923.72" x2="203.57" y2="923.72" stroke="#303030" stroke-width="1.5" />
<rect x="204.82" y="912.77" width="4.30" height="21.46" fill="#f9b47a" stroke="#303030" stroke-width="0.9"/>
<line x1="204.82" y1="922.99" x2="209.12" y2="922.99" stroke="#303030" stroke-width="1.5" />
<rect x="210.22" y="912.77" width="4.30" height="20.73" fill="#f9b47a" stroke="#303030" stroke-width="0.9"/>
<line x1="210.22" y1="922.55" x2="214.52" y2="922.55" stroke="#303030" stroke-width="1.5" />
<rect x="215.77" y="912.04" width="4.30" height="20.44" fill="#f9b47a" stroke="#303030" stroke-width="0.9"/>
<line x1="215.77" y1="922.26" x2="220.07" y2="922.26" stroke="#303030" stroke-width="1.5" />
<rect x="221.32" y="912.34" width="4.30" height="18.98" fill="#f9b47a" stroke="#303030" stroke-width="0.9"/>
<line x1="221.32" y1="921.53" x2="225.62" y2="921.53" stroke="#303030" stroke-width="1.5" />
<rect x="226.86" y="911.61" width="4.30" height="19.71" fill="#f9b47a" stroke="#303030" stroke-width="0.9"/>
<line x1="226.86" y1="920.80" x2="231.16" y2="920.80" stroke="#303030" stroke-width="1.5" />
<rect x="232.52" y="910.58" width="4.30" height="22.63" fill="#f9b47a" stroke="#303030" stroke-width="0.9"/>
<line x1="232.52" y1="921.24" x2="236.82" y2="921.24" stroke="#303030" stroke-width="1.5" />
<rect x="238.07" y="909.42" width="4.30" height="21.61" fill="#f9b47a" stroke="#303030" stroke-width="0.9"/>
<line x1="238.07" y1="919.78" x2="242.37" y2="919.78" stroke="#303030" stroke-width="1.5" />
<rect x="243.62" y="908.39" width="4.30" height="20.88" fill="#f9b47a" stroke="#303030" stroke-width="0.9"/>
<line x1="243.62" y1="918.32" x2="247.92" y2="918.32" stroke="#303030" stroke-width="1.5" />
<rect x="249.16" y="907.66" width="4.30" height="20.44" fill="#f9b47a" stroke="#303030" stroke-width="0.9"/>
<line x1="249.16" y1="917.45" x2="253.46" y2="917.45" stroke="#303030" stroke-width="1.5" />
<rect x="254.71" y="908.39" width="4.30" height="20.00" fill="#f9b47a" stroke="#303030" stroke-width="0.9"/>
<line x1="254.71" y1="917.88" x2="259.01" y2="917.88" stroke="#303030" stroke-width="1.5" />
<rect x="260.26" y="906.50" width="4.30" height="21.90" fill="#f9b47a" stroke="#303030" stroke-width="0.9"/>
<line x1="260.26" y1="918.18" x2="264.56" y2="918.18" stroke="#303030" stroke-width="1.5" />
<rect x="265.81" y="907.66" width="4.30" height="20.88" fill="#f9b47a" stroke="#303030" stroke-width="0.9"/>
<line x1="265.81" y1="919.34" x2="270.11" y2="919.34" stroke="#303030" stroke-width="1.5" />
<rect x="271.21" y="908.10" width="4.30" height="18.25" fill="#f9b47a" stroke="#303030" stroke-width="0.9"/>
<line x1="271.21" y1="917.45" x2="275.51" y2="917.45" stroke="#303030" stroke-width="1.5" />
<rect x="276.76" y="904.31" width="4.30" height="21.17" fill="#f9b47a" stroke="#303030" stroke-width="0.9"/>
<line x1="276.76" y1="916.13" x2="281.06" y2="916.13" stroke="#303030" stroke-width="1.5" />
<rect x="282.30" y="902.26" width="4.30" height="21.75" fill="#f9b47a" stroke="#303030" stroke-width="0.9"/>
<line x1="282.30" y1="911.31" x2="286.60" y2="911.31" stroke="#303030" stroke-width="1.5" />
<rect x="287.85" y="906.20" width="4.30" height="20.15" fill="#f9b47a" stroke="#303030" stroke-width="0.9"/>
<line x1="287.85" y1="916.13" x2="292.15" y2="916.13" stroke="#303030" stroke-width="1.5" />
<rect x="293.40" y="905.04" width="4.30" height="17.37" fill="#f9b47a" stroke="#303030" stroke-width="0.9"/>
<line x1="293.40" y1="910.58" x2="297.70" y2="910.58" stroke="#303030" stroke-width="1.5" />
<rect x="298.94" y="904.45" width="4.30" height="14.89" fill="#f9b47a" stroke="#303030" stroke-width="0.9"/>
<line x1="298.94" y1="913.21" x2="303.24" y2="913.21" stroke="#303030" stroke-width="1.5" />
<rect x="304.35" y="909.42" width="4.30" height="10.80" fill="#f9b47a" stroke="#303030" stroke-width="0.9"/>
<line x1="304.35" y1="915.99" x2="308.65" y2="915.99" stroke="#303030" stroke-width="1.5" />
<rect x="310.19" y="913.50" width="4.30" height="7.15" fill="#f9b47a" stroke="#303030" stroke-width="0.9"/>
<line x1="310.19" y1="918.18" x2="314.49" y2="918.18" stroke="#303030" stroke-width="1.5" />
</g>
<line x1="43.80" y1="846.60" x2="43.80" y2="1038.35" stroke="#000" stroke-width="1.7" />
<line x1="42.95" y1="1037.50" x2="315.20" y2="1037.50" stroke="#000" stroke-width="1.7" />
<line x1="39.60" y1="846.60" x2="43.80" y2="846.60" stroke="#000" stroke-width="1.4" />
<text x="36.30" y="851.10" font-size="12.5" text-anchor="end" fill="#474747" font-family="Liberation Sans, Arial, sans-serif" >60</text>
<line x1="39.60" y1="910.50" x2="43.80" y2="910.50" stroke="#000" stroke-width="1.4" />
<text x="36.30" y="915.00" font-size="12.5" text-anchor="end" fill="#474747" font-family="Liberation Sans, Arial, sans-serif" >55</text>
<line x1="39.60" y1="974.20" x2="43.80" y2="974.20" stroke="#000" stroke-width="1.4" />
<text x="36.30" y="978.70" font-size="12.5" text-anchor="end" fill="#474747" font-family="Liberation Sans, Arial, sans-serif" >50</text>
<line x1="39.60" y1="1037.50" x2="43.80" y2="1037.50" stroke="#000" stroke-width="1.4" />
<text x="36.30" y="1042.00" font-size="12.5" text-anchor="end" fill="#474747" font-family="Liberation Sans, Arial, sans-serif" >45</text>
<line x1="80.40" y1="1037.50" x2="80.40" y2="1041.70" stroke="#000" stroke-width="1.4" />
<text x="80.40" y="1053.90" font-size="12.5" text-anchor="middle" fill="#474747" font-family="Liberation Sans, Arial, sans-serif" >35</text>
<line x1="108.05" y1="1037.50" x2="108.05" y2="1041.70" stroke="#000" stroke-width="1.4" />
<text x="108.05" y="1053.90" font-size="12.5" text-anchor="middle" fill="#474747" font-family="Liberation Sans, Arial, sans-serif" >40</text>
<line x1="135.70" y1="1037.50" x2="135.70" y2="1041.70" stroke="#000" stroke-width="1.4" />
<text x="135.70" y="1053.90" font-size="12.5" text-anchor="middle" fill="#474747" font-family="Liberation Sans, Arial, sans-serif" >45</text>
<line x1="163.35" y1="1037.50" x2="163.35" y2="1041.70" stroke="#000" stroke-width="1.4" />
<text x="163.35" y="1053.90" font-size="12.5" text-anchor="middle" fill="#474747" font-family="Liberation Sans, Arial, sans-serif" >50</text>
<line x1="191.00" y1="1037.50" x2="191.00" y2="1041.70" stroke="#000" stroke-width="1.4" />
<text x="191.00" y="1053.90" font-size="12.5" text-anchor="middle" fill="#474747" font-family="Liberation Sans, Arial, sans-serif" >55</text>
<line x1="218.65" y1="1037.50" x2="218.65" y2="1041.70" stroke="#000" stroke-width="1.4" />
<text x="218.65" y="1053.90" font-size="12.5" text-anchor="middle" fill="#474747" font-family="Liberation Sans, Arial, sans-serif" >60</text>
<line x1="246.30" y1="1037.50" x2="246.30" y2="1041.70" stroke="#000" stroke-width="1.4" />
<text x="246.30" y="1053.90" font-size="12.5" text-anchor="middle" fill="#474747" font-family="Liberation Sans, Arial, sans-serif" >65</text>
<line x1="273.95" y1="1037.50" x2="273.95" y2="1041.70" stroke="#000" stroke-width="1.4" />
<text x="273.95" y="1053.90" font-size="12.5" text-anchor="middle" fill="#474747" font-family="Liberation Sans, Arial, sans-serif" >70</text>
<text transform="translate(17.00,942.50) rotate(-90)" font-size="12" text-anchor="middle" fill="#000" font-family="Liberation Sans, Arial, sans-serif">Metabolite Signature Score</text>
<text x="183.70" y="1075.00" font-size="12" text-anchor="middle" fill="#000" font-family="Liberation Sans, Arial, sans-serif" >UPDI</text>
<text x="51.50" y="862.80" font-size="13.35" text-anchor="start" fill="#000" font-family="Liberation Sans, Arial, sans-serif" >R = 0.21</text>
<text x="341.40" y="297.90" font-size="20.2" text-anchor="start" fill="#000" font-family="Liberation Serif, Times New Roman, serif" font-weight="bold" stroke="#000" stroke-width="0.5" stroke-linejoin="round" letter-spacing="0.3">(F)</text>
<text x="506.00" y="303.50" font-size="12" text-anchor="middle" fill="#000" font-family="Liberation Sans, Arial, sans-serif" >PDI metabolic signature score</text>
<line x1="370.20" y1="368.40" x2="645.80" y2="368.40" stroke="#bdbdbd" stroke-width="1.5" stroke-dasharray="6.5 6.3"/>
<line x1="399.80" y1="468.70" x2="399.80" y2="476.20" stroke="#3a9cc6" stroke-width="1.35" stroke-linecap="round"/>
<path d="M399.80,470.08 L402.00,474.18 L397.60,474.18 Z" fill="#3a9cc6"/>
<line x1="409.60" y1="441.40" x2="409.60" y2="449.10" stroke="#3a9cc6" stroke-width="1.35" stroke-linecap="round"/>
<circle cx="409.60" cy="445.20" r="1.75" fill="#3a9cc6"/>
<line x1="419.40" y1="439.80" x2="419.40" y2="447.30" stroke="#3a9cc6" stroke-width="1.35" stroke-linecap="round"/>
<rect x="417.80" y="441.90" width="3.20" height="3.20" fill="#3a9cc6"/>
<line x1="498.30" y1="428.40" x2="498.30" y2="434.60" stroke="#3a9cc6" stroke-width="1.35" stroke-linecap="round"/>
<path d="M498.30,428.88 L500.50,432.97 L496.10,432.97 Z" fill="#3a9cc6"/>
<line x1="508.20" y1="404.90" x2="508.20" y2="410.90" stroke="#3a9cc6" stroke-width="1.35" stroke-linecap="round"/>
<circle cx="508.20" cy="407.50" r="1.75" fill="#3a9cc6"/>
<line x1="517.90" y1="403.70" x2="517.90" y2="410.60" stroke="#3a9cc6" stroke-width="1.35" stroke-linecap="round"/>
<rect x="516.30" y="405.40" width="3.20" height="3.20" fill="#3a9cc6"/>
<line x1="596.80" y1="337.70" x2="596.80" y2="352.50" stroke="#3a9cc6" stroke-width="1.35" stroke-linecap="round"/>
<path d="M596.80,342.28 L599.00,346.38 L594.59,346.38 Z" fill="#3a9cc6"/>
<line x1="606.60" y1="346.70" x2="606.60" y2="363.50" stroke="#3a9cc6" stroke-width="1.35" stroke-linecap="round"/>
<circle cx="606.60" cy="355.10" r="1.75" fill="#3a9cc6"/>
<line x1="616.50" y1="347.50" x2="616.50" y2="364.30" stroke="#3a9cc6" stroke-width="1.35" stroke-linecap="round"/>
<rect x="614.90" y="354.00" width="3.20" height="3.20" fill="#3a9cc6"/>
<line x1="370.20" y1="305.90" x2="370.20" y2="492.05" stroke="#000" stroke-width="1.7" />
<line x1="369.35" y1="491.20" x2="645.80" y2="491.20" stroke="#000" stroke-width="1.7" />
<line x1="366.00" y1="368.40" x2="370.20" y2="368.40" stroke="#000" stroke-width="1.4" />
<text x="362.90" y="372.90" font-size="12" text-anchor="end" fill="#474747" font-family="Liberation Sans, Arial, sans-serif" >0</text>
<line x1="366.00" y1="436.40" x2="370.20" y2="436.40" stroke="#000" stroke-width="1.4" />
<text x="362.90" y="440.90" font-size="12" text-anchor="end" fill="#474747" font-family="Liberation Sans, Arial, sans-serif" >-1</text>
<line x1="409.60" y1="491.20" x2="409.60" y2="495.40" stroke="#000" stroke-width="1.4" />
<text x="409.60" y="507.70" font-size="12" text-anchor="middle" fill="#474747" font-family="Liberation Sans, Arial, sans-serif" >KDM-BA</text>
<text x="409.60" y="520.70" font-size="12" text-anchor="middle" fill="#474747" font-family="Liberation Sans, Arial, sans-serif" >acceleration</text>
<line x1="508.30" y1="491.20" x2="508.30" y2="495.40" stroke="#000" stroke-width="1.4" />
<text x="508.30" y="507.70" font-size="12" text-anchor="middle" fill="#474747" font-family="Liberation Sans, Arial, sans-serif" >PhenoAge</text>
<text x="508.30" y="520.70" font-size="12" text-anchor="middle" fill="#474747" font-family="Liberation Sans, Arial, sans-serif" >acceleration</text>
<line x1="606.50" y1="491.20" x2="606.50" y2="495.40" stroke="#000" stroke-width="1.4" />
<text x="606.50" y="507.70" font-size="12" text-anchor="middle" fill="#474747" font-family="Liberation Sans, Arial, sans-serif" >Telomere length</text>
<text x="606.50" y="520.70" font-size="12" text-anchor="middle" fill="#474747" font-family="Liberation Sans, Arial, sans-serif" >(percent change)</text>
<text transform="translate(346.40,398.00) rotate(-90)" font-size="12" text-anchor="middle" fill="#000" font-family="Liberation Sans, Arial, sans-serif">β (95% CI)</text>
<text x="341.50" y="567.90" font-size="20.2" text-anchor="start" fill="#000" font-family="Liberation Serif, Times New Roman, serif" font-weight="bold" stroke="#000" stroke-width="0.5" stroke-linejoin="round" letter-spacing="0.3">(G)</text>
<text x="509.50" y="575.50" font-size="12" text-anchor="middle" fill="#000" font-family="Liberation Sans, Arial, sans-serif" >hPDI metabolic signature score</text>
<line x1="370.20" y1="621.90" x2="645.80" y2="621.90" stroke="#bdbdbd" stroke-width="1.5" stroke-dasharray="6.5 6.3"/>
<line x1="399.80" y1="743.00" x2="399.80" y2="749.00" stroke="#1a9e3c" stroke-width="1.35" stroke-linecap="round"/>
<path d="M399.80,743.38 L402.00,747.48 L397.60,747.48 Z" fill="#1a9e3c"/>
<line x1="409.60" y1="709.80" x2="409.60" y2="716.10" stroke="#1a9e3c" stroke-width="1.35" stroke-linecap="round"/>
<circle cx="409.60" cy="713.00" r="1.75" fill="#1a9e3c"/>
<line x1="419.40" y1="708.10" x2="419.40" y2="714.80" stroke="#1a9e3c" stroke-width="1.35" stroke-linecap="round"/>
<rect x="417.80" y="709.90" width="3.20" height="3.20" fill="#1a9e3c"/>
<line x1="498.30" y1="721.40" x2="498.30" y2="726.10" stroke="#1a9e3c" stroke-width="1.35" stroke-linecap="round"/>
<path d="M498.30,721.18 L500.50,725.28 L496.10,725.28 Z" fill="#1a9e3c"/>
<line x1="508.20" y1="691.80" x2="508.20" y2="696.50" stroke="#1a9e3c" stroke-width="1.35" stroke-linecap="round"/>
<circle cx="508.20" cy="694.10" r="1.75" fill="#1a9e3c"/>
<line x1="517.90" y1="690.50" x2="517.90" y2="695.20" stroke="#1a9e3c" stroke-width="1.35" stroke-linecap="round"/>
<rect x="516.30" y="691.30" width="3.20" height="3.20" fill="#1a9e3c"/>
<line x1="596.80" y1="588.60" x2="596.80" y2="601.10" stroke="#1a9e3c" stroke-width="1.35" stroke-linecap="round"/>
<path d="M596.80,592.68 L599.00,596.78 L594.59,596.78 Z" fill="#1a9e3c"/>
<line x1="606.60" y1="596.40" x2="606.60" y2="609.90" stroke="#1a9e3c" stroke-width="1.35" stroke-linecap="round"/>
<circle cx="606.60" cy="603.30" r="1.75" fill="#1a9e3c"/>
<line x1="616.50" y1="597.10" x2="616.50" y2="611.20" stroke="#1a9e3c" stroke-width="1.35" stroke-linecap="round"/>
<rect x="614.90" y="602.20" width="3.20" height="3.20" fill="#1a9e3c"/>
<line x1="370.20" y1="575.10" x2="370.20" y2="761.35" stroke="#000" stroke-width="1.7" />
<line x1="369.35" y1="760.50" x2="645.80" y2="760.50" stroke="#000" stroke-width="1.7" />
<line x1="366.00" y1="621.90" x2="370.20" y2="621.90" stroke="#000" stroke-width="1.4" />
<text x="362.90" y="626.40" font-size="12" text-anchor="end" fill="#474747" font-family="Liberation Sans, Arial, sans-serif" >0</text>
<line x1="366.00" y1="676.10" x2="370.20" y2="676.10" stroke="#000" stroke-width="1.4" />
<text x="362.90" y="680.60" font-size="12" text-anchor="end" fill="#474747" font-family="Liberation Sans, Arial, sans-serif" >-1</text>
<line x1="366.00" y1="730.30" x2="370.20" y2="730.30" stroke="#000" stroke-width="1.4" />
<text x="362.90" y="734.80" font-size="12" text-anchor="end" fill="#474747" font-family="Liberation Sans, Arial, sans-serif" >-2</text>
<line x1="409.60" y1="760.50" x2="409.60" y2="764.70" stroke="#000" stroke-width="1.4" />
<text x="409.60" y="777.00" font-size="12" text-anchor="middle" fill="#474747" font-family="Liberation Sans, Arial, sans-serif" >KDM-BA</text>
<text x="409.60" y="790.00" font-size="12" text-anchor="middle" fill="#474747" font-family="Liberation Sans, Arial, sans-serif" >acceleration</text>
<line x1="508.30" y1="760.50" x2="508.30" y2="764.70" stroke="#000" stroke-width="1.4" />
<text x="508.30" y="777.00" font-size="12" text-anchor="middle" fill="#474747" font-family="Liberation Sans, Arial, sans-serif" >PhenoAge</text>
<text x="508.30" y="790.00" font-size="12" text-anchor="middle" fill="#474747" font-family="Liberation Sans, Arial, sans-serif" >acceleration</text>
<line x1="606.50" y1="760.50" x2="606.50" y2="764.70" stroke="#000" stroke-width="1.4" />
<text x="606.50" y="777.00" font-size="12" text-anchor="middle" fill="#474747" font-family="Liberation Sans, Arial, sans-serif" >Telomere length</text>
<text x="606.50" y="790.00" font-size="12" text-anchor="middle" fill="#474747" font-family="Liberation Sans, Arial, sans-serif" >(percent change)</text>
<text transform="translate(346.40,667.00) rotate(-90)" font-size="12" text-anchor="middle" fill="#000" font-family="Liberation Sans, Arial, sans-serif">β (95% CI)</text>
<text x="345.80" y="842.60" font-size="20.2" text-anchor="start" fill="#000" font-family="Liberation Serif, Times New Roman, serif" font-weight="bold" stroke="#000" stroke-width="0.5" stroke-linejoin="round" letter-spacing="0.3">(H)</text>
<text x="503.60" y="847.90" font-size="12" text-anchor="middle" fill="#000" font-family="Liberation Sans, Arial, sans-serif" >uPDI metabolic signature score</text>
<line x1="380.50" y1="963.60" x2="642.00" y2="963.60" stroke="#bdbdbd" stroke-width="1.5" stroke-dasharray="6.5 6.3"/>
<line x1="408.60" y1="869.40" x2="408.60" y2="879.40" stroke="#ee7a2b" stroke-width="1.35" stroke-linecap="round"/>
<path d="M408.60,871.78 L410.81,875.88 L406.40,875.88 Z" fill="#ee7a2b"/>
<line x1="418.20" y1="910.10" x2="418.20" y2="919.30" stroke="#ee7a2b" stroke-width="1.35" stroke-linecap="round"/>
<circle cx="418.20" cy="914.70" r="1.75" fill="#ee7a2b"/>
<line x1="427.70" y1="913.90" x2="427.70" y2="922.90" stroke="#ee7a2b" stroke-width="1.35" stroke-linecap="round"/>
<rect x="426.10" y="916.60" width="3.20" height="3.20" fill="#ee7a2b"/>
<line x1="503.60" y1="857.30" x2="503.60" y2="865.60" stroke="#ee7a2b" stroke-width="1.35" stroke-linecap="round"/>
<path d="M503.60,858.98 L505.81,863.08 L501.40,863.08 Z" fill="#ee7a2b"/>
<line x1="513.10" y1="894.00" x2="513.10" y2="901.30" stroke="#ee7a2b" stroke-width="1.35" stroke-linecap="round"/>
<circle cx="513.10" cy="897.60" r="1.75" fill="#ee7a2b"/>
<line x1="522.40" y1="897.00" x2="522.40" y2="904.50" stroke="#ee7a2b" stroke-width="1.35" stroke-linecap="round"/>
<rect x="520.80" y="899.30" width="3.20" height="3.20" fill="#ee7a2b"/>
<line x1="598.30" y1="997.40" x2="598.30" y2="1018.50" stroke="#ee7a2b" stroke-width="1.35" stroke-linecap="round"/>
<path d="M598.30,1005.58 L600.50,1009.68 L596.09,1009.68 Z" fill="#ee7a2b"/>
<line x1="607.80" y1="988.40" x2="607.80" y2="1010.20" stroke="#ee7a2b" stroke-width="1.35" stroke-linecap="round"/>
<circle cx="607.80" cy="999.30" r="1.75" fill="#ee7a2b"/>
<line x1="617.40" y1="987.10" x2="617.40" y2="1009.40" stroke="#ee7a2b" stroke-width="1.35" stroke-linecap="round"/>
<rect x="615.80" y="996.90" width="3.20" height="3.20" fill="#ee7a2b"/>
<line x1="380.50" y1="844.40" x2="380.50" y2="1037.55" stroke="#000" stroke-width="1.7" />
<line x1="379.65" y1="1036.70" x2="645.80" y2="1036.70" stroke="#000" stroke-width="1.7" />
<line x1="376.30" y1="871.50" x2="380.50" y2="871.50" stroke="#000" stroke-width="1.4" />
<text x="373.20" y="876.00" font-size="12" text-anchor="end" fill="#474747" font-family="Liberation Sans, Arial, sans-serif" >1.0</text>
<line x1="376.30" y1="917.50" x2="380.50" y2="917.50" stroke="#000" stroke-width="1.4" />
<text x="373.20" y="922.00" font-size="12" text-anchor="end" fill="#474747" font-family="Liberation Sans, Arial, sans-serif" >0.5</text>
<line x1="376.30" y1="963.60" x2="380.50" y2="963.60" stroke="#000" stroke-width="1.4" />
<text x="373.20" y="968.10" font-size="12" text-anchor="end" fill="#474747" font-family="Liberation Sans, Arial, sans-serif" >0.0</text>
<line x1="376.30" y1="1010.10" x2="380.50" y2="1010.10" stroke="#000" stroke-width="1.4" />
<text x="373.20" y="1014.60" font-size="12" text-anchor="end" fill="#474747" font-family="Liberation Sans, Arial, sans-serif" >-0.5</text>
<line x1="418.20" y1="1036.70" x2="418.20" y2="1040.90" stroke="#000" stroke-width="1.4" />
<text x="418.20" y="1053.20" font-size="12" text-anchor="middle" fill="#474747" font-family="Liberation Sans, Arial, sans-serif" >KDM-BA</text>
<text x="418.20" y="1066.20" font-size="12" text-anchor="middle" fill="#474747" font-family="Liberation Sans, Arial, sans-serif" >acceleration</text>
<line x1="513.10" y1="1036.70" x2="513.10" y2="1040.90" stroke="#000" stroke-width="1.4" />
<text x="513.10" y="1053.20" font-size="12" text-anchor="middle" fill="#474747" font-family="Liberation Sans, Arial, sans-serif" >PhenoAge</text>
<text x="513.10" y="1066.20" font-size="12" text-anchor="middle" fill="#474747" font-family="Liberation Sans, Arial, sans-serif" >acceleration</text>
<line x1="607.80" y1="1036.70" x2="607.80" y2="1040.90" stroke="#000" stroke-width="1.4" />
<text x="607.80" y="1053.20" font-size="12" text-anchor="middle" fill="#474747" font-family="Liberation Sans, Arial, sans-serif" >Telomere length</text>
<text x="607.80" y="1066.20" font-size="12" text-anchor="middle" fill="#474747" font-family="Liberation Sans, Arial, sans-serif" >(percent change)</text>
<text transform="translate(346.40,940.00) rotate(-90)" font-size="12" text-anchor="middle" fill="#000" font-family="Liberation Sans, Arial, sans-serif">β (95% CI)</text>
<path d="M675.8,428.8 L684.8,433.6 L675.8,438.4 Z" fill="#000"/>
<text transform="translate(675.90,445.50) rotate(90)" font-size="12" text-anchor="start" fill="#000" font-family="Liberation Sans, Arial, sans-serif">Model 1</text>
<circle cx="679.3" cy="516" r="3.9" fill="#000"/>
<text transform="translate(675.90,529.00) rotate(90)" font-size="12" text-anchor="start" fill="#000" font-family="Liberation Sans, Arial, sans-serif">Model 2</text>
<rect x="675.2" y="601.6" width="8.4" height="8.4" fill="#000"/>
<text transform="translate(675.90,617.50) rotate(90)" font-size="12" text-anchor="start" fill="#000" font-family="Liberation Sans, Arial, sans-serif">Model 3</text>
</svg>
</body></html>
